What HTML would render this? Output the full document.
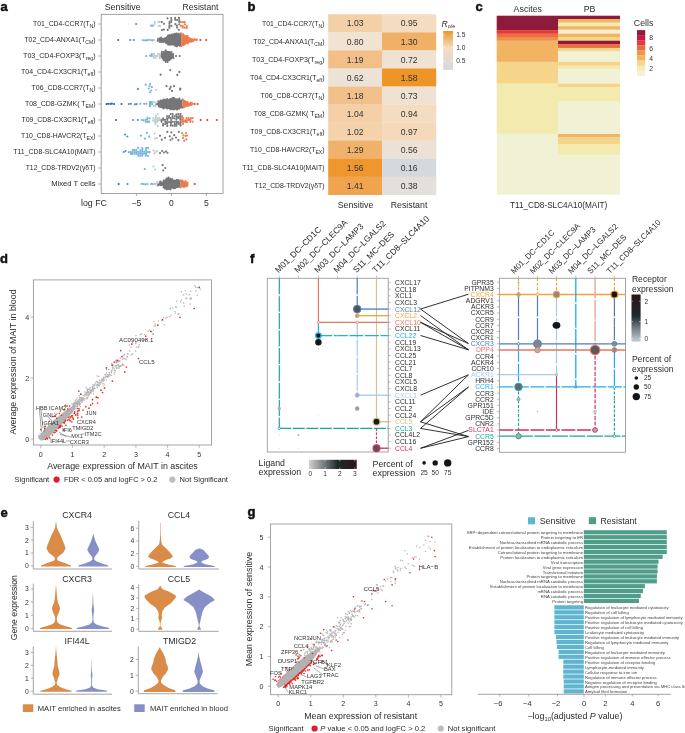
<!DOCTYPE html>
<html><head><meta charset="utf-8"><title>Figure</title>
<style>html,body{margin:0;padding:0;background:#fff;} body{width:685px;height:733px;overflow:hidden;font-family:"Liberation Sans",sans-serif;} svg{display:block;will-change:transform;}</style>
</head><body>
<svg width="685" height="733" viewBox="0 0 685 733" font-family='"Liberation Sans", sans-serif'><text x="0.5" y="10.6" font-size="13" text-anchor="start" fill="#111" font-weight="bold" stroke="#111" stroke-width="0.5">a</text>
<text x="104.7" y="10.1" font-size="8.9" text-anchor="start" fill="#2b2b2b" >Sensitive</text>
<text x="182.6" y="10.1" font-size="8.6" text-anchor="start" fill="#2b2b2b" >Resistant</text>
<rect x="101.2" y="14.3" width="121.8" height="179.1" fill="none" stroke="#8a8a8a" stroke-width="0.8"/>
<text x="95.6" y="26.4" font-size="6.95" text-anchor="end" fill="#2b2b2b" textLength="62.5" lengthAdjust="spacingAndGlyphs">T01_CD4-CCR7(T<tspan font-size="5.14" dy="1.9">N</tspan><tspan dy="-1.9">)</tspan></text>
<line x1="98.4" y1="24.0" x2="101.2" y2="24.0" stroke="#8a8a8a" stroke-width="0.7" />
<text x="95.6" y="42.4" font-size="6.95" text-anchor="end" fill="#2b2b2b" textLength="71.2" lengthAdjust="spacingAndGlyphs">T02_CD4-ANXA1(T<tspan font-size="5.14" dy="1.9">CM</tspan><tspan dy="-1.9">)</tspan></text>
<line x1="98.4" y1="40.0" x2="101.2" y2="40.0" stroke="#8a8a8a" stroke-width="0.7" />
<text x="95.6" y="58.4" font-size="6.95" text-anchor="end" fill="#2b2b2b" textLength="72.5" lengthAdjust="spacingAndGlyphs">T03_CD4-FOXP3(T<tspan font-size="5.14" dy="1.9">reg</tspan><tspan dy="-1.9">)</tspan></text>
<line x1="98.4" y1="56.0" x2="101.2" y2="56.0" stroke="#8a8a8a" stroke-width="0.7" />
<text x="95.6" y="74.4" font-size="6.95" text-anchor="end" fill="#2b2b2b" textLength="74.5" lengthAdjust="spacingAndGlyphs">T04_CD4-CX3CR1(T<tspan font-size="5.14" dy="1.9">eff</tspan><tspan dy="-1.9">)</tspan></text>
<line x1="98.4" y1="72.0" x2="101.2" y2="72.0" stroke="#8a8a8a" stroke-width="0.7" />
<text x="95.6" y="90.4" font-size="6.95" text-anchor="end" fill="#2b2b2b" textLength="64" lengthAdjust="spacingAndGlyphs">T06_CD8-CCR7(T<tspan font-size="5.14" dy="1.9">N</tspan><tspan dy="-1.9">)</tspan></text>
<line x1="98.4" y1="88.0" x2="101.2" y2="88.0" stroke="#8a8a8a" stroke-width="0.7" />
<text x="95.6" y="106.4" font-size="6.95" text-anchor="end" fill="#2b2b2b" textLength="70.7" lengthAdjust="spacingAndGlyphs">T08_CD8-GZMK( T<tspan font-size="5.14" dy="1.9">EM</tspan><tspan dy="-1.9">)</tspan></text>
<line x1="98.4" y1="104.0" x2="101.2" y2="104.0" stroke="#8a8a8a" stroke-width="0.7" />
<text x="95.6" y="122.4" font-size="6.95" text-anchor="end" fill="#2b2b2b" textLength="74.2" lengthAdjust="spacingAndGlyphs">T09_CD8-CX3CR1(T<tspan font-size="5.14" dy="1.9">eff</tspan><tspan dy="-1.9">)</tspan></text>
<line x1="98.4" y1="120.0" x2="101.2" y2="120.0" stroke="#8a8a8a" stroke-width="0.7" />
<text x="95.6" y="138.4" font-size="6.95" text-anchor="end" fill="#2b2b2b" textLength="74.6" lengthAdjust="spacingAndGlyphs">T10_CD8-HAVCR2(T<tspan font-size="5.14" dy="1.9">EX</tspan><tspan dy="-1.9">)</tspan></text>
<line x1="98.4" y1="136.0" x2="101.2" y2="136.0" stroke="#8a8a8a" stroke-width="0.7" />
<text x="95.6" y="154.4" font-size="6.95" text-anchor="end" fill="#2b2b2b" textLength="82.3" lengthAdjust="spacingAndGlyphs">T11_CD8-SLC4A10(MAIT)</text>
<line x1="98.4" y1="152.0" x2="101.2" y2="152.0" stroke="#8a8a8a" stroke-width="0.7" />
<text x="95.6" y="170.4" font-size="6.95" text-anchor="end" fill="#2b2b2b" textLength="69.9" lengthAdjust="spacingAndGlyphs">T12_CD8-TRDV2(γδT)</text>
<line x1="98.4" y1="168.0" x2="101.2" y2="168.0" stroke="#8a8a8a" stroke-width="0.7" />
<text x="95.6" y="186.4" font-size="6.95" text-anchor="end" fill="#2b2b2b" textLength="44.4" lengthAdjust="spacingAndGlyphs">Mixed T cells</text>
<line x1="98.4" y1="184.0" x2="101.2" y2="184.0" stroke="#8a8a8a" stroke-width="0.7" />
<line x1="136.4" y1="193.4" x2="136.4" y2="196.0" stroke="#8a8a8a" stroke-width="0.7" />
<text x="136.4" y="206.2" font-size="8.6" text-anchor="middle" fill="#2b2b2b" >−5</text>
<line x1="171.4" y1="193.4" x2="171.4" y2="196.0" stroke="#8a8a8a" stroke-width="0.7" />
<text x="171.4" y="206.2" font-size="8.6" text-anchor="middle" fill="#2b2b2b" >0</text>
<line x1="206.4" y1="193.4" x2="206.4" y2="196.0" stroke="#8a8a8a" stroke-width="0.7" />
<text x="206.4" y="206.2" font-size="8.6" text-anchor="middle" fill="#2b2b2b" >5</text>
<text x="81.0" y="206.2" font-size="8.8" text-anchor="start" fill="#2b2b2b" >log FC</text>
<circle cx="136.1" cy="24.0" r="1.08" fill="#4c8fcc"/>
<circle cx="151.1" cy="25.7" r="1.08" fill="#72b3da"/>
<circle cx="152.9" cy="25.7" r="1.08" fill="#72b3da"/>
<circle cx="154.6" cy="24.0" r="1.08" fill="#b9cdc9"/>
<circle cx="154.7" cy="22.1" r="1.08" fill="#b9cdc9"/>
<circle cx="158.8" cy="25.8" r="1.08" fill="#b9cdc9"/>
<circle cx="158.4" cy="21.9" r="1.08" fill="#b9cdc9"/>
<circle cx="160.0" cy="26.0" r="1.08" fill="#b9cdc9"/>
<circle cx="159.8" cy="21.9" r="1.08" fill="#b9cdc9"/>
<circle cx="162.0" cy="30.0" r="1.08" fill="#76767a"/>
<circle cx="161.9" cy="22.1" r="1.08" fill="#76767a"/>
<circle cx="164.0" cy="23.8" r="1.08" fill="#76767a"/>
<circle cx="163.8" cy="29.6" r="1.08" fill="#76767a"/>
<circle cx="167.7" cy="29.9" r="1.08" fill="#76767a"/>
<circle cx="167.5" cy="18.3" r="1.08" fill="#76767a"/>
<circle cx="169.5" cy="23.8" r="1.08" fill="#76767a"/>
<circle cx="169.3" cy="26.1" r="1.08" fill="#76767a"/>
<circle cx="169.4" cy="27.8" r="1.08" fill="#76767a"/>
<circle cx="169.5" cy="22.1" r="1.08" fill="#76767a"/>
<circle cx="171.4" cy="25.9" r="1.08" fill="#76767a"/>
<circle cx="171.2" cy="21.9" r="1.08" fill="#76767a"/>
<circle cx="171.4" cy="20.2" r="1.08" fill="#76767a"/>
<circle cx="171.2" cy="18.1" r="1.08" fill="#76767a"/>
<circle cx="175.4" cy="24.2" r="1.08" fill="#76767a"/>
<circle cx="175.3" cy="19.8" r="1.08" fill="#76767a"/>
<circle cx="175.1" cy="17.9" r="1.08" fill="#76767a"/>
<circle cx="176.9" cy="25.7" r="1.08" fill="#76767a"/>
<circle cx="177.0" cy="27.6" r="1.08" fill="#76767a"/>
<circle cx="177.0" cy="20.0" r="1.08" fill="#76767a"/>
<circle cx="179.2" cy="24.3" r="1.08" fill="#76767a"/>
<circle cx="178.8" cy="29.8" r="1.08" fill="#76767a"/>
<circle cx="179.2" cy="21.8" r="1.08" fill="#76767a"/>
<circle cx="179.2" cy="20.1" r="1.08" fill="#76767a"/>
<circle cx="179.0" cy="17.9" r="1.08" fill="#76767a"/>
<circle cx="180.8" cy="21.9" r="1.08" fill="#ec7c4b"/>
<circle cx="180.9" cy="26.1" r="1.08" fill="#ec7c4b"/>
<circle cx="182.8" cy="26.0" r="1.08" fill="#ec7c4b"/>
<circle cx="182.7" cy="27.6" r="1.08" fill="#ec7c4b"/>
<circle cx="182.8" cy="22.2" r="1.08" fill="#ec7c4b"/>
<circle cx="185.0" cy="24.3" r="1.08" fill="#ec7c4b"/>
<circle cx="184.7" cy="27.7" r="1.08" fill="#ec7c4b"/>
<circle cx="184.7" cy="22.1" r="1.08" fill="#ec7c4b"/>
<circle cx="186.8" cy="26.1" r="1.08" fill="#ec7c4b"/>
<circle cx="186.8" cy="28.1" r="1.08" fill="#ec7c4b"/>
<circle cx="118.2" cy="40.0" r="1.08" fill="#2f6db3"/>
<circle cx="130.1" cy="40.0" r="1.08" fill="#4c8fcc"/>
<circle cx="133.7" cy="40.0" r="1.08" fill="#4c8fcc"/>
<circle cx="200.4" cy="40.0" r="1.08" fill="#e0432c"/>
<circle cx="206.2" cy="40.0" r="1.08" fill="#e0432c"/>
<circle cx="142.8" cy="40.2" r="1.08" fill="#72b3da"/>
<circle cx="145.1" cy="40.3" r="1.08" fill="#72b3da"/>
<circle cx="146.8" cy="40.3" r="1.08" fill="#72b3da"/>
<circle cx="148.5" cy="39.8" r="1.08" fill="#72b3da"/>
<circle cx="150.8" cy="40.2" r="1.08" fill="#72b3da"/>
<circle cx="152.7" cy="40.3" r="1.08" fill="#72b3da"/>
<circle cx="154.3" cy="40.0" r="1.08" fill="#b9cdc9"/>
<polygon points="158.0,39.4 159.5,38.3 161.0,37.9 163.0,38.1 164.5,38.4 166.0,36.7 167.5,35.7 170.0,35.0 172.8,34.5 175.5,34.1 178.0,33.9 181.1,33.9 181.1,46.1 178.0,46.1 175.5,45.9 172.8,45.5 170.0,45.0 167.5,44.3 166.0,43.3 164.5,41.6 163.0,41.9 161.0,42.1 159.5,41.7 158.0,40.6" fill="#76767a"/>
<polygon points="181.1,33.9 183.3,34.9 186.8,36.2 191.2,37.9 194.7,39.3 197.7,39.5 197.7,40.5 194.7,40.7 191.2,42.1 186.8,43.8 183.3,45.1 181.1,46.1" fill="#ec7c4b"/>
<circle cx="157.7" cy="41.0" r="1.08" fill="#76767a"/>
<circle cx="158.0" cy="39.1" r="1.08" fill="#76767a"/>
<circle cx="159.9" cy="42.0" r="1.08" fill="#76767a"/>
<circle cx="159.6" cy="38.4" r="1.08" fill="#76767a"/>
<circle cx="161.5" cy="41.9" r="1.08" fill="#76767a"/>
<circle cx="161.2" cy="37.6" r="1.08" fill="#76767a"/>
<circle cx="163.1" cy="41.9" r="1.08" fill="#76767a"/>
<circle cx="165.1" cy="41.9" r="1.08" fill="#76767a"/>
<circle cx="164.8" cy="38.4" r="1.08" fill="#76767a"/>
<circle cx="166.3" cy="43.2" r="1.08" fill="#76767a"/>
<circle cx="168.2" cy="44.7" r="1.08" fill="#76767a"/>
<circle cx="168.1" cy="35.5" r="1.08" fill="#76767a"/>
<circle cx="170.1" cy="44.7" r="1.08" fill="#76767a"/>
<circle cx="169.7" cy="35.2" r="1.08" fill="#76767a"/>
<circle cx="171.6" cy="34.5" r="1.08" fill="#76767a"/>
<circle cx="173.4" cy="34.4" r="1.08" fill="#76767a"/>
<circle cx="175.1" cy="45.8" r="1.08" fill="#76767a"/>
<circle cx="175.0" cy="33.8" r="1.08" fill="#76767a"/>
<circle cx="176.9" cy="46.3" r="1.08" fill="#76767a"/>
<circle cx="176.7" cy="33.6" r="1.08" fill="#76767a"/>
<circle cx="178.2" cy="33.9" r="1.08" fill="#76767a"/>
<circle cx="179.9" cy="45.8" r="1.08" fill="#76767a"/>
<circle cx="180.3" cy="33.6" r="1.08" fill="#76767a"/>
<circle cx="181.2" cy="46.2" r="1.08" fill="#ec7c4b"/>
<circle cx="181.3" cy="33.5" r="1.08" fill="#ec7c4b"/>
<circle cx="183.1" cy="45.2" r="1.08" fill="#ec7c4b"/>
<circle cx="183.1" cy="34.4" r="1.08" fill="#ec7c4b"/>
<circle cx="184.5" cy="44.7" r="1.08" fill="#ec7c4b"/>
<circle cx="184.3" cy="35.5" r="1.08" fill="#ec7c4b"/>
<circle cx="186.2" cy="36.0" r="1.08" fill="#ec7c4b"/>
<circle cx="187.8" cy="43.5" r="1.08" fill="#ec7c4b"/>
<circle cx="187.6" cy="36.2" r="1.08" fill="#ec7c4b"/>
<circle cx="191.2" cy="41.7" r="1.08" fill="#ec7c4b"/>
<circle cx="192.8" cy="41.3" r="1.08" fill="#ec7c4b"/>
<circle cx="194.5" cy="39.0" r="1.08" fill="#ec7c4b"/>
<circle cx="196.5" cy="40.0" r="1.08" fill="#ec7c4b"/>
<circle cx="196.5" cy="39.7" r="1.08" fill="#ec7c4b"/>
<circle cx="146.2" cy="56.1" r="1.08" fill="#72b3da"/>
<circle cx="150.0" cy="55.7" r="1.08" fill="#72b3da"/>
<circle cx="151.9" cy="56.0" r="1.08" fill="#72b3da"/>
<circle cx="151.8" cy="54.1" r="1.08" fill="#72b3da"/>
<circle cx="153.7" cy="55.8" r="1.08" fill="#b9cdc9"/>
<circle cx="153.8" cy="57.8" r="1.08" fill="#b9cdc9"/>
<circle cx="154.0" cy="53.9" r="1.08" fill="#b9cdc9"/>
<circle cx="155.6" cy="55.9" r="1.08" fill="#b9cdc9"/>
<circle cx="155.7" cy="57.7" r="1.08" fill="#b9cdc9"/>
<circle cx="157.5" cy="56.0" r="1.08" fill="#b9cdc9"/>
<circle cx="157.9" cy="54.0" r="1.08" fill="#b9cdc9"/>
<circle cx="159.8" cy="55.9" r="1.08" fill="#b9cdc9"/>
<circle cx="159.7" cy="58.2" r="1.08" fill="#b9cdc9"/>
<circle cx="159.8" cy="54.2" r="1.08" fill="#b9cdc9"/>
<polygon points="161.0,54.5 163.0,52.0 166.0,50.8 169.0,51.0 171.5,52.5 173.0,54.5 173.0,57.5 171.5,59.5 169.0,61.0 166.0,61.2 163.0,60.0 161.0,57.5" fill="#76767a"/>
<circle cx="160.0" cy="55.9" r="1.08" fill="#b9cdc9"/>
<circle cx="159.8" cy="57.7" r="1.08" fill="#b9cdc9"/>
<circle cx="161.7" cy="55.8" r="1.08" fill="#76767a"/>
<circle cx="161.8" cy="53.9" r="1.08" fill="#76767a"/>
<circle cx="161.9" cy="51.9" r="1.08" fill="#76767a"/>
<circle cx="163.7" cy="56.3" r="1.08" fill="#76767a"/>
<circle cx="163.7" cy="60.2" r="1.08" fill="#76767a"/>
<circle cx="163.7" cy="53.8" r="1.08" fill="#76767a"/>
<circle cx="163.8" cy="52.1" r="1.08" fill="#76767a"/>
<circle cx="165.7" cy="55.7" r="1.08" fill="#76767a"/>
<circle cx="165.5" cy="57.9" r="1.08" fill="#76767a"/>
<circle cx="165.5" cy="59.8" r="1.08" fill="#76767a"/>
<circle cx="165.7" cy="61.9" r="1.08" fill="#76767a"/>
<circle cx="165.8" cy="52.3" r="1.08" fill="#76767a"/>
<circle cx="165.6" cy="50.4" r="1.08" fill="#76767a"/>
<circle cx="167.7" cy="56.1" r="1.08" fill="#76767a"/>
<circle cx="167.8" cy="58.2" r="1.08" fill="#76767a"/>
<circle cx="167.7" cy="60.1" r="1.08" fill="#76767a"/>
<circle cx="167.6" cy="61.9" r="1.08" fill="#76767a"/>
<circle cx="169.7" cy="56.1" r="1.08" fill="#76767a"/>
<circle cx="169.4" cy="57.7" r="1.08" fill="#76767a"/>
<circle cx="169.4" cy="59.7" r="1.08" fill="#76767a"/>
<circle cx="169.6" cy="52.2" r="1.08" fill="#76767a"/>
<circle cx="171.4" cy="55.7" r="1.08" fill="#76767a"/>
<circle cx="171.4" cy="54.1" r="1.08" fill="#76767a"/>
<circle cx="171.5" cy="52.0" r="1.08" fill="#76767a"/>
<circle cx="173.2" cy="56.1" r="1.08" fill="#76767a"/>
<circle cx="173.4" cy="58.2" r="1.08" fill="#76767a"/>
<circle cx="173.2" cy="54.0" r="1.08" fill="#76767a"/>
<circle cx="176.0" cy="56.0" r="1.08" fill="#76767a"/>
<circle cx="179.7" cy="56.0" r="1.08" fill="#76767a"/>
<circle cx="160.6" cy="74.7" r="1.08" fill="#76767a"/>
<circle cx="170.2" cy="70.1" r="1.08" fill="#76767a"/>
<circle cx="177.3" cy="74.9" r="1.08" fill="#76767a"/>
<circle cx="179.4" cy="71.9" r="1.08" fill="#76767a"/>
<circle cx="137.9" cy="88.9" r="1.08" fill="#4c8fcc"/>
<circle cx="145.7" cy="84.7" r="1.08" fill="#72b3da"/>
<circle cx="150.1" cy="84.0" r="1.08" fill="#72b3da"/>
<circle cx="151.8" cy="87.2" r="1.08" fill="#72b3da"/>
<circle cx="148.8" cy="88.6" r="1.08" fill="#72b3da"/>
<circle cx="151.0" cy="90.5" r="1.08" fill="#72b3da"/>
<circle cx="150.1" cy="92.3" r="1.08" fill="#72b3da"/>
<circle cx="149.5" cy="86.0" r="1.08" fill="#72b3da"/>
<circle cx="156.3" cy="90.0" r="1.08" fill="#b9cdc9"/>
<circle cx="166.5" cy="86.2" r="1.08" fill="#76767a"/>
<circle cx="170.7" cy="86.9" r="1.08" fill="#76767a"/>
<circle cx="174.1" cy="86.2" r="1.08" fill="#76767a"/>
<circle cx="169.8" cy="88.9" r="1.08" fill="#76767a"/>
<circle cx="172.0" cy="90.9" r="1.08" fill="#76767a"/>
<circle cx="180.3" cy="88.5" r="1.08" fill="#76767a"/>
<circle cx="180.1" cy="89.6" r="1.08" fill="#76767a"/>
<circle cx="106.5" cy="104.1" r="1.08" fill="#2f6db3"/>
<circle cx="108.1" cy="103.8" r="1.08" fill="#2f6db3"/>
<circle cx="110.3" cy="103.9" r="1.08" fill="#2f6db3"/>
<circle cx="111.9" cy="103.7" r="1.08" fill="#2f6db3"/>
<circle cx="114.1" cy="104.1" r="1.08" fill="#2f6db3"/>
<circle cx="121.5" cy="104.0" r="1.08" fill="#2f6db3"/>
<circle cx="197.6" cy="104.0" r="1.08" fill="#e0432c"/>
<circle cx="128.9" cy="104.0" r="1.08" fill="#4c8fcc"/>
<circle cx="130.9" cy="103.8" r="1.08" fill="#4c8fcc"/>
<circle cx="134.9" cy="104.3" r="1.08" fill="#4c8fcc"/>
<circle cx="136.6" cy="104.2" r="1.08" fill="#4c8fcc"/>
<circle cx="140.3" cy="103.8" r="1.08" fill="#72b3da"/>
<circle cx="144.2" cy="103.8" r="1.08" fill="#72b3da"/>
<circle cx="146.3" cy="103.8" r="1.08" fill="#72b3da"/>
<circle cx="150.1" cy="104.1" r="1.08" fill="#72b3da"/>
<circle cx="150.1" cy="105.9" r="1.08" fill="#72b3da"/>
<circle cx="149.7" cy="102.0" r="1.08" fill="#72b3da"/>
<circle cx="149.9" cy="103.8" r="1.08" fill="#72b3da"/>
<circle cx="149.9" cy="106.2" r="1.08" fill="#72b3da"/>
<circle cx="150.1" cy="102.3" r="1.08" fill="#72b3da"/>
<circle cx="152.1" cy="104.1" r="1.08" fill="#72b3da"/>
<circle cx="151.8" cy="102.0" r="1.08" fill="#72b3da"/>
<circle cx="153.7" cy="105.9" r="1.08" fill="#b9cdc9"/>
<circle cx="153.6" cy="101.8" r="1.08" fill="#b9cdc9"/>
<circle cx="155.6" cy="104.3" r="1.08" fill="#b9cdc9"/>
<circle cx="155.6" cy="106.0" r="1.08" fill="#b9cdc9"/>
<circle cx="155.6" cy="102.3" r="1.08" fill="#b9cdc9"/>
<circle cx="157.8" cy="104.1" r="1.08" fill="#b9cdc9"/>
<polygon points="157.0,103.4 158.0,102.1 160.0,101.1 163.0,100.1 167.0,99.3 171.0,98.6 175.0,98.2 178.0,98.6 181.0,99.7 182.5,100.1 182.5,107.9 181.0,108.3 178.0,109.4 175.0,109.8 171.0,109.4 167.0,108.7 163.0,107.9 160.0,106.9 158.0,105.9 157.0,104.6" fill="#76767a"/>
<polygon points="182.5,100.1 184.0,100.9 187.0,101.9 190.0,102.7 193.0,103.5 195.0,103.5 195.0,104.5 193.0,104.5 190.0,105.3 187.0,106.1 184.0,107.1 182.5,107.9" fill="#ec7c4b"/>
<circle cx="157.1" cy="104.2" r="1.08" fill="#76767a"/>
<circle cx="158.9" cy="106.4" r="1.08" fill="#76767a"/>
<circle cx="158.4" cy="101.4" r="1.08" fill="#76767a"/>
<circle cx="160.4" cy="106.9" r="1.08" fill="#76767a"/>
<circle cx="160.5" cy="100.6" r="1.08" fill="#76767a"/>
<circle cx="162.2" cy="107.4" r="1.08" fill="#76767a"/>
<circle cx="162.0" cy="100.7" r="1.08" fill="#76767a"/>
<circle cx="163.6" cy="108.4" r="1.08" fill="#76767a"/>
<circle cx="163.6" cy="99.6" r="1.08" fill="#76767a"/>
<circle cx="165.3" cy="99.8" r="1.08" fill="#76767a"/>
<circle cx="167.1" cy="108.4" r="1.08" fill="#76767a"/>
<circle cx="167.1" cy="99.2" r="1.08" fill="#76767a"/>
<circle cx="170.5" cy="109.3" r="1.08" fill="#76767a"/>
<circle cx="170.5" cy="99.0" r="1.08" fill="#76767a"/>
<circle cx="172.6" cy="109.2" r="1.08" fill="#76767a"/>
<circle cx="172.4" cy="98.2" r="1.08" fill="#76767a"/>
<circle cx="173.9" cy="109.5" r="1.08" fill="#76767a"/>
<circle cx="174.0" cy="97.9" r="1.08" fill="#76767a"/>
<circle cx="177.1" cy="109.6" r="1.08" fill="#76767a"/>
<circle cx="179.2" cy="108.6" r="1.08" fill="#76767a"/>
<circle cx="179.4" cy="98.7" r="1.08" fill="#76767a"/>
<circle cx="182.3" cy="107.6" r="1.08" fill="#76767a"/>
<circle cx="182.6" cy="99.7" r="1.08" fill="#76767a"/>
<circle cx="182.7" cy="100.1" r="1.08" fill="#ec7c4b"/>
<circle cx="183.9" cy="107.3" r="1.08" fill="#ec7c4b"/>
<circle cx="184.5" cy="100.9" r="1.08" fill="#ec7c4b"/>
<circle cx="185.7" cy="106.3" r="1.08" fill="#ec7c4b"/>
<circle cx="186.0" cy="101.8" r="1.08" fill="#ec7c4b"/>
<circle cx="187.6" cy="106.0" r="1.08" fill="#ec7c4b"/>
<circle cx="187.4" cy="102.0" r="1.08" fill="#ec7c4b"/>
<circle cx="189.2" cy="105.5" r="1.08" fill="#ec7c4b"/>
<circle cx="191.2" cy="104.9" r="1.08" fill="#ec7c4b"/>
<circle cx="190.8" cy="102.7" r="1.08" fill="#ec7c4b"/>
<circle cx="192.4" cy="103.6" r="1.08" fill="#ec7c4b"/>
<circle cx="194.4" cy="103.8" r="1.08" fill="#ec7c4b"/>
<circle cx="194.7" cy="104.2" r="1.08" fill="#ec7c4b"/>
<circle cx="116.0" cy="120.0" r="1.08" fill="#2f6db3"/>
<circle cx="133.2" cy="120.0" r="1.08" fill="#4c8fcc"/>
<circle cx="200.7" cy="120.0" r="1.08" fill="#e0432c"/>
<circle cx="207.3" cy="120.0" r="1.08" fill="#e0432c"/>
<circle cx="216.8" cy="120.0" r="1.08" fill="#e0432c"/>
<circle cx="137.9" cy="120.0" r="1.08" fill="#4c8fcc"/>
<circle cx="141.9" cy="120.1" r="1.08" fill="#72b3da"/>
<circle cx="143.6" cy="120.3" r="1.08" fill="#72b3da"/>
<circle cx="145.8" cy="119.8" r="1.08" fill="#72b3da"/>
<circle cx="145.7" cy="121.8" r="1.08" fill="#72b3da"/>
<circle cx="147.3" cy="119.8" r="1.08" fill="#72b3da"/>
<circle cx="147.6" cy="122.2" r="1.08" fill="#72b3da"/>
<circle cx="147.4" cy="117.9" r="1.08" fill="#72b3da"/>
<circle cx="149.2" cy="121.7" r="1.08" fill="#72b3da"/>
<circle cx="149.6" cy="118.3" r="1.08" fill="#72b3da"/>
<circle cx="153.0" cy="120.3" r="1.08" fill="#b9cdc9"/>
<circle cx="153.3" cy="118.0" r="1.08" fill="#b9cdc9"/>
<circle cx="155.0" cy="119.8" r="1.08" fill="#b9cdc9"/>
<circle cx="155.0" cy="121.9" r="1.08" fill="#b9cdc9"/>
<circle cx="155.9" cy="119.8" r="1.08" fill="#b9cdc9"/>
<circle cx="155.9" cy="122.1" r="1.08" fill="#b9cdc9"/>
<circle cx="155.5" cy="123.9" r="1.08" fill="#b9cdc9"/>
<circle cx="155.9" cy="117.9" r="1.08" fill="#b9cdc9"/>
<circle cx="155.9" cy="115.8" r="1.08" fill="#b9cdc9"/>
<circle cx="157.8" cy="120.2" r="1.08" fill="#b9cdc9"/>
<circle cx="157.4" cy="121.7" r="1.08" fill="#b9cdc9"/>
<circle cx="157.7" cy="126.1" r="1.08" fill="#b9cdc9"/>
<circle cx="157.5" cy="118.3" r="1.08" fill="#b9cdc9"/>
<circle cx="157.7" cy="114.0" r="1.08" fill="#b9cdc9"/>
<circle cx="159.3" cy="120.2" r="1.08" fill="#b9cdc9"/>
<circle cx="159.4" cy="118.0" r="1.08" fill="#b9cdc9"/>
<circle cx="161.3" cy="120.0" r="1.08" fill="#76767a"/>
<circle cx="161.6" cy="121.8" r="1.08" fill="#76767a"/>
<circle cx="163.2" cy="119.9" r="1.08" fill="#76767a"/>
<circle cx="163.1" cy="124.1" r="1.08" fill="#76767a"/>
<circle cx="163.1" cy="125.6" r="1.08" fill="#76767a"/>
<circle cx="163.2" cy="118.3" r="1.08" fill="#76767a"/>
<circle cx="165.0" cy="119.8" r="1.08" fill="#76767a"/>
<circle cx="165.3" cy="121.9" r="1.08" fill="#76767a"/>
<circle cx="165.2" cy="124.0" r="1.08" fill="#76767a"/>
<circle cx="167.3" cy="119.9" r="1.08" fill="#76767a"/>
<circle cx="167.0" cy="122.1" r="1.08" fill="#76767a"/>
<circle cx="167.0" cy="123.7" r="1.08" fill="#76767a"/>
<circle cx="167.3" cy="125.9" r="1.08" fill="#76767a"/>
<circle cx="167.0" cy="118.3" r="1.08" fill="#76767a"/>
<circle cx="167.0" cy="116.3" r="1.08" fill="#76767a"/>
<circle cx="169.0" cy="122.1" r="1.08" fill="#76767a"/>
<circle cx="168.9" cy="117.8" r="1.08" fill="#76767a"/>
<circle cx="169.2" cy="116.1" r="1.08" fill="#76767a"/>
<circle cx="171.1" cy="120.0" r="1.08" fill="#76767a"/>
<circle cx="171.0" cy="122.2" r="1.08" fill="#76767a"/>
<circle cx="170.9" cy="124.0" r="1.08" fill="#76767a"/>
<circle cx="170.8" cy="125.6" r="1.08" fill="#76767a"/>
<circle cx="170.8" cy="118.1" r="1.08" fill="#76767a"/>
<circle cx="170.7" cy="114.0" r="1.08" fill="#76767a"/>
<circle cx="172.7" cy="121.8" r="1.08" fill="#76767a"/>
<circle cx="172.6" cy="125.6" r="1.08" fill="#76767a"/>
<circle cx="172.8" cy="118.1" r="1.08" fill="#76767a"/>
<circle cx="172.6" cy="116.2" r="1.08" fill="#76767a"/>
<circle cx="172.7" cy="114.0" r="1.08" fill="#76767a"/>
<circle cx="174.7" cy="121.9" r="1.08" fill="#76767a"/>
<circle cx="174.9" cy="124.2" r="1.08" fill="#76767a"/>
<circle cx="174.5" cy="126.0" r="1.08" fill="#76767a"/>
<circle cx="174.5" cy="118.3" r="1.08" fill="#76767a"/>
<circle cx="174.9" cy="116.0" r="1.08" fill="#76767a"/>
<circle cx="176.4" cy="119.7" r="1.08" fill="#76767a"/>
<circle cx="176.7" cy="122.2" r="1.08" fill="#76767a"/>
<circle cx="176.7" cy="123.8" r="1.08" fill="#76767a"/>
<circle cx="176.4" cy="125.7" r="1.08" fill="#76767a"/>
<circle cx="176.8" cy="117.8" r="1.08" fill="#76767a"/>
<circle cx="176.8" cy="116.4" r="1.08" fill="#76767a"/>
<circle cx="176.4" cy="114.4" r="1.08" fill="#76767a"/>
<circle cx="178.3" cy="122.2" r="1.08" fill="#76767a"/>
<circle cx="178.7" cy="124.0" r="1.08" fill="#76767a"/>
<circle cx="178.6" cy="117.9" r="1.08" fill="#76767a"/>
<circle cx="178.7" cy="116.3" r="1.08" fill="#76767a"/>
<circle cx="178.4" cy="114.1" r="1.08" fill="#76767a"/>
<circle cx="180.3" cy="119.8" r="1.08" fill="#76767a"/>
<circle cx="180.5" cy="122.2" r="1.08" fill="#76767a"/>
<circle cx="180.4" cy="124.1" r="1.08" fill="#76767a"/>
<circle cx="180.6" cy="125.6" r="1.08" fill="#76767a"/>
<circle cx="180.4" cy="118.1" r="1.08" fill="#76767a"/>
<circle cx="180.4" cy="116.1" r="1.08" fill="#76767a"/>
<circle cx="180.5" cy="114.1" r="1.08" fill="#76767a"/>
<circle cx="182.1" cy="120.1" r="1.08" fill="#ec7c4b"/>
<circle cx="182.2" cy="122.1" r="1.08" fill="#ec7c4b"/>
<circle cx="182.1" cy="118.0" r="1.08" fill="#ec7c4b"/>
<circle cx="182.1" cy="116.1" r="1.08" fill="#ec7c4b"/>
<circle cx="183.0" cy="120.0" r="1.08" fill="#ec7c4b"/>
<circle cx="183.1" cy="121.7" r="1.08" fill="#ec7c4b"/>
<circle cx="183.1" cy="123.9" r="1.08" fill="#ec7c4b"/>
<circle cx="183.0" cy="118.0" r="1.08" fill="#ec7c4b"/>
<circle cx="185.1" cy="120.3" r="1.08" fill="#ec7c4b"/>
<circle cx="185.1" cy="121.8" r="1.08" fill="#ec7c4b"/>
<circle cx="187.0" cy="120.2" r="1.08" fill="#ec7c4b"/>
<circle cx="186.9" cy="122.2" r="1.08" fill="#ec7c4b"/>
<circle cx="186.7" cy="118.2" r="1.08" fill="#ec7c4b"/>
<circle cx="188.9" cy="119.9" r="1.08" fill="#ec7c4b"/>
<circle cx="188.7" cy="118.3" r="1.08" fill="#ec7c4b"/>
<circle cx="190.5" cy="120.0" r="1.08" fill="#ec7c4b"/>
<circle cx="190.4" cy="121.8" r="1.08" fill="#ec7c4b"/>
<circle cx="190.8" cy="118.2" r="1.08" fill="#ec7c4b"/>
<circle cx="192.6" cy="121.7" r="1.08" fill="#ec7c4b"/>
<circle cx="192.6" cy="118.0" r="1.08" fill="#ec7c4b"/>
<circle cx="125.1" cy="134.5" r="1.08" fill="#4c8fcc"/>
<circle cx="127.3" cy="136.5" r="1.08" fill="#4c8fcc"/>
<circle cx="140.9" cy="135.7" r="1.08" fill="#72b3da"/>
<circle cx="146.8" cy="132.8" r="1.08" fill="#72b3da"/>
<circle cx="144.9" cy="138.6" r="1.08" fill="#72b3da"/>
<circle cx="149.2" cy="136.7" r="1.08" fill="#72b3da"/>
<circle cx="154.6" cy="133.5" r="1.08" fill="#b9cdc9"/>
<circle cx="155.3" cy="138.6" r="1.08" fill="#b9cdc9"/>
<circle cx="156.8" cy="138.0" r="1.08" fill="#b9cdc9"/>
<circle cx="160.0" cy="135.8" r="1.08" fill="#76767a"/>
<circle cx="161.8" cy="139.7" r="1.08" fill="#76767a"/>
<circle cx="167.3" cy="131.9" r="1.08" fill="#76767a"/>
<circle cx="171.3" cy="132.3" r="1.08" fill="#76767a"/>
<circle cx="169.8" cy="136.3" r="1.08" fill="#76767a"/>
<circle cx="174.2" cy="135.2" r="1.08" fill="#76767a"/>
<circle cx="170.5" cy="140.0" r="1.08" fill="#76767a"/>
<circle cx="172.4" cy="138.6" r="1.08" fill="#76767a"/>
<circle cx="178.8" cy="131.8" r="1.08" fill="#76767a"/>
<circle cx="178.4" cy="140.2" r="1.08" fill="#76767a"/>
<circle cx="176.0" cy="137.5" r="1.08" fill="#76767a"/>
<circle cx="165.0" cy="137.8" r="1.08" fill="#76767a"/>
<circle cx="182.2" cy="133.2" r="1.08" fill="#ec7c4b"/>
<circle cx="186.0" cy="133.0" r="1.08" fill="#ec7c4b"/>
<circle cx="187.0" cy="135.5" r="1.08" fill="#ec7c4b"/>
<circle cx="183.0" cy="138.0" r="1.08" fill="#ec7c4b"/>
<circle cx="186.4" cy="139.4" r="1.08" fill="#ec7c4b"/>
<circle cx="184.2" cy="140.7" r="1.08" fill="#ec7c4b"/>
<circle cx="185.7" cy="135.9" r="1.08" fill="#ec7c4b"/>
<circle cx="183.5" cy="135.4" r="1.08" fill="#ec7c4b"/>
<circle cx="123.7" cy="152.0" r="1.08" fill="#4c8fcc"/>
<circle cx="125.5" cy="151.0" r="1.08" fill="#4c8fcc"/>
<circle cx="128.9" cy="152.2" r="1.08" fill="#72b3da"/>
<circle cx="131.0" cy="152.1" r="1.08" fill="#72b3da"/>
<circle cx="130.9" cy="153.8" r="1.08" fill="#72b3da"/>
<circle cx="132.6" cy="152.2" r="1.08" fill="#72b3da"/>
<circle cx="132.5" cy="154.1" r="1.08" fill="#72b3da"/>
<circle cx="132.9" cy="149.9" r="1.08" fill="#72b3da"/>
<circle cx="134.8" cy="152.1" r="1.08" fill="#72b3da"/>
<circle cx="134.5" cy="153.7" r="1.08" fill="#72b3da"/>
<circle cx="134.4" cy="150.1" r="1.08" fill="#72b3da"/>
<circle cx="136.5" cy="152.2" r="1.08" fill="#72b3da"/>
<circle cx="136.4" cy="154.0" r="1.08" fill="#72b3da"/>
<circle cx="136.3" cy="150.0" r="1.08" fill="#72b3da"/>
<circle cx="138.3" cy="151.8" r="1.08" fill="#72b3da"/>
<circle cx="138.4" cy="153.8" r="1.08" fill="#72b3da"/>
<circle cx="138.4" cy="155.7" r="1.08" fill="#72b3da"/>
<circle cx="138.2" cy="147.9" r="1.08" fill="#72b3da"/>
<circle cx="140.5" cy="152.2" r="1.08" fill="#72b3da"/>
<circle cx="140.2" cy="153.7" r="1.08" fill="#72b3da"/>
<circle cx="140.3" cy="155.8" r="1.08" fill="#72b3da"/>
<circle cx="140.3" cy="150.3" r="1.08" fill="#72b3da"/>
<circle cx="142.4" cy="151.7" r="1.08" fill="#72b3da"/>
<circle cx="142.2" cy="153.8" r="1.08" fill="#72b3da"/>
<circle cx="142.3" cy="155.6" r="1.08" fill="#72b3da"/>
<circle cx="142.4" cy="149.8" r="1.08" fill="#72b3da"/>
<circle cx="142.3" cy="148.1" r="1.08" fill="#72b3da"/>
<circle cx="144.3" cy="151.8" r="1.08" fill="#72b3da"/>
<circle cx="144.0" cy="153.7" r="1.08" fill="#72b3da"/>
<circle cx="146.2" cy="152.1" r="1.08" fill="#72b3da"/>
<circle cx="146.1" cy="153.9" r="1.08" fill="#72b3da"/>
<circle cx="145.8" cy="155.7" r="1.08" fill="#72b3da"/>
<circle cx="145.9" cy="150.2" r="1.08" fill="#72b3da"/>
<circle cx="146.2" cy="148.2" r="1.08" fill="#72b3da"/>
<circle cx="147.9" cy="152.0" r="1.08" fill="#72b3da"/>
<circle cx="147.8" cy="156.0" r="1.08" fill="#72b3da"/>
<circle cx="148.1" cy="147.8" r="1.08" fill="#72b3da"/>
<circle cx="149.7" cy="152.1" r="1.08" fill="#72b3da"/>
<circle cx="153.5" cy="150.5" r="1.08" fill="#b9cdc9"/>
<circle cx="154.5" cy="153.5" r="1.08" fill="#b9cdc9"/>
<circle cx="155.5" cy="152.0" r="1.08" fill="#b9cdc9"/>
<circle cx="157.0" cy="151.0" r="1.08" fill="#b9cdc9"/>
<circle cx="160.0" cy="153.0" r="1.08" fill="#76767a"/>
<circle cx="162.0" cy="151.0" r="1.08" fill="#76767a"/>
<circle cx="164.0" cy="152.5" r="1.08" fill="#76767a"/>
<circle cx="166.0" cy="151.5" r="1.08" fill="#76767a"/>
<circle cx="167.5" cy="152.8" r="1.08" fill="#76767a"/>
<circle cx="144.8" cy="169.0" r="1.08" fill="#72b3da"/>
<circle cx="153.4" cy="166.5" r="1.08" fill="#b9cdc9"/>
<circle cx="155.0" cy="169.5" r="1.08" fill="#b9cdc9"/>
<circle cx="162.6" cy="165.2" r="1.08" fill="#76767a"/>
<circle cx="165.3" cy="168.0" r="1.08" fill="#76767a"/>
<circle cx="163.2" cy="170.5" r="1.08" fill="#76767a"/>
<circle cx="118.6" cy="184.0" r="1.08" fill="#2f6db3"/>
<circle cx="127.4" cy="184.0" r="1.08" fill="#4c8fcc"/>
<circle cx="194.7" cy="184.0" r="1.08" fill="#e0432c"/>
<circle cx="141.7" cy="183.9" r="1.08" fill="#72b3da"/>
<circle cx="143.6" cy="184.1" r="1.08" fill="#72b3da"/>
<circle cx="145.4" cy="184.3" r="1.08" fill="#72b3da"/>
<circle cx="147.4" cy="184.1" r="1.08" fill="#72b3da"/>
<circle cx="151.1" cy="184.0" r="1.08" fill="#72b3da"/>
<circle cx="152.8" cy="184.1" r="1.08" fill="#72b3da"/>
<circle cx="155.0" cy="183.8" r="1.08" fill="#b9cdc9"/>
<circle cx="155.2" cy="184.3" r="1.08" fill="#b9cdc9"/>
<circle cx="157.1" cy="183.7" r="1.08" fill="#b9cdc9"/>
<circle cx="157.4" cy="186.0" r="1.08" fill="#b9cdc9"/>
<circle cx="157.4" cy="181.8" r="1.08" fill="#b9cdc9"/>
<polygon points="158.3,183.4 159.5,182.1 161.0,181.7 162.3,182.3 163.0,181.4 164.0,179.9 166.0,178.7 168.4,178.0 170.5,178.7 172.8,179.4 176.3,179.7 179.8,180.4 180.6,180.6 180.6,187.4 179.8,187.6 176.3,188.3 172.8,188.6 170.5,189.3 168.4,190.0 166.0,189.3 164.0,188.1 163.0,186.6 162.3,185.7 161.0,186.3 159.5,185.9 158.3,184.6" fill="#76767a"/>
<polygon points="180.6,180.6 183.3,180.9 185.9,181.4 187.7,182.9 188.5,183.5 188.5,184.5 187.7,185.1 185.9,186.6 183.3,187.1 180.6,187.4" fill="#ec7c4b"/>
<circle cx="158.2" cy="184.9" r="1.08" fill="#76767a"/>
<circle cx="160.2" cy="181.6" r="1.08" fill="#76767a"/>
<circle cx="161.5" cy="182.3" r="1.08" fill="#76767a"/>
<circle cx="163.6" cy="187.4" r="1.08" fill="#76767a"/>
<circle cx="163.6" cy="180.7" r="1.08" fill="#76767a"/>
<circle cx="164.9" cy="188.4" r="1.08" fill="#76767a"/>
<circle cx="166.7" cy="189.5" r="1.08" fill="#76767a"/>
<circle cx="166.7" cy="178.6" r="1.08" fill="#76767a"/>
<circle cx="168.4" cy="177.7" r="1.08" fill="#76767a"/>
<circle cx="170.4" cy="189.5" r="1.08" fill="#76767a"/>
<circle cx="170.1" cy="178.7" r="1.08" fill="#76767a"/>
<circle cx="172.0" cy="179.1" r="1.08" fill="#76767a"/>
<circle cx="173.8" cy="188.2" r="1.08" fill="#76767a"/>
<circle cx="175.0" cy="188.1" r="1.08" fill="#76767a"/>
<circle cx="177.0" cy="179.8" r="1.08" fill="#76767a"/>
<circle cx="178.7" cy="180.3" r="1.08" fill="#76767a"/>
<circle cx="180.7" cy="180.7" r="1.08" fill="#76767a"/>
<circle cx="180.7" cy="187.4" r="1.08" fill="#ec7c4b"/>
<circle cx="180.7" cy="180.9" r="1.08" fill="#ec7c4b"/>
<circle cx="182.5" cy="180.7" r="1.08" fill="#ec7c4b"/>
<circle cx="183.9" cy="186.9" r="1.08" fill="#ec7c4b"/>
<circle cx="185.9" cy="186.3" r="1.08" fill="#ec7c4b"/>
<circle cx="185.6" cy="181.0" r="1.08" fill="#ec7c4b"/>
<circle cx="187.3" cy="185.7" r="1.08" fill="#ec7c4b"/>
<circle cx="187.4" cy="182.6" r="1.08" fill="#ec7c4b"/>
<text x="247.5" y="10.6" font-size="13" text-anchor="start" fill="#111" font-weight="bold" stroke="#111" stroke-width="0.5">b</text>
<rect x="328.20" y="14.30" width="53.80" height="18.25" fill="#f4d0a9" />
<rect x="382.00" y="14.30" width="54.20" height="18.25" fill="#f4dcc0" />
<text x="355.1" y="26.4" font-size="8.6" text-anchor="middle" fill="#333" >1.03</text>
<text x="409.1" y="26.4" font-size="8.6" text-anchor="middle" fill="#333" >0.95</text>
<text x="324.5" y="25.7" font-size="7.0" text-anchor="end" fill="#2b2b2b" textLength="62.5" lengthAdjust="spacingAndGlyphs">T01_CD4-CCR7(T<tspan font-size="5.18" dy="1.9">N</tspan><tspan dy="-1.9">)</tspan></text>
<rect x="328.20" y="32.35" width="53.80" height="18.25" fill="#f1e3d2" />
<rect x="382.00" y="32.35" width="54.20" height="18.25" fill="#f0b068" />
<text x="355.1" y="44.5" font-size="8.6" text-anchor="middle" fill="#333" >0.80</text>
<text x="409.1" y="44.5" font-size="8.6" text-anchor="middle" fill="#333" >1.30</text>
<text x="324.5" y="43.8" font-size="7.0" text-anchor="end" fill="#2b2b2b" textLength="71.2" lengthAdjust="spacingAndGlyphs">T02_CD4-ANXA1(T<tspan font-size="5.18" dy="1.9">CM</tspan><tspan dy="-1.9">)</tspan></text>
<rect x="328.20" y="50.40" width="53.80" height="18.25" fill="#f2bf88" />
<rect x="382.00" y="50.40" width="54.20" height="18.25" fill="#efe2d3" />
<text x="355.1" y="62.5" font-size="8.6" text-anchor="middle" fill="#333" >1.19</text>
<text x="409.1" y="62.5" font-size="8.6" text-anchor="middle" fill="#333" >0.72</text>
<text x="324.5" y="61.8" font-size="7.0" text-anchor="end" fill="#2b2b2b" textLength="72.5" lengthAdjust="spacingAndGlyphs">T03_CD4-FOXP3(T<tspan font-size="5.18" dy="1.9">reg</tspan><tspan dy="-1.9">)</tspan></text>
<rect x="328.20" y="68.45" width="53.80" height="18.25" fill="#ece2d5" />
<rect x="382.00" y="68.45" width="54.20" height="18.25" fill="#ef9527" />
<text x="355.1" y="80.6" font-size="8.6" text-anchor="middle" fill="#333" >0.62</text>
<text x="409.1" y="80.6" font-size="8.6" text-anchor="middle" fill="#333" >1.58</text>
<text x="324.5" y="79.9" font-size="7.0" text-anchor="end" fill="#2b2b2b" textLength="74.5" lengthAdjust="spacingAndGlyphs">T04_CD4-CX3CR1(T<tspan font-size="5.18" dy="1.9">eff</tspan><tspan dy="-1.9">)</tspan></text>
<rect x="328.20" y="86.50" width="53.80" height="18.25" fill="#f2c08a" />
<rect x="382.00" y="86.50" width="54.20" height="18.25" fill="#efe2d3" />
<text x="355.1" y="98.6" font-size="8.6" text-anchor="middle" fill="#333" >1.18</text>
<text x="409.1" y="98.6" font-size="8.6" text-anchor="middle" fill="#333" >0.73</text>
<text x="324.5" y="97.9" font-size="7.0" text-anchor="end" fill="#2b2b2b" textLength="64" lengthAdjust="spacingAndGlyphs">T06_CD8-CCR7(T<tspan font-size="5.18" dy="1.9">N</tspan><tspan dy="-1.9">)</tspan></text>
<rect x="328.20" y="104.55" width="53.80" height="18.25" fill="#f4cfa7" />
<rect x="382.00" y="104.55" width="54.20" height="18.25" fill="#f4dcc1" />
<text x="355.1" y="116.7" font-size="8.6" text-anchor="middle" fill="#333" >1.04</text>
<text x="409.1" y="116.7" font-size="8.6" text-anchor="middle" fill="#333" >0.94</text>
<text x="324.5" y="116.0" font-size="7.0" text-anchor="end" fill="#2b2b2b" textLength="70.7" lengthAdjust="spacingAndGlyphs">T08_CD8-GZMK( T<tspan font-size="5.18" dy="1.9">EM</tspan><tspan dy="-1.9">)</tspan></text>
<rect x="328.20" y="122.60" width="53.80" height="18.25" fill="#f4d2ac" />
<rect x="382.00" y="122.60" width="54.20" height="18.25" fill="#f4d9ba" />
<text x="355.1" y="134.7" font-size="8.6" text-anchor="middle" fill="#333" >1.02</text>
<text x="409.1" y="134.7" font-size="8.6" text-anchor="middle" fill="#333" >0.97</text>
<text x="324.5" y="134.0" font-size="7.0" text-anchor="end" fill="#2b2b2b" textLength="74.2" lengthAdjust="spacingAndGlyphs">T09_CD8-CX3CR1(T<tspan font-size="5.18" dy="1.9">eff</tspan><tspan dy="-1.9">)</tspan></text>
<rect x="328.20" y="140.65" width="53.80" height="18.25" fill="#f0b16b" />
<rect x="382.00" y="140.65" width="54.20" height="18.25" fill="#ebe1d6" />
<text x="355.1" y="152.8" font-size="8.6" text-anchor="middle" fill="#333" >1.29</text>
<text x="409.1" y="152.8" font-size="8.6" text-anchor="middle" fill="#333" >0.56</text>
<text x="324.5" y="152.1" font-size="7.0" text-anchor="end" fill="#2b2b2b" textLength="74.6" lengthAdjust="spacingAndGlyphs">T10_CD8-HAVCR2(T<tspan font-size="5.18" dy="1.9">EX</tspan><tspan dy="-1.9">)</tspan></text>
<rect x="328.20" y="158.70" width="53.80" height="18.25" fill="#ef972c" />
<rect x="382.00" y="158.70" width="54.20" height="18.25" fill="#d5d9de" />
<text x="355.1" y="170.8" font-size="8.6" text-anchor="middle" fill="#333" >1.56</text>
<text x="409.1" y="170.8" font-size="8.6" text-anchor="middle" fill="#333" >0.16</text>
<text x="324.5" y="170.1" font-size="7.0" text-anchor="end" fill="#2b2b2b" textLength="82.3" lengthAdjust="spacingAndGlyphs">T11_CD8-SLC4A10(MAIT)</text>
<rect x="328.20" y="176.75" width="53.80" height="18.25" fill="#f0a450" />
<rect x="382.00" y="176.75" width="54.20" height="18.25" fill="#e3dfdb" />
<text x="355.1" y="188.9" font-size="8.6" text-anchor="middle" fill="#333" >1.41</text>
<text x="409.1" y="188.9" font-size="8.6" text-anchor="middle" fill="#333" >0.38</text>
<text x="324.5" y="188.2" font-size="7.0" text-anchor="end" fill="#2b2b2b" textLength="69.9" lengthAdjust="spacingAndGlyphs">T12_CD8-TRDV2(γδT)</text>
<text x="355.5" y="207.5" font-size="8.8" text-anchor="middle" fill="#2b2b2b" >Sensitive</text>
<text x="409.0" y="207.5" font-size="8.8" text-anchor="middle" fill="#2b2b2b" >Resistant</text>
<defs><linearGradient id="roe" x1="0" y1="0" x2="0" y2="1"><stop offset="0" stop-color="#ef9527"/><stop offset="0.43" stop-color="#f4dcc0"/><stop offset="1" stop-color="#d5d9de"/></linearGradient></defs>
<text x="441.5" y="26.5" font-size="8.6" font-style="italic" fill="#2b2b2b">R<tspan font-size="5.4" font-style="normal" dy="1.8">o/e</tspan></text>
<rect x="443.20" y="31.00" width="9.80" height="38.90" fill="url(#roe)" />
<line x1="443.2" y1="35.0" x2="445.2" y2="35.0" stroke="#fff" stroke-width="0.5" />
<line x1="451.0" y1="35.0" x2="453.0" y2="35.0" stroke="#fff" stroke-width="0.5" />
<text x="456.2" y="37.4" font-size="6.6" text-anchor="start" fill="#333" >1.5</text>
<line x1="443.2" y1="47.7" x2="445.2" y2="47.7" stroke="#fff" stroke-width="0.5" />
<line x1="451.0" y1="47.7" x2="453.0" y2="47.7" stroke="#fff" stroke-width="0.5" />
<text x="456.2" y="50.1" font-size="6.6" text-anchor="start" fill="#333" >1.0</text>
<line x1="443.2" y1="61.0" x2="445.2" y2="61.0" stroke="#fff" stroke-width="0.5" />
<line x1="451.0" y1="61.0" x2="453.0" y2="61.0" stroke="#fff" stroke-width="0.5" />
<text x="456.2" y="63.4" font-size="6.6" text-anchor="start" fill="#333" >0.5</text>
<text x="475.5" y="10.6" font-size="13" text-anchor="start" fill="#111" font-weight="bold" stroke="#111" stroke-width="0.5">c</text>
<text x="527.8" y="12.3" font-size="8.8" text-anchor="middle" fill="#2b2b2b" >Ascites</text>
<text x="589.5" y="12.3" font-size="8.8" text-anchor="middle" fill="#2b2b2b" >PB</text>
<rect x="496.70" y="15.70" width="61.30" height="14.55" fill="#8e1b3b" />
<rect x="496.70" y="30.10" width="61.30" height="3.75" fill="#e23b38" />
<rect x="496.70" y="33.70" width="61.30" height="3.45" fill="#ec6c43" />
<rect x="496.70" y="37.00" width="61.30" height="3.85" fill="#ee8f4e" />
<rect x="496.70" y="40.70" width="61.30" height="21.25" fill="#f1b462" />
<rect x="496.70" y="61.80" width="61.30" height="21.95" fill="#f5d58a" />
<rect x="496.70" y="83.60" width="61.30" height="50.35" fill="#f3eab0" />
<rect x="496.70" y="133.80" width="61.30" height="60.85" fill="#f1f2d5" />
<rect x="558.00" y="15.70" width="62.00" height="3.55" fill="#8e1b3b" />
<rect x="558.00" y="19.10" width="62.00" height="3.65" fill="#f1b462" />
<rect x="558.00" y="22.60" width="62.00" height="3.75" fill="#f3eab0" />
<rect x="558.00" y="26.20" width="62.00" height="3.65" fill="#f1b462" />
<rect x="558.00" y="29.70" width="62.00" height="4.05" fill="#f1f2d5" />
<rect x="558.00" y="33.60" width="62.00" height="3.55" fill="#f1b462" />
<rect x="558.00" y="37.00" width="62.00" height="3.85" fill="#f5d58a" />
<rect x="558.00" y="40.70" width="62.00" height="3.55" fill="#8e1b3b" />
<rect x="558.00" y="44.10" width="62.00" height="3.95" fill="#ec6c43" />
<rect x="558.00" y="47.90" width="62.00" height="3.65" fill="#f5d58a" />
<rect x="558.00" y="51.40" width="62.00" height="10.55" fill="#f1f2d5" />
<rect x="558.00" y="61.80" width="62.00" height="4.05" fill="#f5d58a" />
<rect x="558.00" y="65.70" width="62.00" height="3.65" fill="#f3eab0" />
<rect x="558.00" y="69.20" width="62.00" height="14.55" fill="#f1f2d5" />
<rect x="558.00" y="83.60" width="62.00" height="3.75" fill="#f5d58a" />
<rect x="558.00" y="87.20" width="62.00" height="14.45" fill="#f3eab0" />
<rect x="558.00" y="101.50" width="62.00" height="32.65" fill="#f1f2d5" />
<rect x="558.00" y="134.00" width="62.00" height="3.55" fill="#f1b462" />
<rect x="558.00" y="137.40" width="62.00" height="7.25" fill="#f5d58a" />
<rect x="558.00" y="144.50" width="62.00" height="10.85" fill="#f3eab0" />
<rect x="558.00" y="155.20" width="62.00" height="39.45" fill="#f1f2d5" />
<text x="558.6" y="208.3" font-size="8.2" text-anchor="middle" fill="#2b2b2b" >T11_CD8-SLC4A10(MAIT)</text>
<text x="633.8" y="25.8" font-size="8.8" text-anchor="start" fill="#2b2b2b" >Cells</text>
<rect x="637.00" y="30.10" width="8.20" height="5.20" fill="#8e1b3b" />
<rect x="637.00" y="35.18" width="8.20" height="5.20" fill="#c8174a" />
<rect x="637.00" y="40.26" width="8.20" height="5.20" fill="#e63a38" />
<rect x="637.00" y="45.34" width="8.20" height="5.20" fill="#ec6a42" />
<rect x="637.00" y="50.42" width="8.20" height="5.20" fill="#f0954c" />
<rect x="637.00" y="55.50" width="8.20" height="5.20" fill="#f2b55c" />
<rect x="637.00" y="60.58" width="8.20" height="5.20" fill="#f5d78a" />
<rect x="637.00" y="65.66" width="8.20" height="5.20" fill="#f4eab4" />
<rect x="637.00" y="70.74" width="8.20" height="5.20" fill="#f2f3d8" />
<text x="649.2" y="40.2" font-size="6.8" text-anchor="start" fill="#333" >8</text>
<text x="649.2" y="50.6" font-size="6.8" text-anchor="start" fill="#333" >6</text>
<text x="649.2" y="60.8" font-size="6.8" text-anchor="start" fill="#333" >4</text>
<text x="649.2" y="70.8" font-size="6.8" text-anchor="start" fill="#333" >2</text>
<text x="0.0" y="263.0" font-size="13" text-anchor="start" fill="#111" font-weight="bold" stroke="#111" stroke-width="0.5">d</text>
<rect x="33.4" y="279.9" width="178.1" height="165.10000000000002" fill="none" stroke="#9a9a9a" stroke-width="0.9"/>
<line x1="40.8" y1="445.0" x2="40.8" y2="447.8" stroke="#9a9a9a" stroke-width="0.7" />
<text x="40.8" y="456.8" font-size="7.1" text-anchor="middle" fill="#333" >0</text>
<line x1="72.5" y1="445.0" x2="72.5" y2="447.8" stroke="#9a9a9a" stroke-width="0.7" />
<text x="72.5" y="456.8" font-size="7.1" text-anchor="middle" fill="#333" >1</text>
<line x1="104.2" y1="445.0" x2="104.2" y2="447.8" stroke="#9a9a9a" stroke-width="0.7" />
<text x="104.2" y="456.8" font-size="7.1" text-anchor="middle" fill="#333" >2</text>
<line x1="135.9" y1="445.0" x2="135.9" y2="447.8" stroke="#9a9a9a" stroke-width="0.7" />
<text x="135.9" y="456.8" font-size="7.1" text-anchor="middle" fill="#333" >3</text>
<line x1="167.6" y1="445.0" x2="167.6" y2="447.8" stroke="#9a9a9a" stroke-width="0.7" />
<text x="167.6" y="456.8" font-size="7.1" text-anchor="middle" fill="#333" >4</text>
<line x1="199.3" y1="445.0" x2="199.3" y2="447.8" stroke="#9a9a9a" stroke-width="0.7" />
<text x="199.3" y="456.8" font-size="7.1" text-anchor="middle" fill="#333" >5</text>
<line x1="30.6" y1="439.0" x2="33.4" y2="439.0" stroke="#9a9a9a" stroke-width="0.7" />
<text x="27.2" y="441.5" font-size="7.1" text-anchor="middle" fill="#333" >0</text>
<line x1="30.6" y1="378.0" x2="33.4" y2="378.0" stroke="#9a9a9a" stroke-width="0.7" />
<text x="27.2" y="380.5" font-size="7.1" text-anchor="middle" fill="#333" >2</text>
<line x1="30.6" y1="317.0" x2="33.4" y2="317.0" stroke="#9a9a9a" stroke-width="0.7" />
<text x="27.2" y="319.5" font-size="7.1" text-anchor="middle" fill="#333" >4</text>
<text x="122.5" y="469.2" font-size="8.85" text-anchor="middle" fill="#2b2b2b" >Average expression of MAIT in ascites</text>
<text x="0" y="0" font-size="8.9" text-anchor="middle" fill="#2b2b2b" transform="translate(16,362) rotate(-90)">Average expression of MAIT in blood</text>
<text x="14.6" y="482.0" font-size="7.5" text-anchor="start" fill="#2b2b2b" >Significant</text>
<circle cx="56.6" cy="479.6" r="3.10" fill="#e31a2b"/>
<text x="63.9" y="482.0" font-size="7.45" text-anchor="start" fill="#2b2b2b" >FDR &lt; 0.05 and logFC &gt; 0.2</text>
<circle cx="172.3" cy="479.6" r="3.10" fill="#bdbdbd"/>
<text x="179.6" y="482.0" font-size="7.5" text-anchor="start" fill="#2b2b2b" >Not Significant</text>
<polygon points="39.1,438.6 40.1,435.2 44.2,430.0 51.8,422.1 58.5,416.2 65.5,410.8 71.1,407.1 75.1,404.9 76.2,406.0 73.9,409.9 70.0,415.3 64.3,422.1 58.3,428.5 50.1,435.8 44.6,439.7 41.2,440.7" fill="#b2b2b2"/>
<circle cx="51.4" cy="431.4" r="0.75" fill="#b3b3b3"/>
<circle cx="51.6" cy="430.3" r="0.75" fill="#b3b3b3"/>
<circle cx="44.8" cy="436.7" r="0.75" fill="#b3b3b3"/>
<circle cx="65.0" cy="413.9" r="0.75" fill="#b3b3b3"/>
<circle cx="40.6" cy="436.8" r="0.75" fill="#b3b3b3"/>
<circle cx="38.9" cy="436.1" r="0.75" fill="#b3b3b3"/>
<circle cx="57.5" cy="422.9" r="0.75" fill="#b3b3b3"/>
<circle cx="41.0" cy="438.7" r="0.75" fill="#b3b3b3"/>
<circle cx="44.0" cy="435.5" r="0.75" fill="#b3b3b3"/>
<circle cx="52.4" cy="430.8" r="0.75" fill="#b3b3b3"/>
<circle cx="52.2" cy="428.2" r="0.75" fill="#b3b3b3"/>
<circle cx="58.6" cy="422.9" r="0.75" fill="#b3b3b3"/>
<circle cx="132.6" cy="342.7" r="0.75" fill="#b3b3b3"/>
<circle cx="60.7" cy="420.2" r="0.75" fill="#b3b3b3"/>
<circle cx="45.0" cy="432.2" r="0.75" fill="#b3b3b3"/>
<circle cx="47.6" cy="430.4" r="0.75" fill="#b3b3b3"/>
<circle cx="90.7" cy="390.3" r="0.75" fill="#b3b3b3"/>
<circle cx="43.0" cy="434.3" r="0.75" fill="#b3b3b3"/>
<circle cx="103.4" cy="379.2" r="0.75" fill="#b3b3b3"/>
<circle cx="55.6" cy="423.4" r="0.75" fill="#b3b3b3"/>
<circle cx="44.4" cy="438.3" r="0.75" fill="#b3b3b3"/>
<circle cx="62.7" cy="416.5" r="0.75" fill="#b3b3b3"/>
<circle cx="41.2" cy="435.8" r="0.75" fill="#b3b3b3"/>
<circle cx="44.2" cy="436.5" r="0.75" fill="#b3b3b3"/>
<circle cx="43.6" cy="435.5" r="0.75" fill="#b3b3b3"/>
<circle cx="56.5" cy="422.2" r="0.75" fill="#b3b3b3"/>
<circle cx="46.2" cy="435.3" r="0.75" fill="#b3b3b3"/>
<circle cx="68.3" cy="414.6" r="0.75" fill="#b3b3b3"/>
<circle cx="46.3" cy="436.3" r="0.75" fill="#b3b3b3"/>
<circle cx="55.5" cy="420.7" r="0.75" fill="#b3b3b3"/>
<circle cx="45.4" cy="435.1" r="0.75" fill="#b3b3b3"/>
<circle cx="47.1" cy="432.7" r="0.75" fill="#b3b3b3"/>
<circle cx="42.3" cy="437.8" r="0.75" fill="#b3b3b3"/>
<circle cx="56.3" cy="425.4" r="0.75" fill="#b3b3b3"/>
<circle cx="93.1" cy="391.7" r="0.75" fill="#b3b3b3"/>
<circle cx="72.5" cy="407.7" r="0.75" fill="#b3b3b3"/>
<circle cx="77.5" cy="401.9" r="0.75" fill="#b3b3b3"/>
<circle cx="42.4" cy="435.6" r="0.75" fill="#b3b3b3"/>
<circle cx="41.9" cy="433.8" r="0.75" fill="#b3b3b3"/>
<circle cx="55.7" cy="425.0" r="0.75" fill="#b3b3b3"/>
<circle cx="40.4" cy="437.5" r="0.75" fill="#b3b3b3"/>
<circle cx="61.1" cy="420.2" r="0.75" fill="#b3b3b3"/>
<circle cx="55.4" cy="425.0" r="0.75" fill="#b3b3b3"/>
<circle cx="60.2" cy="418.6" r="0.75" fill="#b3b3b3"/>
<circle cx="52.0" cy="425.4" r="0.75" fill="#b3b3b3"/>
<circle cx="45.0" cy="433.2" r="0.75" fill="#b3b3b3"/>
<circle cx="41.5" cy="438.5" r="0.75" fill="#b3b3b3"/>
<circle cx="41.7" cy="437.4" r="0.75" fill="#b3b3b3"/>
<circle cx="53.8" cy="425.2" r="0.75" fill="#b3b3b3"/>
<circle cx="73.7" cy="403.2" r="0.75" fill="#b3b3b3"/>
<circle cx="59.4" cy="421.2" r="0.75" fill="#b3b3b3"/>
<circle cx="39.5" cy="436.5" r="0.75" fill="#b3b3b3"/>
<circle cx="59.4" cy="420.1" r="0.75" fill="#b3b3b3"/>
<circle cx="58.2" cy="424.8" r="0.75" fill="#b3b3b3"/>
<circle cx="46.2" cy="432.5" r="0.75" fill="#b3b3b3"/>
<circle cx="51.8" cy="426.8" r="0.75" fill="#b3b3b3"/>
<circle cx="61.1" cy="418.8" r="0.75" fill="#b3b3b3"/>
<circle cx="81.5" cy="402.2" r="0.75" fill="#b3b3b3"/>
<circle cx="75.7" cy="402.6" r="0.75" fill="#b3b3b3"/>
<circle cx="63.7" cy="414.0" r="0.75" fill="#b3b3b3"/>
<circle cx="57.6" cy="424.7" r="0.75" fill="#b3b3b3"/>
<circle cx="54.6" cy="423.2" r="0.75" fill="#b3b3b3"/>
<circle cx="117.1" cy="360.3" r="0.75" fill="#b3b3b3"/>
<circle cx="47.6" cy="431.3" r="0.75" fill="#b3b3b3"/>
<circle cx="49.3" cy="429.6" r="0.75" fill="#b3b3b3"/>
<circle cx="61.2" cy="416.2" r="0.75" fill="#b3b3b3"/>
<circle cx="51.7" cy="428.5" r="0.75" fill="#b3b3b3"/>
<circle cx="52.0" cy="429.7" r="0.75" fill="#b3b3b3"/>
<circle cx="44.5" cy="433.5" r="0.75" fill="#b3b3b3"/>
<circle cx="58.6" cy="421.2" r="0.75" fill="#b3b3b3"/>
<circle cx="78.1" cy="403.4" r="0.75" fill="#b3b3b3"/>
<circle cx="77.4" cy="405.6" r="0.75" fill="#b3b3b3"/>
<circle cx="45.8" cy="436.6" r="0.75" fill="#b3b3b3"/>
<circle cx="78.1" cy="400.4" r="0.75" fill="#b3b3b3"/>
<circle cx="54.9" cy="425.6" r="0.75" fill="#b3b3b3"/>
<circle cx="49.4" cy="427.3" r="0.75" fill="#b3b3b3"/>
<circle cx="59.2" cy="419.0" r="0.75" fill="#b3b3b3"/>
<circle cx="44.2" cy="436.5" r="0.75" fill="#b3b3b3"/>
<circle cx="45.8" cy="436.0" r="0.75" fill="#b3b3b3"/>
<circle cx="53.1" cy="429.0" r="0.75" fill="#b3b3b3"/>
<circle cx="104.9" cy="378.0" r="0.75" fill="#b3b3b3"/>
<circle cx="40.7" cy="438.1" r="0.75" fill="#b3b3b3"/>
<circle cx="60.6" cy="420.7" r="0.75" fill="#b3b3b3"/>
<circle cx="64.8" cy="414.2" r="0.75" fill="#b3b3b3"/>
<circle cx="48.6" cy="427.8" r="0.75" fill="#b3b3b3"/>
<circle cx="44.8" cy="434.4" r="0.75" fill="#b3b3b3"/>
<circle cx="57.8" cy="424.8" r="0.75" fill="#b3b3b3"/>
<circle cx="55.0" cy="421.6" r="0.75" fill="#b3b3b3"/>
<circle cx="59.1" cy="420.8" r="0.75" fill="#b3b3b3"/>
<circle cx="42.7" cy="434.8" r="0.75" fill="#b3b3b3"/>
<circle cx="60.4" cy="419.3" r="0.75" fill="#b3b3b3"/>
<circle cx="46.8" cy="432.6" r="0.75" fill="#b3b3b3"/>
<circle cx="54.9" cy="424.1" r="0.75" fill="#b3b3b3"/>
<circle cx="64.8" cy="414.4" r="0.75" fill="#b3b3b3"/>
<circle cx="83.0" cy="397.7" r="0.75" fill="#b3b3b3"/>
<circle cx="50.5" cy="430.8" r="0.75" fill="#b3b3b3"/>
<circle cx="49.1" cy="433.1" r="0.75" fill="#b3b3b3"/>
<circle cx="64.3" cy="413.3" r="0.75" fill="#b3b3b3"/>
<circle cx="57.7" cy="422.2" r="0.75" fill="#b3b3b3"/>
<circle cx="67.9" cy="413.8" r="0.75" fill="#b3b3b3"/>
<circle cx="41.3" cy="433.2" r="0.75" fill="#b3b3b3"/>
<circle cx="102.9" cy="383.5" r="0.75" fill="#b3b3b3"/>
<circle cx="44.5" cy="431.4" r="0.75" fill="#b3b3b3"/>
<circle cx="46.8" cy="431.4" r="0.75" fill="#b3b3b3"/>
<circle cx="52.3" cy="426.4" r="0.75" fill="#b3b3b3"/>
<circle cx="40.6" cy="438.2" r="0.75" fill="#b3b3b3"/>
<circle cx="66.0" cy="413.7" r="0.75" fill="#b3b3b3"/>
<circle cx="64.9" cy="414.7" r="0.75" fill="#b3b3b3"/>
<circle cx="51.1" cy="427.9" r="0.75" fill="#b3b3b3"/>
<circle cx="57.6" cy="419.8" r="0.75" fill="#b3b3b3"/>
<circle cx="87.1" cy="392.5" r="0.75" fill="#b3b3b3"/>
<circle cx="53.7" cy="427.7" r="0.75" fill="#b3b3b3"/>
<circle cx="58.3" cy="425.0" r="0.75" fill="#b3b3b3"/>
<circle cx="54.4" cy="426.5" r="0.75" fill="#b3b3b3"/>
<circle cx="69.2" cy="409.6" r="0.75" fill="#b3b3b3"/>
<circle cx="69.1" cy="408.3" r="0.75" fill="#b3b3b3"/>
<circle cx="54.4" cy="425.4" r="0.75" fill="#b3b3b3"/>
<circle cx="51.7" cy="428.2" r="0.75" fill="#b3b3b3"/>
<circle cx="97.2" cy="387.0" r="0.75" fill="#b3b3b3"/>
<circle cx="67.0" cy="415.2" r="0.75" fill="#b3b3b3"/>
<circle cx="58.2" cy="419.7" r="0.75" fill="#b3b3b3"/>
<circle cx="46.6" cy="428.7" r="0.75" fill="#b3b3b3"/>
<circle cx="45.9" cy="434.3" r="0.75" fill="#b3b3b3"/>
<circle cx="47.5" cy="429.3" r="0.75" fill="#b3b3b3"/>
<circle cx="51.4" cy="429.1" r="0.75" fill="#b3b3b3"/>
<circle cx="55.1" cy="423.6" r="0.75" fill="#b3b3b3"/>
<circle cx="63.8" cy="415.0" r="0.75" fill="#b3b3b3"/>
<circle cx="44.3" cy="435.0" r="0.75" fill="#b3b3b3"/>
<circle cx="47.5" cy="432.3" r="0.75" fill="#b3b3b3"/>
<circle cx="60.9" cy="417.8" r="0.75" fill="#b3b3b3"/>
<circle cx="45.5" cy="434.0" r="0.75" fill="#b3b3b3"/>
<circle cx="50.7" cy="430.6" r="0.75" fill="#b3b3b3"/>
<circle cx="52.4" cy="426.9" r="0.75" fill="#b3b3b3"/>
<circle cx="56.5" cy="424.2" r="0.75" fill="#b3b3b3"/>
<circle cx="71.6" cy="411.3" r="0.75" fill="#b3b3b3"/>
<circle cx="43.6" cy="434.7" r="0.75" fill="#b3b3b3"/>
<circle cx="78.4" cy="403.6" r="0.75" fill="#b3b3b3"/>
<circle cx="82.4" cy="398.8" r="0.75" fill="#b3b3b3"/>
<circle cx="74.9" cy="404.8" r="0.75" fill="#b3b3b3"/>
<circle cx="61.4" cy="418.9" r="0.75" fill="#b3b3b3"/>
<circle cx="71.1" cy="413.2" r="0.75" fill="#b3b3b3"/>
<circle cx="44.2" cy="437.6" r="0.75" fill="#b3b3b3"/>
<circle cx="41.3" cy="438.1" r="0.75" fill="#b3b3b3"/>
<circle cx="78.2" cy="401.1" r="0.75" fill="#b3b3b3"/>
<circle cx="50.8" cy="427.9" r="0.75" fill="#b3b3b3"/>
<circle cx="58.9" cy="420.9" r="0.75" fill="#b3b3b3"/>
<circle cx="41.4" cy="436.0" r="0.75" fill="#b3b3b3"/>
<circle cx="52.3" cy="428.1" r="0.75" fill="#b3b3b3"/>
<circle cx="44.4" cy="435.1" r="0.75" fill="#b3b3b3"/>
<circle cx="113.1" cy="367.3" r="0.75" fill="#b3b3b3"/>
<circle cx="40.4" cy="436.9" r="0.75" fill="#b3b3b3"/>
<circle cx="64.6" cy="417.2" r="0.75" fill="#b3b3b3"/>
<circle cx="53.5" cy="428.8" r="0.75" fill="#b3b3b3"/>
<circle cx="40.0" cy="438.9" r="0.75" fill="#b3b3b3"/>
<circle cx="45.3" cy="436.9" r="0.75" fill="#b3b3b3"/>
<circle cx="48.9" cy="430.6" r="0.75" fill="#b3b3b3"/>
<circle cx="50.0" cy="425.8" r="0.75" fill="#b3b3b3"/>
<circle cx="65.5" cy="414.6" r="0.75" fill="#b3b3b3"/>
<circle cx="57.8" cy="424.6" r="0.75" fill="#b3b3b3"/>
<circle cx="49.8" cy="426.4" r="0.75" fill="#b3b3b3"/>
<circle cx="43.5" cy="433.0" r="0.75" fill="#b3b3b3"/>
<circle cx="63.3" cy="415.3" r="0.75" fill="#b3b3b3"/>
<circle cx="74.4" cy="402.8" r="0.75" fill="#b3b3b3"/>
<circle cx="62.8" cy="416.4" r="0.75" fill="#b3b3b3"/>
<circle cx="60.2" cy="418.3" r="0.75" fill="#b3b3b3"/>
<circle cx="49.7" cy="428.2" r="0.75" fill="#b3b3b3"/>
<circle cx="56.8" cy="423.7" r="0.75" fill="#b3b3b3"/>
<circle cx="86.5" cy="395.2" r="0.75" fill="#b3b3b3"/>
<circle cx="58.4" cy="423.3" r="0.75" fill="#b3b3b3"/>
<circle cx="47.0" cy="429.9" r="0.75" fill="#b3b3b3"/>
<circle cx="57.6" cy="420.1" r="0.75" fill="#b3b3b3"/>
<circle cx="41.1" cy="439.3" r="0.75" fill="#b3b3b3"/>
<circle cx="45.5" cy="434.4" r="0.75" fill="#b3b3b3"/>
<circle cx="44.4" cy="435.6" r="0.75" fill="#b3b3b3"/>
<circle cx="43.7" cy="433.4" r="0.75" fill="#b3b3b3"/>
<circle cx="50.4" cy="426.7" r="0.75" fill="#b3b3b3"/>
<circle cx="126.1" cy="359.7" r="0.75" fill="#b3b3b3"/>
<circle cx="42.2" cy="438.6" r="0.75" fill="#b3b3b3"/>
<circle cx="40.6" cy="437.6" r="0.75" fill="#b3b3b3"/>
<circle cx="50.7" cy="428.5" r="0.75" fill="#b3b3b3"/>
<circle cx="53.8" cy="422.2" r="0.75" fill="#b3b3b3"/>
<circle cx="50.2" cy="431.5" r="0.75" fill="#b3b3b3"/>
<circle cx="48.9" cy="432.0" r="0.75" fill="#b3b3b3"/>
<circle cx="54.8" cy="426.5" r="0.75" fill="#b3b3b3"/>
<circle cx="45.4" cy="432.7" r="0.75" fill="#b3b3b3"/>
<circle cx="41.3" cy="437.3" r="0.75" fill="#b3b3b3"/>
<circle cx="46.5" cy="430.0" r="0.75" fill="#b3b3b3"/>
<circle cx="39.3" cy="436.1" r="0.75" fill="#b3b3b3"/>
<circle cx="40.6" cy="436.8" r="0.75" fill="#b3b3b3"/>
<circle cx="50.0" cy="428.1" r="0.75" fill="#b3b3b3"/>
<circle cx="50.4" cy="426.1" r="0.75" fill="#b3b3b3"/>
<circle cx="48.7" cy="427.4" r="0.75" fill="#b3b3b3"/>
<circle cx="54.7" cy="423.6" r="0.75" fill="#b3b3b3"/>
<circle cx="50.2" cy="429.3" r="0.75" fill="#b3b3b3"/>
<circle cx="52.1" cy="426.5" r="0.75" fill="#b3b3b3"/>
<circle cx="58.8" cy="422.6" r="0.75" fill="#b3b3b3"/>
<circle cx="56.3" cy="426.8" r="0.75" fill="#b3b3b3"/>
<circle cx="50.1" cy="424.9" r="0.75" fill="#b3b3b3"/>
<circle cx="61.8" cy="418.4" r="0.75" fill="#b3b3b3"/>
<circle cx="74.6" cy="404.3" r="0.75" fill="#b3b3b3"/>
<circle cx="48.7" cy="432.1" r="0.75" fill="#b3b3b3"/>
<circle cx="54.3" cy="427.1" r="0.75" fill="#b3b3b3"/>
<circle cx="62.8" cy="417.1" r="0.75" fill="#b3b3b3"/>
<circle cx="98.8" cy="376.6" r="0.75" fill="#b3b3b3"/>
<circle cx="40.7" cy="437.5" r="0.75" fill="#b3b3b3"/>
<circle cx="49.4" cy="430.5" r="0.75" fill="#b3b3b3"/>
<circle cx="52.6" cy="426.5" r="0.75" fill="#b3b3b3"/>
<circle cx="59.4" cy="422.8" r="0.75" fill="#b3b3b3"/>
<circle cx="48.5" cy="432.2" r="0.75" fill="#b3b3b3"/>
<circle cx="46.0" cy="432.3" r="0.75" fill="#b3b3b3"/>
<circle cx="41.4" cy="436.5" r="0.75" fill="#b3b3b3"/>
<circle cx="55.5" cy="423.7" r="0.75" fill="#b3b3b3"/>
<circle cx="50.5" cy="430.4" r="0.75" fill="#b3b3b3"/>
<circle cx="47.7" cy="433.1" r="0.75" fill="#b3b3b3"/>
<circle cx="47.8" cy="434.0" r="0.75" fill="#b3b3b3"/>
<circle cx="82.1" cy="401.1" r="0.75" fill="#b3b3b3"/>
<circle cx="41.7" cy="436.9" r="0.75" fill="#b3b3b3"/>
<circle cx="42.4" cy="438.2" r="0.75" fill="#b3b3b3"/>
<circle cx="60.4" cy="421.6" r="0.75" fill="#b3b3b3"/>
<circle cx="42.4" cy="437.2" r="0.75" fill="#b3b3b3"/>
<circle cx="43.2" cy="437.8" r="0.75" fill="#b3b3b3"/>
<circle cx="59.7" cy="420.8" r="0.75" fill="#b3b3b3"/>
<circle cx="47.0" cy="432.1" r="0.75" fill="#b3b3b3"/>
<circle cx="41.9" cy="437.0" r="0.75" fill="#b3b3b3"/>
<circle cx="77.1" cy="397.9" r="0.75" fill="#b3b3b3"/>
<circle cx="48.9" cy="429.7" r="0.75" fill="#b3b3b3"/>
<circle cx="49.1" cy="434.4" r="0.75" fill="#b3b3b3"/>
<circle cx="76.8" cy="404.4" r="0.75" fill="#b3b3b3"/>
<circle cx="48.8" cy="432.3" r="0.75" fill="#b3b3b3"/>
<circle cx="48.6" cy="430.8" r="0.75" fill="#b3b3b3"/>
<circle cx="67.5" cy="416.3" r="0.75" fill="#b3b3b3"/>
<circle cx="53.8" cy="425.4" r="0.75" fill="#b3b3b3"/>
<circle cx="74.4" cy="406.3" r="0.75" fill="#b3b3b3"/>
<circle cx="52.9" cy="428.8" r="0.75" fill="#b3b3b3"/>
<circle cx="94.9" cy="388.4" r="0.75" fill="#b3b3b3"/>
<circle cx="42.6" cy="439.0" r="0.75" fill="#b3b3b3"/>
<circle cx="41.2" cy="436.2" r="0.75" fill="#b3b3b3"/>
<circle cx="75.8" cy="402.3" r="0.75" fill="#b3b3b3"/>
<circle cx="42.1" cy="436.4" r="0.75" fill="#b3b3b3"/>
<circle cx="45.7" cy="434.1" r="0.75" fill="#b3b3b3"/>
<circle cx="51.4" cy="427.4" r="0.75" fill="#b3b3b3"/>
<circle cx="45.5" cy="431.2" r="0.75" fill="#b3b3b3"/>
<circle cx="52.5" cy="429.7" r="0.75" fill="#b3b3b3"/>
<circle cx="58.8" cy="419.0" r="0.75" fill="#b3b3b3"/>
<circle cx="68.3" cy="413.1" r="0.75" fill="#b3b3b3"/>
<circle cx="64.1" cy="412.6" r="0.75" fill="#b3b3b3"/>
<circle cx="91.2" cy="391.5" r="0.75" fill="#b3b3b3"/>
<circle cx="59.1" cy="419.5" r="0.75" fill="#b3b3b3"/>
<circle cx="49.1" cy="429.5" r="0.75" fill="#b3b3b3"/>
<circle cx="116.2" cy="367.6" r="0.75" fill="#b3b3b3"/>
<circle cx="45.0" cy="435.8" r="0.75" fill="#b3b3b3"/>
<circle cx="94.9" cy="384.2" r="0.75" fill="#b3b3b3"/>
<circle cx="42.4" cy="437.6" r="0.75" fill="#b3b3b3"/>
<circle cx="43.0" cy="434.9" r="0.75" fill="#b3b3b3"/>
<circle cx="54.1" cy="425.1" r="0.75" fill="#b3b3b3"/>
<circle cx="42.5" cy="436.7" r="0.75" fill="#b3b3b3"/>
<circle cx="44.1" cy="434.8" r="0.75" fill="#b3b3b3"/>
<circle cx="44.7" cy="434.6" r="0.75" fill="#b3b3b3"/>
<circle cx="42.9" cy="435.8" r="0.75" fill="#b3b3b3"/>
<circle cx="52.0" cy="426.1" r="0.75" fill="#b3b3b3"/>
<circle cx="42.9" cy="432.7" r="0.75" fill="#b3b3b3"/>
<circle cx="48.8" cy="434.3" r="0.75" fill="#b3b3b3"/>
<circle cx="51.1" cy="428.6" r="0.75" fill="#b3b3b3"/>
<circle cx="86.2" cy="393.3" r="0.75" fill="#b3b3b3"/>
<circle cx="53.1" cy="428.0" r="0.75" fill="#b3b3b3"/>
<circle cx="114.2" cy="368.8" r="0.75" fill="#b3b3b3"/>
<circle cx="41.5" cy="439.3" r="0.75" fill="#b3b3b3"/>
<circle cx="65.2" cy="414.7" r="0.75" fill="#b3b3b3"/>
<circle cx="43.3" cy="435.7" r="0.75" fill="#b3b3b3"/>
<circle cx="44.0" cy="433.4" r="0.75" fill="#b3b3b3"/>
<circle cx="55.7" cy="422.5" r="0.75" fill="#b3b3b3"/>
<circle cx="52.5" cy="426.1" r="0.75" fill="#b3b3b3"/>
<circle cx="38.7" cy="438.0" r="0.75" fill="#b3b3b3"/>
<circle cx="67.3" cy="411.6" r="0.75" fill="#b3b3b3"/>
<circle cx="59.9" cy="418.5" r="0.75" fill="#b3b3b3"/>
<circle cx="49.1" cy="427.9" r="0.75" fill="#b3b3b3"/>
<circle cx="73.1" cy="409.7" r="0.75" fill="#b3b3b3"/>
<circle cx="48.6" cy="430.1" r="0.75" fill="#b3b3b3"/>
<circle cx="68.6" cy="411.6" r="0.75" fill="#b3b3b3"/>
<circle cx="52.3" cy="426.4" r="0.75" fill="#b3b3b3"/>
<circle cx="46.8" cy="433.1" r="0.75" fill="#b3b3b3"/>
<circle cx="47.8" cy="434.4" r="0.75" fill="#b3b3b3"/>
<circle cx="47.4" cy="432.1" r="0.75" fill="#b3b3b3"/>
<circle cx="51.1" cy="433.2" r="0.75" fill="#b3b3b3"/>
<circle cx="68.6" cy="411.8" r="0.75" fill="#b3b3b3"/>
<circle cx="47.7" cy="431.6" r="0.75" fill="#b3b3b3"/>
<circle cx="53.8" cy="426.2" r="0.75" fill="#b3b3b3"/>
<circle cx="115.5" cy="365.4" r="0.75" fill="#b3b3b3"/>
<circle cx="56.5" cy="424.3" r="0.75" fill="#b3b3b3"/>
<circle cx="53.6" cy="427.1" r="0.75" fill="#b3b3b3"/>
<circle cx="48.3" cy="431.4" r="0.75" fill="#b3b3b3"/>
<circle cx="43.5" cy="435.4" r="0.75" fill="#b3b3b3"/>
<circle cx="88.1" cy="396.4" r="0.75" fill="#b3b3b3"/>
<circle cx="46.4" cy="432.4" r="0.75" fill="#b3b3b3"/>
<circle cx="42.4" cy="435.4" r="0.75" fill="#b3b3b3"/>
<circle cx="60.1" cy="419.5" r="0.75" fill="#b3b3b3"/>
<circle cx="69.5" cy="411.4" r="0.75" fill="#b3b3b3"/>
<circle cx="44.6" cy="434.5" r="0.75" fill="#b3b3b3"/>
<circle cx="47.6" cy="429.0" r="0.75" fill="#b3b3b3"/>
<circle cx="50.5" cy="431.5" r="0.75" fill="#b3b3b3"/>
<circle cx="62.5" cy="416.0" r="0.75" fill="#b3b3b3"/>
<circle cx="47.1" cy="432.7" r="0.75" fill="#b3b3b3"/>
<circle cx="47.7" cy="431.6" r="0.75" fill="#b3b3b3"/>
<circle cx="65.3" cy="415.7" r="0.75" fill="#b3b3b3"/>
<circle cx="41.6" cy="438.8" r="0.75" fill="#b3b3b3"/>
<circle cx="56.8" cy="421.9" r="0.75" fill="#b3b3b3"/>
<circle cx="50.2" cy="427.4" r="0.75" fill="#b3b3b3"/>
<circle cx="55.5" cy="423.4" r="0.75" fill="#b3b3b3"/>
<circle cx="78.4" cy="404.2" r="0.75" fill="#b3b3b3"/>
<circle cx="51.3" cy="427.2" r="0.75" fill="#b3b3b3"/>
<circle cx="111.5" cy="375.2" r="0.75" fill="#b3b3b3"/>
<circle cx="69.6" cy="410.3" r="0.75" fill="#b3b3b3"/>
<circle cx="56.2" cy="423.5" r="0.75" fill="#b3b3b3"/>
<circle cx="45.6" cy="435.5" r="0.75" fill="#b3b3b3"/>
<circle cx="45.8" cy="431.9" r="0.75" fill="#b3b3b3"/>
<circle cx="49.8" cy="427.5" r="0.75" fill="#b3b3b3"/>
<circle cx="41.5" cy="435.7" r="0.75" fill="#b3b3b3"/>
<circle cx="54.0" cy="426.8" r="0.75" fill="#b3b3b3"/>
<circle cx="76.1" cy="399.8" r="0.75" fill="#b3b3b3"/>
<circle cx="54.6" cy="423.4" r="0.75" fill="#b3b3b3"/>
<circle cx="45.1" cy="433.0" r="0.75" fill="#b3b3b3"/>
<circle cx="53.3" cy="425.4" r="0.75" fill="#b3b3b3"/>
<circle cx="52.9" cy="426.4" r="0.75" fill="#b3b3b3"/>
<circle cx="41.5" cy="433.8" r="0.75" fill="#b3b3b3"/>
<circle cx="58.9" cy="422.8" r="0.75" fill="#b3b3b3"/>
<circle cx="63.3" cy="419.3" r="0.75" fill="#b3b3b3"/>
<circle cx="65.6" cy="413.1" r="0.75" fill="#b3b3b3"/>
<circle cx="50.4" cy="428.5" r="0.75" fill="#b3b3b3"/>
<circle cx="54.0" cy="425.3" r="0.75" fill="#b3b3b3"/>
<circle cx="45.8" cy="434.7" r="0.75" fill="#b3b3b3"/>
<circle cx="55.5" cy="421.7" r="0.75" fill="#b3b3b3"/>
<circle cx="41.7" cy="435.3" r="0.75" fill="#b3b3b3"/>
<circle cx="52.1" cy="430.1" r="0.75" fill="#b3b3b3"/>
<circle cx="57.9" cy="420.8" r="0.75" fill="#b3b3b3"/>
<circle cx="49.2" cy="426.9" r="0.75" fill="#b3b3b3"/>
<circle cx="72.5" cy="410.3" r="0.75" fill="#b3b3b3"/>
<circle cx="52.3" cy="425.0" r="0.75" fill="#b3b3b3"/>
<circle cx="54.7" cy="429.1" r="0.75" fill="#b3b3b3"/>
<circle cx="45.6" cy="431.5" r="0.75" fill="#b3b3b3"/>
<circle cx="76.3" cy="403.7" r="0.75" fill="#b3b3b3"/>
<circle cx="63.9" cy="417.9" r="0.75" fill="#b3b3b3"/>
<circle cx="41.5" cy="437.0" r="0.75" fill="#b3b3b3"/>
<circle cx="51.9" cy="428.3" r="0.75" fill="#b3b3b3"/>
<circle cx="60.0" cy="421.3" r="0.75" fill="#b3b3b3"/>
<circle cx="47.1" cy="433.6" r="0.75" fill="#b3b3b3"/>
<circle cx="38.9" cy="435.9" r="0.75" fill="#b3b3b3"/>
<circle cx="56.7" cy="421.3" r="0.75" fill="#b3b3b3"/>
<circle cx="67.1" cy="413.4" r="0.75" fill="#b3b3b3"/>
<circle cx="53.2" cy="425.6" r="0.75" fill="#b3b3b3"/>
<circle cx="65.0" cy="413.8" r="0.75" fill="#b3b3b3"/>
<circle cx="87.2" cy="391.7" r="0.75" fill="#b3b3b3"/>
<circle cx="46.5" cy="433.4" r="0.75" fill="#b3b3b3"/>
<circle cx="75.1" cy="403.8" r="0.75" fill="#b3b3b3"/>
<circle cx="47.6" cy="432.2" r="0.75" fill="#b3b3b3"/>
<circle cx="40.1" cy="437.7" r="0.75" fill="#b3b3b3"/>
<circle cx="48.4" cy="425.9" r="0.75" fill="#b3b3b3"/>
<circle cx="50.9" cy="428.7" r="0.75" fill="#b3b3b3"/>
<circle cx="80.1" cy="399.0" r="0.75" fill="#b3b3b3"/>
<circle cx="70.7" cy="411.7" r="0.75" fill="#b3b3b3"/>
<circle cx="40.1" cy="433.9" r="0.75" fill="#b3b3b3"/>
<circle cx="44.1" cy="435.6" r="0.75" fill="#b3b3b3"/>
<circle cx="73.7" cy="405.8" r="0.75" fill="#b3b3b3"/>
<circle cx="63.1" cy="419.8" r="0.75" fill="#b3b3b3"/>
<circle cx="72.6" cy="407.8" r="0.75" fill="#b3b3b3"/>
<circle cx="58.1" cy="419.5" r="0.75" fill="#b3b3b3"/>
<circle cx="42.2" cy="437.3" r="0.75" fill="#b3b3b3"/>
<circle cx="60.3" cy="419.6" r="0.75" fill="#b3b3b3"/>
<circle cx="44.5" cy="435.3" r="0.75" fill="#b3b3b3"/>
<circle cx="47.7" cy="432.5" r="0.75" fill="#b3b3b3"/>
<circle cx="55.0" cy="425.0" r="0.75" fill="#b3b3b3"/>
<circle cx="82.0" cy="399.3" r="0.75" fill="#b3b3b3"/>
<circle cx="55.2" cy="420.8" r="0.75" fill="#b3b3b3"/>
<circle cx="50.6" cy="430.9" r="0.75" fill="#b3b3b3"/>
<circle cx="41.4" cy="438.5" r="0.75" fill="#b3b3b3"/>
<circle cx="44.7" cy="434.2" r="0.75" fill="#b3b3b3"/>
<circle cx="45.3" cy="433.6" r="0.75" fill="#b3b3b3"/>
<circle cx="46.1" cy="434.2" r="0.75" fill="#b3b3b3"/>
<circle cx="76.2" cy="403.7" r="0.75" fill="#b3b3b3"/>
<circle cx="49.7" cy="429.2" r="0.75" fill="#b3b3b3"/>
<circle cx="83.3" cy="399.1" r="0.75" fill="#b3b3b3"/>
<circle cx="53.4" cy="426.8" r="0.75" fill="#b3b3b3"/>
<circle cx="56.5" cy="422.1" r="0.75" fill="#b3b3b3"/>
<circle cx="50.1" cy="427.2" r="0.75" fill="#b3b3b3"/>
<circle cx="51.5" cy="427.0" r="0.75" fill="#b3b3b3"/>
<circle cx="64.4" cy="414.9" r="0.75" fill="#b3b3b3"/>
<circle cx="46.5" cy="435.9" r="0.75" fill="#b3b3b3"/>
<circle cx="64.3" cy="414.9" r="0.75" fill="#b3b3b3"/>
<circle cx="51.7" cy="428.2" r="0.75" fill="#b3b3b3"/>
<circle cx="50.4" cy="427.0" r="0.75" fill="#b3b3b3"/>
<circle cx="61.7" cy="421.4" r="0.75" fill="#b3b3b3"/>
<circle cx="43.6" cy="435.6" r="0.75" fill="#b3b3b3"/>
<circle cx="52.5" cy="429.1" r="0.75" fill="#b3b3b3"/>
<circle cx="45.0" cy="433.9" r="0.75" fill="#b3b3b3"/>
<circle cx="79.3" cy="403.8" r="0.75" fill="#b3b3b3"/>
<circle cx="65.6" cy="414.7" r="0.75" fill="#b3b3b3"/>
<circle cx="45.8" cy="432.3" r="0.75" fill="#b3b3b3"/>
<circle cx="56.6" cy="424.6" r="0.75" fill="#b3b3b3"/>
<circle cx="53.7" cy="423.7" r="0.75" fill="#b3b3b3"/>
<circle cx="43.9" cy="435.8" r="0.75" fill="#b3b3b3"/>
<circle cx="57.2" cy="420.0" r="0.75" fill="#b3b3b3"/>
<circle cx="42.5" cy="438.4" r="0.75" fill="#b3b3b3"/>
<circle cx="44.1" cy="434.7" r="0.75" fill="#b3b3b3"/>
<circle cx="49.1" cy="428.3" r="0.75" fill="#b3b3b3"/>
<circle cx="44.6" cy="437.6" r="0.75" fill="#b3b3b3"/>
<circle cx="42.3" cy="438.0" r="0.75" fill="#b3b3b3"/>
<circle cx="43.8" cy="436.9" r="0.75" fill="#b3b3b3"/>
<circle cx="49.1" cy="430.1" r="0.75" fill="#b3b3b3"/>
<circle cx="127.2" cy="353.8" r="0.75" fill="#b3b3b3"/>
<circle cx="45.4" cy="434.7" r="0.75" fill="#b3b3b3"/>
<circle cx="47.1" cy="436.3" r="0.75" fill="#b3b3b3"/>
<circle cx="50.5" cy="433.0" r="0.75" fill="#b3b3b3"/>
<circle cx="54.6" cy="423.4" r="0.75" fill="#b3b3b3"/>
<circle cx="56.5" cy="421.9" r="0.75" fill="#b3b3b3"/>
<circle cx="57.7" cy="419.7" r="0.75" fill="#b3b3b3"/>
<circle cx="76.3" cy="406.7" r="0.75" fill="#b3b3b3"/>
<circle cx="72.1" cy="411.9" r="0.75" fill="#b3b3b3"/>
<circle cx="45.0" cy="435.3" r="0.75" fill="#b3b3b3"/>
<circle cx="53.2" cy="426.2" r="0.75" fill="#b3b3b3"/>
<circle cx="45.1" cy="435.7" r="0.75" fill="#b3b3b3"/>
<circle cx="48.5" cy="428.3" r="0.75" fill="#b3b3b3"/>
<circle cx="90.1" cy="387.6" r="0.75" fill="#b3b3b3"/>
<circle cx="73.2" cy="406.9" r="0.75" fill="#b3b3b3"/>
<circle cx="103.2" cy="378.4" r="0.75" fill="#b3b3b3"/>
<circle cx="122.5" cy="364.3" r="0.75" fill="#b3b3b3"/>
<circle cx="148.4" cy="331.3" r="0.75" fill="#b3b3b3"/>
<circle cx="119.3" cy="366.4" r="0.75" fill="#b3b3b3"/>
<circle cx="92.3" cy="388.9" r="0.75" fill="#b3b3b3"/>
<circle cx="78.6" cy="400.0" r="0.75" fill="#b3b3b3"/>
<circle cx="106.3" cy="372.9" r="0.75" fill="#b3b3b3"/>
<circle cx="89.1" cy="392.4" r="0.75" fill="#b3b3b3"/>
<circle cx="110.0" cy="374.7" r="0.75" fill="#b3b3b3"/>
<circle cx="87.9" cy="394.5" r="0.75" fill="#b3b3b3"/>
<circle cx="106.3" cy="380.0" r="0.75" fill="#b3b3b3"/>
<circle cx="105.0" cy="374.5" r="0.75" fill="#b3b3b3"/>
<circle cx="140.3" cy="334.5" r="0.75" fill="#b3b3b3"/>
<circle cx="85.7" cy="393.2" r="0.75" fill="#b3b3b3"/>
<circle cx="93.1" cy="390.2" r="0.75" fill="#b3b3b3"/>
<circle cx="93.5" cy="389.4" r="0.75" fill="#b3b3b3"/>
<circle cx="78.2" cy="404.3" r="0.75" fill="#b3b3b3"/>
<circle cx="79.3" cy="401.5" r="0.75" fill="#b3b3b3"/>
<circle cx="92.5" cy="389.4" r="0.75" fill="#b3b3b3"/>
<circle cx="98.4" cy="385.4" r="0.75" fill="#b3b3b3"/>
<circle cx="75.9" cy="408.4" r="0.75" fill="#b3b3b3"/>
<circle cx="106.0" cy="374.9" r="0.75" fill="#b3b3b3"/>
<circle cx="135.7" cy="350.9" r="0.75" fill="#b3b3b3"/>
<circle cx="190.1" cy="299.0" r="0.75" fill="#b3b3b3"/>
<circle cx="107.3" cy="376.5" r="0.75" fill="#b3b3b3"/>
<circle cx="176.1" cy="307.0" r="0.75" fill="#b3b3b3"/>
<circle cx="79.5" cy="402.5" r="0.75" fill="#b3b3b3"/>
<circle cx="82.6" cy="398.5" r="0.75" fill="#b3b3b3"/>
<circle cx="100.9" cy="382.5" r="0.75" fill="#b3b3b3"/>
<circle cx="118.2" cy="368.1" r="0.75" fill="#b3b3b3"/>
<circle cx="123.7" cy="355.4" r="0.75" fill="#b3b3b3"/>
<circle cx="99.9" cy="384.2" r="0.75" fill="#b3b3b3"/>
<circle cx="141.6" cy="333.8" r="0.75" fill="#b3b3b3"/>
<circle cx="82.0" cy="402.0" r="0.75" fill="#b3b3b3"/>
<circle cx="111.3" cy="372.8" r="0.75" fill="#b3b3b3"/>
<circle cx="81.8" cy="400.2" r="0.75" fill="#b3b3b3"/>
<circle cx="77.2" cy="403.4" r="0.75" fill="#b3b3b3"/>
<circle cx="111.7" cy="372.1" r="0.75" fill="#b3b3b3"/>
<circle cx="172.8" cy="308.1" r="0.75" fill="#b3b3b3"/>
<circle cx="120.8" cy="366.2" r="0.75" fill="#b3b3b3"/>
<circle cx="89.3" cy="393.3" r="0.75" fill="#b3b3b3"/>
<circle cx="154.0" cy="326.2" r="0.75" fill="#b3b3b3"/>
<circle cx="108.1" cy="377.0" r="0.75" fill="#b3b3b3"/>
<circle cx="91.4" cy="390.3" r="0.75" fill="#b3b3b3"/>
<circle cx="97.4" cy="375.9" r="0.75" fill="#b3b3b3"/>
<circle cx="80.4" cy="403.7" r="0.75" fill="#b3b3b3"/>
<circle cx="103.4" cy="377.2" r="0.75" fill="#b3b3b3"/>
<circle cx="75.8" cy="406.6" r="0.75" fill="#b3b3b3"/>
<circle cx="87.3" cy="390.4" r="0.75" fill="#b3b3b3"/>
<circle cx="116.9" cy="368.3" r="0.75" fill="#b3b3b3"/>
<circle cx="93.1" cy="390.8" r="0.75" fill="#b3b3b3"/>
<circle cx="195.8" cy="290.8" r="0.75" fill="#b3b3b3"/>
<circle cx="79.6" cy="397.4" r="0.75" fill="#b3b3b3"/>
<circle cx="87.7" cy="392.0" r="0.75" fill="#b3b3b3"/>
<circle cx="72.2" cy="406.9" r="0.75" fill="#b3b3b3"/>
<circle cx="97.8" cy="385.4" r="0.75" fill="#b3b3b3"/>
<circle cx="118.0" cy="364.9" r="0.75" fill="#b3b3b3"/>
<circle cx="81.2" cy="397.8" r="0.75" fill="#b3b3b3"/>
<circle cx="179.0" cy="313.4" r="0.75" fill="#b3b3b3"/>
<circle cx="100.6" cy="382.5" r="0.75" fill="#b3b3b3"/>
<circle cx="86.1" cy="387.5" r="0.75" fill="#b3b3b3"/>
<circle cx="109.4" cy="372.4" r="0.75" fill="#b3b3b3"/>
<circle cx="77.4" cy="401.4" r="0.75" fill="#b3b3b3"/>
<circle cx="97.3" cy="382.1" r="0.75" fill="#b3b3b3"/>
<circle cx="96.9" cy="381.5" r="0.75" fill="#b3b3b3"/>
<circle cx="149.7" cy="330.0" r="0.75" fill="#b3b3b3"/>
<circle cx="153.9" cy="321.8" r="0.75" fill="#b3b3b3"/>
<circle cx="105.9" cy="377.1" r="0.75" fill="#b3b3b3"/>
<circle cx="73.1" cy="407.6" r="0.75" fill="#b3b3b3"/>
<circle cx="99.5" cy="380.3" r="0.75" fill="#b3b3b3"/>
<circle cx="138.9" cy="346.8" r="0.75" fill="#b3b3b3"/>
<circle cx="88.8" cy="391.9" r="0.75" fill="#b3b3b3"/>
<circle cx="153.6" cy="330.6" r="0.75" fill="#b3b3b3"/>
<circle cx="90.2" cy="391.3" r="0.75" fill="#b3b3b3"/>
<circle cx="119.0" cy="365.6" r="0.75" fill="#b3b3b3"/>
<circle cx="119.1" cy="366.4" r="0.75" fill="#b3b3b3"/>
<circle cx="80.3" cy="406.6" r="0.75" fill="#b3b3b3"/>
<circle cx="85.1" cy="395.9" r="0.75" fill="#b3b3b3"/>
<circle cx="88.9" cy="389.6" r="0.75" fill="#b3b3b3"/>
<circle cx="81.4" cy="397.9" r="0.75" fill="#b3b3b3"/>
<circle cx="136.8" cy="347.3" r="0.75" fill="#b3b3b3"/>
<circle cx="131.1" cy="347.5" r="0.75" fill="#b3b3b3"/>
<circle cx="115.9" cy="362.0" r="0.75" fill="#b3b3b3"/>
<circle cx="145.4" cy="339.4" r="0.75" fill="#b3b3b3"/>
<circle cx="104.0" cy="380.5" r="0.75" fill="#b3b3b3"/>
<circle cx="74.7" cy="409.0" r="0.75" fill="#b3b3b3"/>
<circle cx="129.7" cy="351.1" r="0.75" fill="#b3b3b3"/>
<circle cx="200.3" cy="289.2" r="0.75" fill="#b3b3b3"/>
<circle cx="195.8" cy="287.2" r="0.75" fill="#b3b3b3"/>
<circle cx="197.8" cy="287.5" r="0.75" fill="#b3b3b3"/>
<circle cx="135.8" cy="342.7" r="0.75" fill="#b3b3b3"/>
<circle cx="115.8" cy="360.4" r="0.75" fill="#b3b3b3"/>
<circle cx="115.4" cy="370.7" r="0.75" fill="#b3b3b3"/>
<circle cx="86.5" cy="394.9" r="0.75" fill="#b3b3b3"/>
<circle cx="126.0" cy="359.1" r="0.75" fill="#b3b3b3"/>
<circle cx="161.7" cy="320.5" r="0.75" fill="#b3b3b3"/>
<circle cx="180.6" cy="301.7" r="0.75" fill="#b3b3b3"/>
<circle cx="87.1" cy="389.6" r="0.75" fill="#b3b3b3"/>
<circle cx="90.0" cy="388.1" r="0.75" fill="#b3b3b3"/>
<circle cx="122.5" cy="359.3" r="0.75" fill="#b3b3b3"/>
<circle cx="175.9" cy="306.9" r="0.75" fill="#b3b3b3"/>
<circle cx="91.0" cy="392.4" r="0.75" fill="#b3b3b3"/>
<circle cx="90.8" cy="390.6" r="0.75" fill="#b3b3b3"/>
<circle cx="78.7" cy="403.2" r="0.75" fill="#b3b3b3"/>
<circle cx="77.7" cy="404.2" r="0.75" fill="#b3b3b3"/>
<circle cx="83.0" cy="398.3" r="0.75" fill="#b3b3b3"/>
<circle cx="92.4" cy="387.1" r="0.75" fill="#b3b3b3"/>
<circle cx="109.2" cy="375.9" r="0.75" fill="#b3b3b3"/>
<circle cx="120.3" cy="365.7" r="0.75" fill="#b3b3b3"/>
<circle cx="88.5" cy="394.9" r="0.75" fill="#b3b3b3"/>
<circle cx="91.7" cy="390.2" r="0.75" fill="#b3b3b3"/>
<circle cx="185.9" cy="298.3" r="0.75" fill="#b3b3b3"/>
<circle cx="94.4" cy="388.0" r="0.75" fill="#b3b3b3"/>
<circle cx="107.6" cy="374.8" r="0.75" fill="#b3b3b3"/>
<circle cx="118.3" cy="364.5" r="0.75" fill="#b3b3b3"/>
<circle cx="95.6" cy="382.7" r="0.75" fill="#b3b3b3"/>
<circle cx="116.6" cy="363.1" r="0.75" fill="#b3b3b3"/>
<circle cx="101.4" cy="380.9" r="0.75" fill="#b3b3b3"/>
<circle cx="176.6" cy="301.0" r="0.75" fill="#b3b3b3"/>
<circle cx="114.5" cy="370.4" r="0.75" fill="#b3b3b3"/>
<circle cx="136.0" cy="335.8" r="0.75" fill="#b3b3b3"/>
<circle cx="194.9" cy="285.7" r="0.75" fill="#b3b3b3"/>
<circle cx="144.7" cy="334.5" r="0.75" fill="#b3b3b3"/>
<circle cx="105.3" cy="376.3" r="0.75" fill="#b3b3b3"/>
<circle cx="84.0" cy="395.7" r="0.75" fill="#b3b3b3"/>
<circle cx="81.0" cy="401.1" r="0.75" fill="#b3b3b3"/>
<circle cx="112.6" cy="368.9" r="0.75" fill="#b3b3b3"/>
<circle cx="75.1" cy="400.8" r="0.75" fill="#b3b3b3"/>
<circle cx="186.2" cy="293.9" r="0.75" fill="#b3b3b3"/>
<circle cx="120.2" cy="358.0" r="0.75" fill="#b3b3b3"/>
<circle cx="92.4" cy="386.7" r="0.75" fill="#b3b3b3"/>
<circle cx="99.9" cy="383.9" r="0.75" fill="#b3b3b3"/>
<circle cx="87.0" cy="392.4" r="0.75" fill="#b3b3b3"/>
<circle cx="114.1" cy="374.2" r="0.75" fill="#b3b3b3"/>
<circle cx="76.0" cy="402.3" r="0.75" fill="#b3b3b3"/>
<circle cx="122.3" cy="364.4" r="0.75" fill="#b3b3b3"/>
<circle cx="190.6" cy="291.3" r="0.75" fill="#b3b3b3"/>
<circle cx="166.0" cy="318.2" r="0.75" fill="#b3b3b3"/>
<circle cx="80.4" cy="403.8" r="0.75" fill="#b3b3b3"/>
<circle cx="135.8" cy="343.4" r="0.75" fill="#b3b3b3"/>
<circle cx="76.6" cy="401.8" r="0.75" fill="#b3b3b3"/>
<circle cx="111.4" cy="363.4" r="0.75" fill="#b3b3b3"/>
<circle cx="124.6" cy="354.5" r="0.75" fill="#b3b3b3"/>
<circle cx="93.6" cy="388.3" r="0.75" fill="#b3b3b3"/>
<circle cx="109.5" cy="374.9" r="0.75" fill="#b3b3b3"/>
<circle cx="112.9" cy="365.5" r="0.75" fill="#b3b3b3"/>
<circle cx="123.7" cy="358.6" r="0.75" fill="#b3b3b3"/>
<circle cx="97.5" cy="384.3" r="0.75" fill="#b3b3b3"/>
<circle cx="92.6" cy="388.2" r="0.75" fill="#b3b3b3"/>
<circle cx="132.5" cy="354.1" r="0.75" fill="#b3b3b3"/>
<circle cx="103.9" cy="379.6" r="0.75" fill="#b3b3b3"/>
<circle cx="116.5" cy="365.4" r="0.75" fill="#b3b3b3"/>
<circle cx="84.8" cy="394.6" r="0.75" fill="#b3b3b3"/>
<circle cx="175.1" cy="311.7" r="0.75" fill="#b3b3b3"/>
<circle cx="74.3" cy="404.6" r="0.75" fill="#b3b3b3"/>
<circle cx="93.5" cy="385.9" r="0.75" fill="#b3b3b3"/>
<circle cx="72.5" cy="405.0" r="0.75" fill="#b3b3b3"/>
<circle cx="124.3" cy="358.4" r="0.75" fill="#b3b3b3"/>
<circle cx="186.9" cy="298.2" r="0.75" fill="#b3b3b3"/>
<circle cx="153.4" cy="333.6" r="0.75" fill="#b3b3b3"/>
<circle cx="114.8" cy="372.6" r="0.75" fill="#b3b3b3"/>
<circle cx="102.5" cy="380.6" r="0.75" fill="#b3b3b3"/>
<circle cx="94.6" cy="385.5" r="0.75" fill="#b3b3b3"/>
<circle cx="169.8" cy="316.4" r="0.75" fill="#b3b3b3"/>
<circle cx="123.8" cy="365.3" r="0.75" fill="#b3b3b3"/>
<circle cx="86.7" cy="398.8" r="0.75" fill="#b3b3b3"/>
<circle cx="78.0" cy="403.2" r="0.75" fill="#b3b3b3"/>
<circle cx="108.6" cy="375.2" r="0.75" fill="#b3b3b3"/>
<circle cx="119.2" cy="368.1" r="0.75" fill="#b3b3b3"/>
<circle cx="76.4" cy="403.2" r="0.75" fill="#b3b3b3"/>
<circle cx="82.2" cy="401.2" r="0.75" fill="#b3b3b3"/>
<circle cx="122.2" cy="365.4" r="0.75" fill="#b3b3b3"/>
<circle cx="103.9" cy="386.1" r="0.75" fill="#b3b3b3"/>
<circle cx="96.4" cy="385.2" r="0.75" fill="#b3b3b3"/>
<circle cx="151.6" cy="332.1" r="0.75" fill="#b3b3b3"/>
<circle cx="167.0" cy="317.3" r="0.75" fill="#b3b3b3"/>
<circle cx="129.3" cy="344.9" r="0.75" fill="#b3b3b3"/>
<circle cx="111.9" cy="370.3" r="0.75" fill="#b3b3b3"/>
<circle cx="112.8" cy="364.3" r="0.75" fill="#b3b3b3"/>
<circle cx="127.3" cy="356.5" r="0.75" fill="#b3b3b3"/>
<circle cx="189.1" cy="294.7" r="0.75" fill="#b3b3b3"/>
<circle cx="83.9" cy="400.2" r="0.75" fill="#b3b3b3"/>
<circle cx="79.2" cy="405.3" r="0.75" fill="#b3b3b3"/>
<circle cx="190.2" cy="303.9" r="0.75" fill="#b3b3b3"/>
<circle cx="115.4" cy="366.5" r="0.75" fill="#b3b3b3"/>
<circle cx="100.0" cy="382.0" r="0.75" fill="#b3b3b3"/>
<circle cx="97.5" cy="384.7" r="0.75" fill="#b3b3b3"/>
<circle cx="89.9" cy="389.8" r="0.75" fill="#b3b3b3"/>
<circle cx="175.1" cy="313.2" r="0.75" fill="#b3b3b3"/>
<circle cx="153.3" cy="334.0" r="0.75" fill="#b3b3b3"/>
<circle cx="73.6" cy="404.5" r="0.75" fill="#b3b3b3"/>
<circle cx="97.5" cy="387.7" r="0.75" fill="#b3b3b3"/>
<circle cx="190.4" cy="298.5" r="0.75" fill="#b3b3b3"/>
<circle cx="84.8" cy="392.1" r="0.75" fill="#b3b3b3"/>
<circle cx="116.6" cy="362.4" r="0.75" fill="#b3b3b3"/>
<circle cx="79.6" cy="404.0" r="0.75" fill="#b3b3b3"/>
<circle cx="73.9" cy="406.1" r="0.75" fill="#b3b3b3"/>
<circle cx="127.2" cy="357.0" r="0.75" fill="#b3b3b3"/>
<circle cx="158.2" cy="321.0" r="0.75" fill="#b3b3b3"/>
<circle cx="83.8" cy="399.4" r="0.75" fill="#b3b3b3"/>
<circle cx="85.0" cy="398.8" r="0.75" fill="#b3b3b3"/>
<circle cx="77.4" cy="408.5" r="0.75" fill="#b3b3b3"/>
<circle cx="89.4" cy="394.6" r="0.75" fill="#b3b3b3"/>
<circle cx="181.4" cy="291.7" r="0.75" fill="#b3b3b3"/>
<circle cx="170.3" cy="308.4" r="0.75" fill="#b3b3b3"/>
<circle cx="131.2" cy="354.7" r="0.75" fill="#b3b3b3"/>
<circle cx="98.1" cy="382.5" r="0.75" fill="#b3b3b3"/>
<circle cx="76.6" cy="403.4" r="0.75" fill="#b3b3b3"/>
<circle cx="72.7" cy="408.0" r="0.75" fill="#b3b3b3"/>
<circle cx="128.2" cy="354.3" r="0.75" fill="#b3b3b3"/>
<circle cx="72.0" cy="403.8" r="0.75" fill="#b3b3b3"/>
<circle cx="87.5" cy="389.0" r="0.75" fill="#b3b3b3"/>
<circle cx="90.4" cy="393.0" r="0.75" fill="#b3b3b3"/>
<circle cx="143.4" cy="340.1" r="0.75" fill="#b3b3b3"/>
<circle cx="87.5" cy="398.1" r="0.75" fill="#b3b3b3"/>
<circle cx="106.3" cy="376.4" r="0.75" fill="#b3b3b3"/>
<circle cx="88.5" cy="392.1" r="0.75" fill="#b3b3b3"/>
<circle cx="109.4" cy="374.0" r="0.75" fill="#b3b3b3"/>
<circle cx="111.3" cy="370.9" r="0.75" fill="#b3b3b3"/>
<circle cx="107.5" cy="376.7" r="0.75" fill="#b3b3b3"/>
<circle cx="183.7" cy="303.1" r="0.75" fill="#b3b3b3"/>
<circle cx="164.2" cy="324.7" r="0.75" fill="#b3b3b3"/>
<circle cx="101.7" cy="379.3" r="0.75" fill="#b3b3b3"/>
<circle cx="98.1" cy="384.2" r="0.75" fill="#b3b3b3"/>
<circle cx="79.1" cy="395.8" r="0.75" fill="#b3b3b3"/>
<circle cx="118.4" cy="361.1" r="0.75" fill="#b3b3b3"/>
<circle cx="79.0" cy="402.7" r="0.75" fill="#b3b3b3"/>
<circle cx="152.9" cy="334.6" r="0.75" fill="#b3b3b3"/>
<circle cx="119.0" cy="361.4" r="0.75" fill="#b3b3b3"/>
<circle cx="87.8" cy="392.9" r="0.75" fill="#b3b3b3"/>
<circle cx="123.0" cy="364.2" r="0.75" fill="#b3b3b3"/>
<circle cx="119.8" cy="360.5" r="0.75" fill="#b3b3b3"/>
<circle cx="108.7" cy="369.4" r="0.75" fill="#b3b3b3"/>
<circle cx="102.9" cy="381.2" r="0.75" fill="#b3b3b3"/>
<circle cx="197.2" cy="295.2" r="0.75" fill="#b3b3b3"/>
<circle cx="119.7" cy="361.7" r="0.75" fill="#b3b3b3"/>
<circle cx="155.5" cy="325.7" r="0.75" fill="#b3b3b3"/>
<circle cx="81.4" cy="399.4" r="0.75" fill="#b3b3b3"/>
<circle cx="87.2" cy="397.5" r="0.75" fill="#b3b3b3"/>
<circle cx="73.2" cy="407.6" r="0.75" fill="#b3b3b3"/>
<circle cx="90.7" cy="393.0" r="0.75" fill="#b3b3b3"/>
<circle cx="88.3" cy="389.5" r="0.75" fill="#b3b3b3"/>
<circle cx="107.9" cy="376.7" r="0.75" fill="#b3b3b3"/>
<circle cx="116.4" cy="360.4" r="0.75" fill="#b3b3b3"/>
<circle cx="79.4" cy="399.2" r="0.75" fill="#b3b3b3"/>
<circle cx="81.8" cy="399.4" r="0.75" fill="#b3b3b3"/>
<circle cx="80.5" cy="400.7" r="0.75" fill="#b3b3b3"/>
<circle cx="104.1" cy="384.3" r="0.75" fill="#b3b3b3"/>
<circle cx="116.9" cy="361.2" r="0.75" fill="#b3b3b3"/>
<circle cx="90.4" cy="392.2" r="0.75" fill="#b3b3b3"/>
<circle cx="77.5" cy="406.6" r="0.75" fill="#b3b3b3"/>
<circle cx="92.9" cy="384.4" r="0.75" fill="#b3b3b3"/>
<circle cx="85.8" cy="394.0" r="0.75" fill="#b3b3b3"/>
<circle cx="184.2" cy="306.3" r="0.75" fill="#b3b3b3"/>
<circle cx="191.1" cy="298.1" r="0.75" fill="#b3b3b3"/>
<circle cx="171.2" cy="314.9" r="0.75" fill="#b3b3b3"/>
<circle cx="81.9" cy="394.8" r="0.75" fill="#b3b3b3"/>
<circle cx="181.4" cy="299.9" r="0.75" fill="#b3b3b3"/>
<circle cx="163.7" cy="317.5" r="0.75" fill="#b3b3b3"/>
<circle cx="116.8" cy="361.3" r="0.75" fill="#b3b3b3"/>
<circle cx="99.3" cy="386.1" r="0.75" fill="#b3b3b3"/>
<circle cx="183.2" cy="294.9" r="0.75" fill="#b3b3b3"/>
<circle cx="75.6" cy="403.1" r="0.75" fill="#b3b3b3"/>
<circle cx="80.3" cy="398.2" r="0.75" fill="#b3b3b3"/>
<circle cx="106.4" cy="369.8" r="0.75" fill="#b3b3b3"/>
<circle cx="155.0" cy="324.0" r="0.75" fill="#b3b3b3"/>
<circle cx="191.0" cy="298.9" r="0.75" fill="#b3b3b3"/>
<circle cx="79.6" cy="400.1" r="0.75" fill="#b3b3b3"/>
<circle cx="139.3" cy="344.5" r="0.75" fill="#b3b3b3"/>
<circle cx="82.1" cy="400.2" r="0.75" fill="#b3b3b3"/>
<circle cx="117.7" cy="361.7" r="0.75" fill="#b3b3b3"/>
<circle cx="185.3" cy="290.6" r="0.75" fill="#b3b3b3"/>
<circle cx="99.1" cy="383.1" r="0.75" fill="#b3b3b3"/>
<circle cx="177.9" cy="314.3" r="0.75" fill="#b3b3b3"/>
<circle cx="102.1" cy="379.8" r="0.75" fill="#b3b3b3"/>
<circle cx="93.3" cy="394.1" r="0.75" fill="#b3b3b3"/>
<circle cx="138.5" cy="347.0" r="0.75" fill="#b3b3b3"/>
<circle cx="112.7" cy="367.1" r="0.75" fill="#b3b3b3"/>
<circle cx="199.3" cy="287.4" r="0.85" fill="#e8281f"/>
<circle cx="194.2" cy="308.5" r="0.85" fill="#e8281f"/>
<circle cx="180.0" cy="317.3" r="0.85" fill="#e8281f"/>
<circle cx="162.5" cy="319.7" r="0.85" fill="#e8281f"/>
<circle cx="157.8" cy="325.2" r="0.85" fill="#e8281f"/>
<circle cx="150.8" cy="331.3" r="0.85" fill="#e8281f"/>
<circle cx="145.7" cy="336.2" r="0.85" fill="#e8281f"/>
<circle cx="131.8" cy="344.1" r="0.85" fill="#e8281f"/>
<circle cx="120.7" cy="350.6" r="0.85" fill="#e8281f"/>
<circle cx="122.0" cy="356.6" r="0.85" fill="#e8281f"/>
<circle cx="117.5" cy="360.3" r="0.85" fill="#e8281f"/>
<circle cx="114.3" cy="362.1" r="0.85" fill="#e8281f"/>
<circle cx="112.1" cy="365.2" r="0.85" fill="#e8281f"/>
<circle cx="106.4" cy="367.9" r="0.85" fill="#e8281f"/>
<circle cx="126.4" cy="367.0" r="0.85" fill="#e8281f"/>
<circle cx="124.8" cy="371.9" r="0.85" fill="#e8281f"/>
<circle cx="112.4" cy="381.1" r="0.85" fill="#e8281f"/>
<circle cx="138.4" cy="358.5" r="0.85" fill="#e8281f"/>
<circle cx="104.5" cy="388.1" r="0.85" fill="#e8281f"/>
<circle cx="102.6" cy="392.6" r="0.85" fill="#e8281f"/>
<circle cx="101.0" cy="390.2" r="0.85" fill="#e8281f"/>
<circle cx="78.8" cy="391.1" r="0.85" fill="#e8281f"/>
<circle cx="80.7" cy="394.2" r="0.85" fill="#e8281f"/>
<circle cx="96.3" cy="397.2" r="0.85" fill="#e8281f"/>
<circle cx="97.9" cy="397.5" r="0.85" fill="#e8281f"/>
<circle cx="92.5" cy="399.7" r="0.85" fill="#e8281f"/>
<circle cx="97.5" cy="403.0" r="0.85" fill="#e8281f"/>
<circle cx="92.5" cy="403.6" r="0.85" fill="#e8281f"/>
<circle cx="90.6" cy="405.1" r="0.85" fill="#e8281f"/>
<circle cx="89.0" cy="408.2" r="0.85" fill="#e8281f"/>
<circle cx="85.8" cy="406.7" r="0.85" fill="#e8281f"/>
<circle cx="83.0" cy="410.0" r="0.85" fill="#e8281f"/>
<circle cx="79.2" cy="410.3" r="0.85" fill="#e8281f"/>
<circle cx="77.6" cy="413.4" r="0.85" fill="#e8281f"/>
<circle cx="75.7" cy="414.9" r="0.85" fill="#e8281f"/>
<circle cx="72.2" cy="417.3" r="0.85" fill="#e8281f"/>
<circle cx="81.7" cy="417.0" r="0.85" fill="#e8281f"/>
<circle cx="65.2" cy="405.4" r="0.85" fill="#e8281f"/>
<circle cx="67.1" cy="406.1" r="0.85" fill="#e8281f"/>
<circle cx="69.0" cy="419.2" r="0.80" fill="#e8281f"/>
<circle cx="64.4" cy="423.1" r="0.80" fill="#e8281f"/>
<circle cx="77.6" cy="411.3" r="0.80" fill="#e8281f"/>
<circle cx="54.1" cy="432.7" r="0.80" fill="#e8281f"/>
<circle cx="79.0" cy="408.8" r="0.80" fill="#e8281f"/>
<circle cx="52.5" cy="435.1" r="0.80" fill="#e8281f"/>
<circle cx="47.0" cy="438.3" r="0.80" fill="#e8281f"/>
<circle cx="63.7" cy="422.6" r="0.80" fill="#e8281f"/>
<circle cx="70.1" cy="418.0" r="0.80" fill="#e8281f"/>
<circle cx="56.8" cy="430.9" r="0.80" fill="#e8281f"/>
<circle cx="67.6" cy="420.3" r="0.80" fill="#e8281f"/>
<circle cx="60.8" cy="425.9" r="0.80" fill="#e8281f"/>
<circle cx="49.2" cy="437.2" r="0.80" fill="#e8281f"/>
<circle cx="78.2" cy="410.7" r="0.80" fill="#e8281f"/>
<circle cx="46.8" cy="438.2" r="0.80" fill="#e8281f"/>
<circle cx="55.0" cy="432.4" r="0.80" fill="#e8281f"/>
<circle cx="59.6" cy="426.1" r="0.80" fill="#e8281f"/>
<circle cx="60.0" cy="427.2" r="0.80" fill="#e8281f"/>
<circle cx="70.3" cy="416.7" r="0.80" fill="#e8281f"/>
<circle cx="67.6" cy="420.2" r="0.80" fill="#e8281f"/>
<circle cx="65.4" cy="420.2" r="0.80" fill="#e8281f"/>
<circle cx="68.7" cy="417.3" r="0.80" fill="#e8281f"/>
<circle cx="47.5" cy="438.9" r="0.80" fill="#e8281f"/>
<circle cx="45.5" cy="439.4" r="0.80" fill="#e8281f"/>
<circle cx="58.7" cy="428.1" r="0.80" fill="#e8281f"/>
<circle cx="50.0" cy="438.0" r="0.80" fill="#e8281f"/>
<circle cx="74.1" cy="413.4" r="0.80" fill="#e8281f"/>
<circle cx="65.0" cy="421.6" r="0.80" fill="#e8281f"/>
<circle cx="77.8" cy="408.5" r="0.80" fill="#e8281f"/>
<circle cx="55.4" cy="430.5" r="0.80" fill="#e8281f"/>
<circle cx="74.5" cy="413.0" r="0.80" fill="#e8281f"/>
<circle cx="59.2" cy="427.4" r="0.80" fill="#e8281f"/>
<circle cx="74.8" cy="411.9" r="0.80" fill="#e8281f"/>
<circle cx="72.4" cy="415.7" r="0.80" fill="#e8281f"/>
<circle cx="60.4" cy="426.1" r="0.80" fill="#e8281f"/>
<circle cx="60.2" cy="426.6" r="0.80" fill="#e8281f"/>
<circle cx="56.4" cy="430.8" r="0.80" fill="#e8281f"/>
<circle cx="59.1" cy="427.2" r="0.80" fill="#e8281f"/>
<circle cx="71.4" cy="415.9" r="0.80" fill="#e8281f"/>
<circle cx="62.1" cy="426.1" r="0.80" fill="#e8281f"/>
<circle cx="65.9" cy="425.4" r="0.80" fill="#e8281f"/>
<circle cx="77.8" cy="417.9" r="0.80" fill="#e8281f"/>
<circle cx="73.3" cy="418.4" r="0.80" fill="#e8281f"/>
<circle cx="71.9" cy="422.0" r="0.80" fill="#e8281f"/>
<circle cx="63.5" cy="429.9" r="0.80" fill="#e8281f"/>
<circle cx="77.8" cy="415.8" r="0.80" fill="#e8281f"/>
<circle cx="70.8" cy="421.0" r="0.80" fill="#e8281f"/>
<circle cx="69.8" cy="420.7" r="0.80" fill="#e8281f"/>
<circle cx="73.4" cy="419.2" r="0.80" fill="#e8281f"/>
<circle cx="77.4" cy="414.1" r="0.80" fill="#e8281f"/>
<circle cx="61.6" cy="415.2" r="0.80" fill="#e8281f"/>
<circle cx="49.5" cy="421.3" r="0.80" fill="#e8281f"/>
<circle cx="45.3" cy="426.6" r="0.80" fill="#e8281f"/>
<circle cx="44.9" cy="428.5" r="0.80" fill="#e8281f"/>
<circle cx="69.7" cy="406.1" r="0.80" fill="#e8281f"/>
<circle cx="67.7" cy="409.1" r="0.80" fill="#e8281f"/>
<circle cx="54.5" cy="416.1" r="0.80" fill="#e8281f"/>
<circle cx="64.1" cy="410.1" r="0.80" fill="#e8281f"/>
<circle cx="55.2" cy="416.3" r="0.80" fill="#e8281f"/>
<circle cx="60.4" cy="411.1" r="0.80" fill="#e8281f"/>
<circle cx="56.6" cy="418.3" r="0.80" fill="#e8281f"/>
<circle cx="59.3" cy="413.4" r="0.80" fill="#e8281f"/>
<circle cx="52.7" cy="416.7" r="0.80" fill="#e8281f"/>
<circle cx="40.8" cy="429.6" r="0.80" fill="#e8281f"/>
<text x="119.0" y="341.7" font-size="6.2" text-anchor="start" fill="#333" >AC090498.1</text>
<text x="138.9" y="364.2" font-size="6.2" text-anchor="start" fill="#333" >CCL5</text>
<text x="36.0" y="410.3" font-size="5.6" text-anchor="start" fill="#333" >HBB ICAM2</text>
<text x="42.8" y="416.6" font-size="5.6" text-anchor="start" fill="#333" >GNLY</text>
<text x="42.0" y="425.3" font-size="5.6" text-anchor="start" fill="#333" >IGHA1</text>
<text x="85.6" y="415.3" font-size="5.6" text-anchor="start" fill="#333" >JUN</text>
<text x="77.0" y="423.5" font-size="5.6" text-anchor="start" fill="#333" >CXCR4</text>
<text x="72.3" y="429.8" font-size="5.6" text-anchor="start" fill="#333" >TMIGD2</text>
<text x="62.3" y="432.2" font-size="5.6" text-anchor="start" fill="#333" >IFI6</text>
<text x="84.8" y="435.8" font-size="5.6" text-anchor="start" fill="#333" >ITM2C</text>
<text x="71.3" y="437.6" font-size="5.6" text-anchor="start" fill="#333" >MX1</text>
<text x="50.3" y="442.8" font-size="5.6" text-anchor="start" fill="#333" >IFI44L</text>
<text x="69.8" y="443.5" font-size="5.6" text-anchor="start" fill="#333" >CXCR3</text>
<line x1="39.5" y1="410.0" x2="41.5" y2="432.0" stroke="#333" stroke-width="0.45" />
<line x1="41.0" y1="410.0" x2="43.0" y2="428.0" stroke="#333" stroke-width="0.45" />
<line x1="48.0" y1="416.5" x2="52.0" y2="421.0" stroke="#333" stroke-width="0.45" />
<line x1="45.0" y1="425.0" x2="44.0" y2="432.0" stroke="#333" stroke-width="0.45" />
<line x1="59.0" y1="432.0" x2="66.0" y2="436.5" stroke="#333" stroke-width="0.45" />
<line x1="60.0" y1="434.5" x2="71.0" y2="437.0" stroke="#333" stroke-width="0.45" />
<line x1="66.0" y1="441.0" x2="70.0" y2="441.0" stroke="#333" stroke-width="0.45" />
<line x1="82.0" y1="434.0" x2="84.5" y2="434.0" stroke="#333" stroke-width="0.45" />
<text x="0.6" y="517.2" font-size="13" text-anchor="start" fill="#111" font-weight="bold" stroke="#111" stroke-width="0.5">e</text>
<line x1="33.3" y1="521.0" x2="33.3" y2="569.0" stroke="#9a9a9a" stroke-width="0.9" />
<line x1="33.3" y1="569.0" x2="112.1" y2="569.0" stroke="#9a9a9a" stroke-width="0.9" />
<line x1="30.7" y1="565.8" x2="33.3" y2="565.8" stroke="#9a9a9a" stroke-width="0.7" />
<text x="28.9" y="568.2" font-size="6.8" text-anchor="end" fill="#333" >0</text>
<line x1="30.7" y1="553.0" x2="33.3" y2="553.0" stroke="#9a9a9a" stroke-width="0.7" />
<text x="28.9" y="555.4" font-size="6.8" text-anchor="end" fill="#333" >1</text>
<line x1="30.7" y1="540.2" x2="33.3" y2="540.2" stroke="#9a9a9a" stroke-width="0.7" />
<text x="28.9" y="542.6" font-size="6.8" text-anchor="end" fill="#333" >2</text>
<line x1="30.7" y1="527.4" x2="33.3" y2="527.4" stroke="#9a9a9a" stroke-width="0.7" />
<text x="28.9" y="529.8" font-size="6.8" text-anchor="end" fill="#333" >3</text>
<text x="77.1" y="518.3" font-size="8.8" text-anchor="middle" fill="#2b2b2b" >CXCR4</text>
<polygon points="71.1,566.4 71.1,565.8 70.5,565.3 66.0,563.6 61.0,561.8 57.8,560.4 57.1,559.4 57.2,558.1 58.6,556.2 63.0,553.0 65.6,548.6 64.6,545.3 63.1,541.4 60.7,535.5 58.8,531.9 57.8,529.7 56.9,527.4 56.2,522.2 56.0,521.6 56.0,521.6 55.8,522.2 55.1,527.4 54.2,529.7 53.2,531.9 51.3,535.5 48.9,541.4 47.4,545.3 46.4,548.6 49.0,553.0 53.4,556.2 54.8,558.1 54.9,559.4 54.2,560.4 51.0,561.8 46.0,563.6 41.5,565.3 40.9,565.8 40.9,566.4" fill="#d98b47" fill-opacity="1.0"/>
<polygon points="108.2,566.4 108.2,565.8 107.8,565.3 101.8,563.6 96.3,561.2 94.3,559.7 94.2,558.8 94.8,556.5 97.7,553.0 99.4,549.5 97.7,546.0 95.6,541.4 94.3,537.6 93.4,533.8 93.3,533.5 93.3,533.5 93.2,533.8 92.3,537.6 91.0,541.4 88.9,546.0 87.2,549.5 88.9,553.0 91.8,556.5 92.4,558.8 92.3,559.7 90.3,561.2 84.8,563.6 78.8,565.3 78.4,565.8 78.4,566.4" fill="#8790c6" fill-opacity="1.0"/>
<line x1="138.7" y1="521.0" x2="138.7" y2="569.0" stroke="#9a9a9a" stroke-width="0.9" />
<line x1="138.7" y1="569.0" x2="218.7" y2="569.0" stroke="#9a9a9a" stroke-width="0.9" />
<line x1="136.1" y1="566.3" x2="138.7" y2="566.3" stroke="#9a9a9a" stroke-width="0.7" />
<text x="134.3" y="568.7" font-size="6.8" text-anchor="end" fill="#333" >0</text>
<line x1="136.1" y1="553.6" x2="138.7" y2="553.6" stroke="#9a9a9a" stroke-width="0.7" />
<text x="134.3" y="556.0" font-size="6.8" text-anchor="end" fill="#333" >2</text>
<line x1="136.1" y1="540.9" x2="138.7" y2="540.9" stroke="#9a9a9a" stroke-width="0.7" />
<text x="134.3" y="543.3" font-size="6.8" text-anchor="end" fill="#333" >4</text>
<line x1="136.1" y1="528.2" x2="138.7" y2="528.2" stroke="#9a9a9a" stroke-width="0.7" />
<text x="134.3" y="530.6" font-size="6.8" text-anchor="end" fill="#333" >6</text>
<text x="179.0" y="518.3" font-size="8.8" text-anchor="middle" fill="#2b2b2b" >CCL4</text>
<polygon points="175.9,566.9 175.9,566.3 175.5,566.0 168.5,564.6 163.5,563.1 162.3,562.4 163.5,561.2 166.0,560.0 170.5,558.4 173.0,556.5 171.5,554.2 169.6,551.9 167.5,549.8 164.9,547.2 162.7,545.3 161.7,543.4 161.1,539.6 160.8,534.5 160.7,523.1 160.5,522.5 160.5,522.5 160.3,523.1 160.2,534.5 159.9,539.6 159.3,543.4 158.3,545.3 156.1,547.2 153.5,549.8 151.4,551.9 149.5,554.2 148.0,556.5 150.5,558.4 155.0,560.0 157.5,561.2 158.7,562.4 157.5,563.1 152.5,564.6 145.5,566.0 145.1,566.3 145.1,566.9" fill="#d98b47" fill-opacity="1.0"/>
<polygon points="214.9,566.9 214.9,566.3 214.5,566.0 205.3,564.2 202.3,563.1 201.3,562.4 201.9,561.0 204.8,559.9 208.1,558.7 209.2,556.5 207.3,554.2 205.1,551.9 203.5,550.1 201.8,549.2 199.8,548.6 199.3,548.5 199.3,548.5 198.8,548.6 196.8,549.2 195.1,550.1 193.5,551.9 191.3,554.2 189.4,556.5 190.5,558.7 193.8,559.9 196.7,561.0 197.3,562.4 196.3,563.1 193.3,564.2 184.1,566.0 183.7,566.3 183.7,566.9" fill="#8790c6" fill-opacity="1.0"/>
<line x1="33.3" y1="583.7" x2="33.3" y2="631.3" stroke="#9a9a9a" stroke-width="0.9" />
<line x1="33.3" y1="631.3" x2="112.1" y2="631.3" stroke="#9a9a9a" stroke-width="0.9" />
<line x1="30.7" y1="628.3" x2="33.3" y2="628.3" stroke="#9a9a9a" stroke-width="0.7" />
<text x="28.9" y="630.7" font-size="6.8" text-anchor="end" fill="#333" >0</text>
<line x1="30.7" y1="615.2" x2="33.3" y2="615.2" stroke="#9a9a9a" stroke-width="0.7" />
<text x="28.9" y="617.6" font-size="6.8" text-anchor="end" fill="#333" >1</text>
<line x1="30.7" y1="602.1" x2="33.3" y2="602.1" stroke="#9a9a9a" stroke-width="0.7" />
<text x="28.9" y="604.5" font-size="6.8" text-anchor="end" fill="#333" >2</text>
<line x1="30.7" y1="589.0" x2="33.3" y2="589.0" stroke="#9a9a9a" stroke-width="0.7" />
<text x="28.9" y="591.4" font-size="6.8" text-anchor="end" fill="#333" >3</text>
<text x="77.1" y="581.9" font-size="8.8" text-anchor="middle" fill="#2b2b2b" >CXCR3</text>
<polygon points="72.1,629.0 72.1,628.3 71.5,627.8 66.0,626.3 60.5,624.4 57.6,622.4 56.9,620.4 56.8,617.8 57.6,615.2 59.0,612.6 60.1,608.6 59.2,605.4 58.0,602.8 57.3,599.5 56.8,594.2 56.4,589.0 56.1,585.1 56.0,584.4 56.0,584.4 55.9,585.1 55.6,589.0 55.2,594.2 54.7,599.5 54.0,602.8 52.8,605.4 51.9,608.6 53.0,612.6 54.4,615.2 55.2,617.8 55.1,620.4 54.4,622.4 51.5,624.4 46.0,626.3 40.5,627.8 39.9,628.3 39.9,629.0" fill="#d98b47" fill-opacity="1.0"/>
<polygon points="109.1,629.0 109.1,628.3 108.5,627.8 101.9,626.3 96.4,624.4 93.8,622.4 93.3,619.1 93.5,615.2 93.9,612.6 94.2,610.4 93.8,607.3 93.4,603.4 93.2,598.2 93.0,593.6 92.9,592.9 92.9,592.9 92.8,593.6 92.6,598.2 92.5,603.4 92.0,607.3 91.7,610.4 91.9,612.6 92.3,615.2 92.5,619.1 92.0,622.4 89.4,624.4 83.9,626.3 77.3,627.8 76.7,628.3 76.7,629.0" fill="#8790c6" fill-opacity="1.0"/>
<line x1="138.7" y1="584.4" x2="138.7" y2="631.3" stroke="#9a9a9a" stroke-width="0.9" />
<line x1="138.7" y1="631.3" x2="218.7" y2="631.3" stroke="#9a9a9a" stroke-width="0.9" />
<line x1="136.1" y1="629.2" x2="138.7" y2="629.2" stroke="#9a9a9a" stroke-width="0.7" />
<text x="134.3" y="631.6" font-size="6.8" text-anchor="end" fill="#333" >0</text>
<line x1="136.1" y1="618.8" x2="138.7" y2="618.8" stroke="#9a9a9a" stroke-width="0.7" />
<text x="134.3" y="621.2" font-size="6.8" text-anchor="end" fill="#333" >1</text>
<line x1="136.1" y1="608.4" x2="138.7" y2="608.4" stroke="#9a9a9a" stroke-width="0.7" />
<text x="134.3" y="610.8" font-size="6.8" text-anchor="end" fill="#333" >2</text>
<line x1="136.1" y1="598.0" x2="138.7" y2="598.0" stroke="#9a9a9a" stroke-width="0.7" />
<text x="134.3" y="600.4" font-size="6.8" text-anchor="end" fill="#333" >3</text>
<line x1="136.1" y1="587.6" x2="138.7" y2="587.6" stroke="#9a9a9a" stroke-width="0.7" />
<text x="134.3" y="590.0" font-size="6.8" text-anchor="end" fill="#333" >4</text>
<text x="179.0" y="581.9" font-size="8.8" text-anchor="middle" fill="#2b2b2b" >CCL5</text>
<polygon points="162.4,629.7 162.4,629.2 161.4,627.3 160.4,626.1 160.5,623.2 161.2,620.4 162.1,618.0 161.7,615.0 162.2,611.5 164.9,607.5 170.5,603.4 173.9,599.9 176.1,597.0 175.4,595.2 169.2,591.8 162.8,589.3 161.4,587.6 160.2,585.6 160.2,585.6 159.0,587.6 157.6,589.3 151.2,591.8 145.0,595.2 144.3,597.0 146.5,599.9 149.9,603.4 155.5,607.5 158.2,611.5 158.7,615.0 158.3,618.0 159.2,620.4 159.9,623.2 160.0,626.1 159.0,627.3 158.0,629.2 158.0,629.7" fill="#d98b47" fill-opacity="1.0"/>
<polygon points="200.9,629.7 200.9,629.2 200.1,627.3 199.5,626.3 199.6,624.0 200.4,620.9 201.4,616.2 202.6,611.5 204.9,606.9 210.2,602.8 215.0,599.9 211.4,596.4 204.9,592.9 201.1,590.7 199.1,589.6 199.1,589.6 197.1,590.7 193.3,592.9 186.8,596.4 183.2,599.9 188.0,602.8 193.3,606.9 195.6,611.5 196.8,616.2 197.8,620.9 198.6,624.0 198.7,626.3 198.1,627.3 197.3,629.2 197.3,629.7" fill="#8790c6" fill-opacity="1.0"/>
<line x1="33.3" y1="646.4" x2="33.3" y2="694.2" stroke="#9a9a9a" stroke-width="0.9" />
<line x1="33.3" y1="694.2" x2="112.1" y2="694.2" stroke="#9a9a9a" stroke-width="0.9" />
<line x1="30.7" y1="691.1" x2="33.3" y2="691.1" stroke="#9a9a9a" stroke-width="0.7" />
<text x="28.9" y="693.5" font-size="6.8" text-anchor="end" fill="#333" >0</text>
<line x1="30.7" y1="678.2" x2="33.3" y2="678.2" stroke="#9a9a9a" stroke-width="0.7" />
<text x="28.9" y="680.6" font-size="6.8" text-anchor="end" fill="#333" >1</text>
<line x1="30.7" y1="665.3" x2="33.3" y2="665.3" stroke="#9a9a9a" stroke-width="0.7" />
<text x="28.9" y="667.7" font-size="6.8" text-anchor="end" fill="#333" >2</text>
<line x1="30.7" y1="652.4" x2="33.3" y2="652.4" stroke="#9a9a9a" stroke-width="0.7" />
<text x="28.9" y="654.8" font-size="6.8" text-anchor="end" fill="#333" >3</text>
<text x="77.1" y="644.2" font-size="8.8" text-anchor="middle" fill="#2b2b2b" >IFI44L</text>
<polygon points="71.6,691.7 71.6,691.1 71.5,690.7 66.0,689.2 61.0,687.4 57.2,685.0 56.7,682.7 58.0,677.9 59.6,674.3 59.2,671.0 57.8,666.5 57.0,657.0 56.5,652.4 56.1,646.5 56.0,646.0 56.0,646.0 55.9,646.5 55.5,652.4 55.0,657.0 54.2,666.5 52.8,671.0 52.4,674.3 54.0,677.9 55.3,682.7 54.8,685.0 51.0,687.4 46.0,689.2 40.5,690.7 40.4,691.1 40.4,691.7" fill="#d98b47" fill-opacity="1.0"/>
<polygon points="107.1,691.7 107.1,691.1 106.1,690.6 97.6,689.2 93.1,687.4 92.0,685.3 92.0,679.5 92.5,675.1 92.0,671.1 91.8,665.3 91.6,658.9 91.6,658.2 91.6,658.2 91.5,658.9 91.4,665.3 91.2,671.1 90.7,675.1 91.2,679.5 91.2,685.3 90.1,687.4 85.6,689.2 77.1,690.6 76.1,691.1 76.1,691.7" fill="#8790c6" fill-opacity="1.0"/>
<line x1="138.3" y1="646.4" x2="138.3" y2="693.7" stroke="#9a9a9a" stroke-width="0.9" />
<line x1="138.3" y1="693.7" x2="217.5" y2="693.7" stroke="#9a9a9a" stroke-width="0.9" />
<line x1="135.7" y1="691.1" x2="138.3" y2="691.1" stroke="#9a9a9a" stroke-width="0.7" />
<text x="133.9" y="693.5" font-size="6.8" text-anchor="end" fill="#333" >0</text>
<line x1="135.7" y1="675.3" x2="138.3" y2="675.3" stroke="#9a9a9a" stroke-width="0.7" />
<text x="133.9" y="677.7" font-size="6.8" text-anchor="end" fill="#333" >1</text>
<line x1="135.7" y1="659.5" x2="138.3" y2="659.5" stroke="#9a9a9a" stroke-width="0.7" />
<text x="133.9" y="661.9" font-size="6.8" text-anchor="end" fill="#333" >2</text>
<text x="179.5" y="644.2" font-size="8.8" text-anchor="middle" fill="#2b2b2b" >TMIGD2</text>
<polygon points="175.4,691.9 175.4,691.1 175.2,690.3 168.7,687.9 163.7,685.1 161.2,682.7 160.9,680.4 162.7,676.9 165.8,673.4 168.2,669.3 167.8,666.5 166.2,663.0 165.4,658.2 162.9,652.4 160.7,649.2 159.8,647.2 159.7,646.9 159.7,646.9 159.6,647.2 158.7,649.2 156.5,652.4 154.0,658.2 153.2,663.0 151.6,666.5 151.2,669.3 153.6,673.4 156.7,676.9 158.5,680.4 158.2,682.7 155.7,685.1 150.7,687.9 144.2,690.3 143.9,691.1 143.9,691.9" fill="#d98b47" fill-opacity="1.0"/>
<polygon points="214.4,691.9 214.4,691.1 214.1,690.3 207.6,688.6 202.6,686.2 199.8,683.4 199.6,680.4 201.4,675.8 203.0,671.7 201.8,666.5 200.4,661.7 199.2,656.3 198.7,652.4 198.6,652.1 198.6,652.1 198.5,652.4 198.0,656.3 196.8,661.7 195.4,666.5 194.2,671.7 195.8,675.8 197.6,680.4 197.4,683.4 194.6,686.2 189.6,688.6 183.1,690.3 182.8,691.1 182.8,691.9" fill="#8790c6" fill-opacity="1.0"/>
<text x="0" y="0" font-size="8.6" text-anchor="middle" fill="#2b2b2b" transform="translate(17,607.7) rotate(-90)">Gene expression</text>
<rect x="22.80" y="704.30" width="10.50" height="7.70" fill="#d98b47" />
<text x="37.8" y="710.8" font-size="7.6" text-anchor="start" fill="#2b2b2b" >MAIT enriched in ascites</text>
<rect x="134.20" y="704.30" width="10.50" height="7.70" fill="#8790c6" />
<text x="150.0" y="710.8" font-size="7.6" text-anchor="start" fill="#2b2b2b" >MAIT enriched in blood</text>
<text x="250.0" y="262.6" font-size="13" text-anchor="start" fill="#111" font-weight="bold" stroke="#111" stroke-width="0.5">f</text>
<rect x="267.3" y="278.3" width="120.89999999999998" height="173.7" fill="none" stroke="#9a9a9a" stroke-width="0.9"/>
<line x1="388.2" y1="282.6" x2="390.8" y2="282.6" stroke="#9a9a9a" stroke-width="0.6" />
<text x="395.0" y="285.0" font-size="6.8" text-anchor="start" fill="#2b2b2b" >CXCL17</text>
<line x1="388.2" y1="289.2" x2="390.8" y2="289.2" stroke="#9a9a9a" stroke-width="0.6" />
<text x="395.0" y="291.6" font-size="6.8" text-anchor="start" fill="#2b2b2b" >CCL18</text>
<line x1="388.2" y1="295.9" x2="390.8" y2="295.9" stroke="#9a9a9a" stroke-width="0.6" />
<text x="395.0" y="298.2" font-size="6.8" text-anchor="start" fill="#2b2b2b" >XCL1</text>
<line x1="388.2" y1="302.5" x2="390.8" y2="302.5" stroke="#9a9a9a" stroke-width="0.6" />
<text x="395.0" y="304.9" font-size="6.8" text-anchor="start" fill="#2b2b2b" >CXCL3</text>
<line x1="388.2" y1="309.1" x2="390.8" y2="309.1" stroke="#9a9a9a" stroke-width="0.6" />
<text x="395.0" y="311.5" font-size="6.8" text-anchor="start" fill="#4e7fba" >CXCL12</text>
<line x1="388.2" y1="315.7" x2="390.8" y2="315.7" stroke="#9a9a9a" stroke-width="0.6" />
<text x="395.0" y="318.1" font-size="6.8" text-anchor="start" fill="#f2a33a" >CXCL2</text>
<line x1="388.2" y1="322.4" x2="390.8" y2="322.4" stroke="#9a9a9a" stroke-width="0.6" />
<text x="395.0" y="324.8" font-size="6.8" text-anchor="start" fill="#e8765e" >CXCL10</text>
<line x1="388.2" y1="329.0" x2="390.8" y2="329.0" stroke="#9a9a9a" stroke-width="0.6" />
<text x="395.0" y="331.4" font-size="6.8" text-anchor="start" fill="#2b2b2b" >CXCL11</text>
<line x1="388.2" y1="335.6" x2="390.8" y2="335.6" stroke="#9a9a9a" stroke-width="0.6" />
<text x="395.0" y="338.0" font-size="6.8" text-anchor="start" fill="#1eb0e8" >CCL22</text>
<line x1="388.2" y1="342.2" x2="390.8" y2="342.2" stroke="#9a9a9a" stroke-width="0.6" />
<text x="395.0" y="344.6" font-size="6.8" text-anchor="start" fill="#2b2b2b" >CCL19</text>
<line x1="388.2" y1="348.9" x2="390.8" y2="348.9" stroke="#9a9a9a" stroke-width="0.6" />
<text x="395.0" y="351.2" font-size="6.8" text-anchor="start" fill="#2b2b2b" >CXCL13</text>
<line x1="388.2" y1="355.5" x2="390.8" y2="355.5" stroke="#9a9a9a" stroke-width="0.6" />
<text x="395.0" y="357.9" font-size="6.8" text-anchor="start" fill="#2b2b2b" >CCL25</text>
<line x1="388.2" y1="362.1" x2="390.8" y2="362.1" stroke="#9a9a9a" stroke-width="0.6" />
<text x="395.0" y="364.5" font-size="6.8" text-anchor="start" fill="#2b2b2b" >CCL21</text>
<line x1="388.2" y1="368.7" x2="390.8" y2="368.7" stroke="#9a9a9a" stroke-width="0.6" />
<text x="395.0" y="371.1" font-size="6.8" text-anchor="start" fill="#2b2b2b" >CCL7</text>
<line x1="388.2" y1="375.4" x2="390.8" y2="375.4" stroke="#9a9a9a" stroke-width="0.6" />
<text x="395.0" y="377.8" font-size="6.8" text-anchor="start" fill="#2b2b2b" >CCL8</text>
<line x1="388.2" y1="382.0" x2="390.8" y2="382.0" stroke="#9a9a9a" stroke-width="0.6" />
<text x="395.0" y="384.4" font-size="6.8" text-anchor="start" fill="#2b2b2b" >CXCL5</text>
<line x1="388.2" y1="388.6" x2="390.8" y2="388.6" stroke="#9a9a9a" stroke-width="0.6" />
<text x="395.0" y="391.0" font-size="6.8" text-anchor="start" fill="#2b2b2b" >CXCL8</text>
<line x1="388.2" y1="395.2" x2="390.8" y2="395.2" stroke="#9a9a9a" stroke-width="0.6" />
<text x="395.0" y="397.6" font-size="6.8" text-anchor="start" fill="#a7c9ea" >CXCL1</text>
<line x1="388.2" y1="401.9" x2="390.8" y2="401.9" stroke="#9a9a9a" stroke-width="0.6" />
<text x="395.0" y="404.2" font-size="6.8" text-anchor="start" fill="#2b2b2b" >CCL11</text>
<line x1="388.2" y1="408.5" x2="390.8" y2="408.5" stroke="#9a9a9a" stroke-width="0.6" />
<text x="395.0" y="410.9" font-size="6.8" text-anchor="start" fill="#2b2b2b" >CCL2</text>
<line x1="388.2" y1="415.1" x2="390.8" y2="415.1" stroke="#9a9a9a" stroke-width="0.6" />
<text x="395.0" y="417.5" font-size="6.8" text-anchor="start" fill="#2b2b2b" >CCL24</text>
<line x1="388.2" y1="421.7" x2="390.8" y2="421.7" stroke="#9a9a9a" stroke-width="0.6" />
<text x="395.0" y="424.1" font-size="6.8" text-anchor="start" fill="#d7c091" >CCL5</text>
<line x1="388.2" y1="428.4" x2="390.8" y2="428.4" stroke="#9a9a9a" stroke-width="0.6" />
<text x="395.0" y="430.8" font-size="6.8" text-anchor="start" fill="#1ea5a1" >CCL3</text>
<line x1="388.2" y1="435.0" x2="390.8" y2="435.0" stroke="#9a9a9a" stroke-width="0.6" />
<text x="395.0" y="437.4" font-size="6.8" text-anchor="start" fill="#2b2b2b" >CCL4L2</text>
<line x1="388.2" y1="441.6" x2="390.8" y2="441.6" stroke="#9a9a9a" stroke-width="0.6" />
<text x="395.0" y="444.0" font-size="6.8" text-anchor="start" fill="#2b2b2b" >CCL16</text>
<line x1="388.2" y1="448.2" x2="390.8" y2="448.2" stroke="#9a9a9a" stroke-width="0.6" />
<text x="395.0" y="450.6" font-size="6.8" text-anchor="start" fill="#d0325f" >CCL4</text>
<line x1="279.3" y1="275.7" x2="279.3" y2="278.3" stroke="#9a9a9a" stroke-width="0.6" />
<line x1="298.5" y1="275.7" x2="298.5" y2="278.3" stroke="#9a9a9a" stroke-width="0.6" />
<line x1="318.4" y1="275.7" x2="318.4" y2="278.3" stroke="#9a9a9a" stroke-width="0.6" />
<line x1="337.6" y1="275.7" x2="337.6" y2="278.3" stroke="#9a9a9a" stroke-width="0.6" />
<line x1="357.2" y1="275.7" x2="357.2" y2="278.3" stroke="#9a9a9a" stroke-width="0.6" />
<line x1="376.5" y1="275.7" x2="376.5" y2="278.3" stroke="#9a9a9a" stroke-width="0.6" />
<text x="0" y="0" font-size="8.45" fill="#2b2b2b" transform="translate(278.6,273.3) rotate(-45)">M01_DC–CD1C</text>
<text x="0" y="0" font-size="8.45" fill="#2b2b2b" transform="translate(297.8,273.3) rotate(-45)">M02_DC–CLEC9A</text>
<text x="0" y="0" font-size="8.45" fill="#2b2b2b" transform="translate(317.7,273.3) rotate(-45)">M03_DC–LAMP3</text>
<text x="0" y="0" font-size="8.45" fill="#2b2b2b" transform="translate(336.9,273.3) rotate(-45)">M04_DC–LGALS2</text>
<text x="0" y="0" font-size="8.45" fill="#2b2b2b" transform="translate(356.5,273.3) rotate(-45)">S11_MC–DES</text>
<text x="0" y="0" font-size="8.45" fill="#2b2b2b" transform="translate(375.8,273.3) rotate(-45)">T11_CD8–SLC4A10</text>
<line x1="279.3" y1="278.3" x2="279.3" y2="428.4" stroke="#1ea5a1" stroke-width="1.2" stroke-dasharray="16 1.4"/>
<line x1="318.4" y1="278.3" x2="318.4" y2="322.4" stroke="#e8765e" stroke-width="1.2"/>
<line x1="318.4" y1="322.4" x2="318.4" y2="335.6" stroke="#1eb0e8" stroke-width="1.2"/>
<line x1="357.2" y1="278.3" x2="357.2" y2="309.1" stroke="#4e7fba" stroke-width="1.2" stroke-dasharray="16 1.4"/>
<line x1="357.2" y1="309.1" x2="357.2" y2="315.7" stroke="#f2a33a" stroke-width="1.2"/>
<line x1="357.2" y1="322.4" x2="357.2" y2="395.2" stroke="#a7c9ea" stroke-width="1.2" stroke-dasharray="16 1.4"/>
<line x1="376.5" y1="278.3" x2="376.5" y2="421.7" stroke="#d7c091" stroke-width="1.2"/>
<line x1="376.5" y1="428.4" x2="376.5" y2="448.2" stroke="#d0325f" stroke-width="1.2" stroke-dasharray="2.5 1.5"/>
<line x1="357.2" y1="309.1" x2="388.2" y2="309.1" stroke="#4e7fba" stroke-width="1.32"/>
<line x1="357.2" y1="315.7" x2="388.2" y2="315.7" stroke="#f2a33a" stroke-width="1.32"/>
<line x1="318.4" y1="322.4" x2="388.2" y2="322.4" stroke="#e8765e" stroke-width="1.32"/>
<line x1="318.4" y1="335.6" x2="388.2" y2="335.6" stroke="#1eb0e8" stroke-width="1.32" stroke-dasharray="14 1.5"/>
<line x1="357.2" y1="395.2" x2="388.2" y2="395.2" stroke="#a7c9ea" stroke-width="1.32"/>
<line x1="376.5" y1="421.7" x2="388.2" y2="421.7" stroke="#d7c091" stroke-width="1.32"/>
<line x1="279.3" y1="428.4" x2="388.2" y2="428.4" stroke="#1ea5a1" stroke-width="1.32" stroke-dasharray="12 1.5"/>
<line x1="376.5" y1="448.2" x2="388.2" y2="448.2" stroke="#d0325f" stroke-width="1.32"/>
<circle cx="357.2" cy="309.1" r="3.80" fill="#4f555c" stroke="#4e7fba" stroke-width="1.0"/>
<circle cx="357.2" cy="315.7" r="1.90" fill="#a8a8a8" stroke="#f2a33a" stroke-width="0.9"/>
<circle cx="318.4" cy="322.4" r="1.20" fill="#ffffff" stroke="#e8765e" stroke-width="0.8"/>
<circle cx="357.2" cy="322.4" r="1.20" fill="#ffffff" stroke="#e8765e" stroke-width="0.8"/>
<circle cx="318.4" cy="335.6" r="2.70" fill="#111111" stroke="#1eb0e8" stroke-width="1.3"/>
<circle cx="318.4" cy="342.2" r="3.20" fill="#151515"/>
<circle cx="318.4" cy="348.9" r="0.60" fill="#bbbbbb"/>
<circle cx="357.2" cy="395.2" r="2.10" fill="#a8a8a8" stroke="#a7c9ea" stroke-width="0.9"/>
<circle cx="279.3" cy="408.5" r="1.70" fill="#b0b0b0"/>
<circle cx="357.2" cy="408.5" r="2.20" fill="#a0a0a0"/>
<circle cx="376.5" cy="421.7" r="3.50" fill="#1a1a1a" stroke="#d7c091" stroke-width="1.2"/>
<circle cx="279.3" cy="428.4" r="1.20" fill="#ffffff" stroke="#1ea5a1" stroke-width="0.8"/>
<circle cx="298.5" cy="435.0" r="0.90" fill="#b0b0b0"/>
<circle cx="279.3" cy="435.0" r="0.50" fill="#cccccc"/>
<circle cx="376.5" cy="435.0" r="0.60" fill="#cccccc"/>
<circle cx="376.5" cy="448.2" r="3.40" fill="#555555" stroke="#d0325f" stroke-width="1.2"/>
<circle cx="279.3" cy="295.9" r="0.50" fill="#d0d0d0"/>
<circle cx="318.4" cy="415.1" r="0.50" fill="#d0d0d0"/>
<circle cx="357.2" cy="415.1" r="0.50" fill="#d0d0d0"/>
<circle cx="298.5" cy="448.2" r="0.50" fill="#d0d0d0"/>
<circle cx="279.3" cy="448.2" r="0.50" fill="#d0d0d0"/>
<circle cx="337.6" cy="335.6" r="0.50" fill="#d0d0d0"/>
<circle cx="376.5" cy="295.9" r="0.50" fill="#d0d0d0"/>
<rect x="499.4" y="278.3" width="126.10000000000002" height="174.0" fill="none" stroke="#9a9a9a" stroke-width="0.9"/>
<line x1="496.8" y1="282.2" x2="499.4" y2="282.2" stroke="#9a9a9a" stroke-width="0.6" />
<text x="493.7" y="284.6" font-size="6.8" text-anchor="end" fill="#2b2b2b" >GPR35</text>
<line x1="496.8" y1="288.4" x2="499.4" y2="288.4" stroke="#9a9a9a" stroke-width="0.6" />
<text x="493.7" y="290.8" font-size="6.8" text-anchor="end" fill="#2b2b2b" >PITPNM3</text>
<line x1="496.8" y1="294.5" x2="499.4" y2="294.5" stroke="#9a9a9a" stroke-width="0.6" />
<text x="493.7" y="296.9" font-size="6.8" text-anchor="end" fill="#f2a33a" >CXCR4</text>
<line x1="496.8" y1="300.7" x2="499.4" y2="300.7" stroke="#9a9a9a" stroke-width="0.6" />
<text x="493.7" y="303.1" font-size="6.8" text-anchor="end" fill="#2b2b2b" >ADGRV1</text>
<line x1="496.8" y1="306.8" x2="499.4" y2="306.8" stroke="#9a9a9a" stroke-width="0.6" />
<text x="493.7" y="309.2" font-size="6.8" text-anchor="end" fill="#2b2b2b" >ACKR3</text>
<line x1="496.8" y1="313.0" x2="499.4" y2="313.0" stroke="#9a9a9a" stroke-width="0.6" />
<text x="493.7" y="315.4" font-size="6.8" text-anchor="end" fill="#2b2b2b" >CXCR5</text>
<line x1="496.8" y1="319.2" x2="499.4" y2="319.2" stroke="#9a9a9a" stroke-width="0.6" />
<text x="493.7" y="321.6" font-size="6.8" text-anchor="end" fill="#2b2b2b" >CCR9</text>
<line x1="496.8" y1="325.3" x2="499.4" y2="325.3" stroke="#9a9a9a" stroke-width="0.6" />
<text x="493.7" y="327.7" font-size="6.8" text-anchor="end" fill="#2b2b2b" >CCR7</text>
<line x1="496.8" y1="331.5" x2="499.4" y2="331.5" stroke="#9a9a9a" stroke-width="0.6" />
<text x="493.7" y="333.9" font-size="6.8" text-anchor="end" fill="#2b2b2b" >CXCR2</text>
<line x1="496.8" y1="337.6" x2="499.4" y2="337.6" stroke="#9a9a9a" stroke-width="0.6" />
<text x="493.7" y="340.0" font-size="6.8" text-anchor="end" fill="#2b2b2b" >CXCR1</text>
<line x1="496.8" y1="343.8" x2="499.4" y2="343.8" stroke="#9a9a9a" stroke-width="0.6" />
<text x="493.7" y="346.2" font-size="6.8" text-anchor="end" fill="#4e7fba" >CXCR3</text>
<line x1="496.8" y1="350.0" x2="499.4" y2="350.0" stroke="#9a9a9a" stroke-width="0.6" />
<text x="493.7" y="352.4" font-size="6.8" text-anchor="end" fill="#e8765e" >DPP4</text>
<line x1="496.8" y1="356.1" x2="499.4" y2="356.1" stroke="#9a9a9a" stroke-width="0.6" />
<text x="493.7" y="358.5" font-size="6.8" text-anchor="end" fill="#2b2b2b" >CCR4</text>
<line x1="496.8" y1="362.3" x2="499.4" y2="362.3" stroke="#9a9a9a" stroke-width="0.6" />
<text x="493.7" y="364.7" font-size="6.8" text-anchor="end" fill="#2b2b2b" >ACKR4</text>
<line x1="496.8" y1="368.4" x2="499.4" y2="368.4" stroke="#9a9a9a" stroke-width="0.6" />
<text x="493.7" y="370.8" font-size="6.8" text-anchor="end" fill="#2b2b2b" >CCR10</text>
<line x1="496.8" y1="374.6" x2="499.4" y2="374.6" stroke="#9a9a9a" stroke-width="0.6" />
<text x="493.7" y="377.0" font-size="6.8" text-anchor="end" fill="#a7c9ea" >ACKR1</text>
<line x1="496.8" y1="380.8" x2="499.4" y2="380.8" stroke="#9a9a9a" stroke-width="0.6" />
<text x="493.7" y="383.2" font-size="6.8" text-anchor="end" fill="#2b2b2b" >HRH4</text>
<line x1="496.8" y1="386.9" x2="499.4" y2="386.9" stroke="#9a9a9a" stroke-width="0.6" />
<text x="493.7" y="389.3" font-size="6.8" text-anchor="end" fill="#1eb0e8" >CCR1</text>
<line x1="496.8" y1="393.1" x2="499.4" y2="393.1" stroke="#9a9a9a" stroke-width="0.6" />
<text x="493.7" y="395.5" font-size="6.8" text-anchor="end" fill="#2b2b2b" >CCR3</text>
<line x1="496.8" y1="399.2" x2="499.4" y2="399.2" stroke="#9a9a9a" stroke-width="0.6" />
<text x="493.7" y="401.6" font-size="6.8" text-anchor="end" fill="#2b2b2b" >CCR2</text>
<line x1="496.8" y1="405.4" x2="499.4" y2="405.4" stroke="#9a9a9a" stroke-width="0.6" />
<text x="493.7" y="407.8" font-size="6.8" text-anchor="end" fill="#2b2b2b" >GPR151</text>
<line x1="496.8" y1="411.6" x2="499.4" y2="411.6" stroke="#9a9a9a" stroke-width="0.6" />
<text x="493.7" y="414.0" font-size="6.8" text-anchor="end" fill="#2b2b2b" >IDE</text>
<line x1="496.8" y1="417.7" x2="499.4" y2="417.7" stroke="#9a9a9a" stroke-width="0.6" />
<text x="493.7" y="420.1" font-size="6.8" text-anchor="end" fill="#2b2b2b" >GPRC5D</text>
<line x1="496.8" y1="423.9" x2="499.4" y2="423.9" stroke="#9a9a9a" stroke-width="0.6" />
<text x="493.7" y="426.3" font-size="6.8" text-anchor="end" fill="#2b2b2b" >CNR2</text>
<line x1="496.8" y1="430.0" x2="499.4" y2="430.0" stroke="#9a9a9a" stroke-width="0.6" />
<text x="493.7" y="432.4" font-size="6.8" text-anchor="end" fill="#d0325f" >SLC7A1</text>
<line x1="496.8" y1="436.2" x2="499.4" y2="436.2" stroke="#9a9a9a" stroke-width="0.6" />
<text x="493.7" y="438.6" font-size="6.8" text-anchor="end" fill="#1ea5a1" >CCR5</text>
<line x1="496.8" y1="442.4" x2="499.4" y2="442.4" stroke="#9a9a9a" stroke-width="0.6" />
<text x="493.7" y="444.8" font-size="6.8" text-anchor="end" fill="#2b2b2b" >GPR152</text>
<line x1="496.8" y1="448.5" x2="499.4" y2="448.5" stroke="#9a9a9a" stroke-width="0.6" />
<text x="493.7" y="450.9" font-size="6.8" text-anchor="end" fill="#2b2b2b" >CCR8</text>
<line x1="518.5" y1="275.7" x2="518.5" y2="278.3" stroke="#9a9a9a" stroke-width="0.6" />
<line x1="537.5" y1="275.7" x2="537.5" y2="278.3" stroke="#9a9a9a" stroke-width="0.6" />
<line x1="556.5" y1="275.7" x2="556.5" y2="278.3" stroke="#9a9a9a" stroke-width="0.6" />
<line x1="575.8" y1="275.7" x2="575.8" y2="278.3" stroke="#9a9a9a" stroke-width="0.6" />
<line x1="595.1" y1="275.7" x2="595.1" y2="278.3" stroke="#9a9a9a" stroke-width="0.6" />
<line x1="614.4" y1="275.7" x2="614.4" y2="278.3" stroke="#9a9a9a" stroke-width="0.6" />
<text x="0" y="0" font-size="8.05" fill="#2b2b2b" transform="translate(513.9,274.3) rotate(-45)">M01_DC–CD1C</text>
<text x="0" y="0" font-size="8.05" fill="#2b2b2b" transform="translate(532.9,274.3) rotate(-45)">M02_DC–CLEC9A</text>
<text x="0" y="0" font-size="8.05" fill="#2b2b2b" transform="translate(551.9,274.3) rotate(-45)">M03_DC–LAMP3</text>
<text x="0" y="0" font-size="8.05" fill="#2b2b2b" transform="translate(571.2,274.3) rotate(-45)">M04_DC–LGALS2</text>
<text x="0" y="0" font-size="8.05" fill="#2b2b2b" transform="translate(590.5,274.3) rotate(-45)">S11_MC–DES</text>
<text x="0" y="0" font-size="8.05" fill="#2b2b2b" transform="translate(609.8,274.3) rotate(-45)">T11_CD8–SLC4A10</text>
<line x1="518.5" y1="278.3" x2="518.5" y2="294.5" stroke="#f2a33a" stroke-width="1.2" stroke-dasharray="3 1.5"/>
<line x1="537.5" y1="278.3" x2="537.5" y2="294.5" stroke="#f2a33a" stroke-width="1.2" stroke-dasharray="3 1.5"/>
<line x1="556.5" y1="278.3" x2="556.5" y2="294.5" stroke="#f2a33a" stroke-width="1.2" stroke-dasharray="3 1.5"/>
<line x1="614.4" y1="278.3" x2="614.4" y2="294.5" stroke="#f2a33a" stroke-width="1.2" stroke-dasharray="3 1.5"/>
<line x1="499.4" y1="294.5" x2="625.5" y2="294.5" stroke="#f2a33a" stroke-width="1.32"/>
<line x1="518.5" y1="294.5" x2="518.5" y2="343.8" stroke="#4e7fba" stroke-width="1.2" stroke-dasharray="22 1.6"/>
<line x1="537.5" y1="294.5" x2="537.5" y2="343.8" stroke="#4e7fba" stroke-width="1.2" stroke-dasharray="22 1.6"/>
<line x1="614.4" y1="294.5" x2="614.4" y2="343.8" stroke="#4e7fba" stroke-width="1.2" stroke-dasharray="22 1.6"/>
<line x1="556.5" y1="294.5" x2="556.5" y2="374.6" stroke="#a7c9ea" stroke-width="1.2" stroke-dasharray="22 1.6"/>
<line x1="575.8" y1="278.3" x2="575.8" y2="386.9" stroke="#1eb0e8" stroke-width="1.32" stroke-dasharray="24 1.4"/>
<line x1="595.1" y1="278.3" x2="595.1" y2="350.0" stroke="#eba08f" stroke-width="1.32" stroke-dasharray="20 1.4"/>
<line x1="595.1" y1="350.0" x2="595.1" y2="430.0" stroke="#d0325f" stroke-width="1.2" stroke-dasharray="4 1.5"/>
<line x1="518.5" y1="343.8" x2="518.5" y2="386.9" stroke="#1eb0e8" stroke-width="1.2" stroke-dasharray="18 1.6"/>
<line x1="614.4" y1="350.0" x2="614.4" y2="386.9" stroke="#1eb0e8" stroke-width="1.2" stroke-dasharray="18 1.6"/>
<line x1="556.5" y1="374.6" x2="556.5" y2="430.0" stroke="#d0325f" stroke-width="1.2"/>
<line x1="518.5" y1="386.9" x2="518.5" y2="436.2" stroke="#1ea5a1" stroke-width="1.2" stroke-dasharray="3 1.5"/>
<line x1="614.4" y1="386.9" x2="614.4" y2="436.2" stroke="#1ea5a1" stroke-width="1.2" stroke-dasharray="3 1.5"/>
<line x1="499.4" y1="343.8" x2="625.5" y2="343.8" stroke="#4e7fba" stroke-width="1.32"/>
<line x1="499.4" y1="350.0" x2="625.5" y2="350.0" stroke="#e8765e" stroke-width="1.32"/>
<line x1="499.4" y1="374.6" x2="556.5" y2="374.6" stroke="#a7c9ea" stroke-width="1.32"/>
<line x1="499.4" y1="386.9" x2="625.5" y2="386.9" stroke="#1eb0e8" stroke-width="1.32" stroke-dasharray="14 1.5"/>
<line x1="499.4" y1="430.0" x2="595.1" y2="430.0" stroke="#d0325f" stroke-width="1.32" stroke-dasharray="14 1.5"/>
<line x1="499.4" y1="436.2" x2="625.5" y2="436.2" stroke="#1ea5a1" stroke-width="1.32" stroke-dasharray="16 1.5"/>
<circle cx="518.5" cy="282.2" r="0.90" fill="#b8b8b8"/>
<circle cx="518.5" cy="294.5" r="1.90" fill="#a8a8a8" stroke="#f2a33a" stroke-width="0.9"/>
<circle cx="537.5" cy="294.5" r="1.20" fill="#ffffff" stroke="#f2a33a" stroke-width="0.8"/>
<circle cx="556.5" cy="294.5" r="3.20" fill="#8a8a8a" stroke="#f2a33a" stroke-width="1.1"/>
<circle cx="614.4" cy="294.5" r="3.50" fill="#151515" stroke="#f2a33a" stroke-width="1.2"/>
<ellipse cx="556.5" cy="325.32" rx="3.9" ry="3.4" fill="#151515"/>
<circle cx="614.4" cy="325.3" r="0.60" fill="#bbbbbb"/>
<circle cx="518.5" cy="343.8" r="1.20" fill="#ffffff" stroke="#4e7fba" stroke-width="0.8"/>
<circle cx="537.5" cy="343.8" r="3.80" fill="#858585" stroke="#4e7fba" stroke-width="1.1"/>
<circle cx="614.4" cy="343.8" r="2.40" fill="#8a8a8a" stroke="#4e7fba" stroke-width="0.9"/>
<circle cx="537.5" cy="350.0" r="2.80" fill="#b0b0b0" stroke="#e8765e" stroke-width="0.9"/>
<circle cx="595.1" cy="350.0" r="4.80" fill="#5a5a5a" stroke="#e8765e" stroke-width="1.1"/>
<circle cx="614.4" cy="350.0" r="2.40" fill="#8c8c8c" stroke="#e8765e" stroke-width="0.9"/>
<circle cx="556.5" cy="374.6" r="1.30" fill="#c8c8c8" stroke="#a7c9ea" stroke-width="0.8"/>
<circle cx="518.5" cy="386.9" r="3.80" fill="#666666" stroke="#1eb0e8" stroke-width="1.0"/>
<circle cx="575.8" cy="386.9" r="1.30" fill="#9a9a9a" stroke="#1eb0e8" stroke-width="0.8"/>
<circle cx="614.4" cy="386.9" r="1.30" fill="#ffffff" stroke="#1eb0e8" stroke-width="0.8"/>
<circle cx="518.5" cy="399.2" r="2.00" fill="#ababab"/>
<circle cx="614.4" cy="399.2" r="0.90" fill="#aaaaaa"/>
<circle cx="518.5" cy="411.6" r="0.50" fill="#c8c8c8"/>
<circle cx="537.5" cy="411.6" r="0.80" fill="#bbbbbb"/>
<circle cx="595.1" cy="411.6" r="1.80" fill="#c4c4c4"/>
<circle cx="556.5" cy="430.0" r="1.30" fill="#ffffff" stroke="#d0325f" stroke-width="0.8"/>
<circle cx="595.1" cy="430.0" r="2.30" fill="#b0b0b0" stroke="#d0325f" stroke-width="1.0"/>
<circle cx="518.5" cy="436.2" r="2.70" fill="#aaaaaa" stroke="#1ea5a1" stroke-width="1.0"/>
<circle cx="614.4" cy="436.2" r="1.30" fill="#ffffff" stroke="#1ea5a1" stroke-width="0.8"/>
<circle cx="575.8" cy="399.2" r="0.40" fill="#dddddd"/>
<line x1="420.5" y1="309.0" x2="468.5" y2="294.2" stroke="#1a1a1a" stroke-width="0.9" />
<line x1="420.5" y1="309.0" x2="468.5" y2="343.6" stroke="#1a1a1a" stroke-width="0.9" />
<line x1="420.5" y1="315.6" x2="468.5" y2="349.8" stroke="#1a1a1a" stroke-width="0.9" />
<line x1="420.5" y1="322.3" x2="468.5" y2="343.6" stroke="#1a1a1a" stroke-width="0.9" />
<line x1="420.5" y1="322.3" x2="468.5" y2="349.8" stroke="#1a1a1a" stroke-width="0.9" />
<line x1="420.5" y1="335.5" x2="468.5" y2="349.8" stroke="#1a1a1a" stroke-width="0.9" />
<line x1="420.5" y1="395.2" x2="468.5" y2="374.8" stroke="#1a1a1a" stroke-width="0.9" />
<line x1="420.5" y1="421.8" x2="468.5" y2="374.8" stroke="#1a1a1a" stroke-width="0.9" />
<line x1="420.5" y1="421.8" x2="468.5" y2="387.0" stroke="#1a1a1a" stroke-width="0.9" />
<line x1="420.5" y1="428.4" x2="468.5" y2="387.0" stroke="#1a1a1a" stroke-width="0.9" />
<line x1="420.5" y1="421.8" x2="468.5" y2="436.6" stroke="#1a1a1a" stroke-width="0.9" />
<line x1="420.5" y1="428.4" x2="468.5" y2="436.6" stroke="#1a1a1a" stroke-width="0.9" />
<line x1="420.5" y1="448.3" x2="468.5" y2="436.6" stroke="#1a1a1a" stroke-width="0.9" />
<line x1="420.5" y1="448.3" x2="468.5" y2="430.4" stroke="#1a1a1a" stroke-width="0.9" />
<text x="258.6" y="466.2" font-size="8.8" text-anchor="start" fill="#2b2b2b" >Ligand</text>
<text x="258.6" y="475.4" font-size="8.8" text-anchor="start" fill="#2b2b2b" >expression</text>
<defs><linearGradient id="lig" x1="0" y1="0" x2="1" y2="0"><stop offset="0" stop-color="#cfd1d3"/><stop offset="0.35" stop-color="#6e7375"/><stop offset="0.6" stop-color="#1c2b2b"/><stop offset="1" stop-color="#2e1416"/></linearGradient><linearGradient id="rec" x1="0" y1="1" x2="0" y2="0"><stop offset="0" stop-color="#c6ced6"/><stop offset="0.3" stop-color="#6f7a80"/><stop offset="0.55" stop-color="#1a2a2a"/><stop offset="1" stop-color="#2e1416"/></linearGradient></defs>
<rect x="308.90" y="459.80" width="47.80" height="9.20" fill="url(#lig)" />
<line x1="310.4" y1="459.8" x2="310.4" y2="461.3" stroke="#fff" stroke-width="0.5" />
<line x1="310.4" y1="467.5" x2="310.4" y2="469.0" stroke="#fff" stroke-width="0.5" />
<text x="310.4" y="476.3" font-size="6.6" text-anchor="middle" fill="#333" >0</text>
<line x1="325.1" y1="459.8" x2="325.1" y2="461.3" stroke="#fff" stroke-width="0.5" />
<line x1="325.1" y1="467.5" x2="325.1" y2="469.0" stroke="#fff" stroke-width="0.5" />
<text x="325.1" y="476.3" font-size="6.6" text-anchor="middle" fill="#333" >1</text>
<line x1="339.8" y1="459.8" x2="339.8" y2="461.3" stroke="#fff" stroke-width="0.5" />
<line x1="339.8" y1="467.5" x2="339.8" y2="469.0" stroke="#fff" stroke-width="0.5" />
<text x="339.8" y="476.3" font-size="6.6" text-anchor="middle" fill="#333" >2</text>
<line x1="354.8" y1="459.8" x2="354.8" y2="461.3" stroke="#fff" stroke-width="0.5" />
<line x1="354.8" y1="467.5" x2="354.8" y2="469.0" stroke="#fff" stroke-width="0.5" />
<text x="354.8" y="476.3" font-size="6.6" text-anchor="middle" fill="#333" >3</text>
<text x="372.6" y="466.5" font-size="8.8" text-anchor="start" fill="#2b2b2b" >Percent of</text>
<text x="372.6" y="475.5" font-size="8.8" text-anchor="start" fill="#2b2b2b" >expression</text>
<circle cx="424.1" cy="462.9" r="1.80" fill="#151515"/>
<text x="424.1" y="474.6" font-size="6.6" text-anchor="middle" fill="#333" >25</text>
<circle cx="435.2" cy="462.9" r="2.70" fill="#151515"/>
<text x="435.2" y="474.6" font-size="6.6" text-anchor="middle" fill="#333" >50</text>
<circle cx="447.7" cy="462.9" r="3.70" fill="#151515"/>
<text x="447.7" y="474.6" font-size="6.6" text-anchor="middle" fill="#333" >75</text>
<text x="631.9" y="281.6" font-size="8.6" text-anchor="start" fill="#2b2b2b" >Receptor</text>
<text x="631.9" y="291.5" font-size="8.6" text-anchor="start" fill="#2b2b2b" >expression</text>
<rect x="631.50" y="294.50" width="9.10" height="47.20" fill="url(#rec)" />
<line x1="631.5" y1="301.2" x2="633.0" y2="301.2" stroke="#fff" stroke-width="0.5" />
<line x1="639.1" y1="301.2" x2="640.6" y2="301.2" stroke="#fff" stroke-width="0.5" />
<text x="644.5" y="303.6" font-size="6.6" text-anchor="start" fill="#333" >2</text>
<line x1="631.5" y1="321.6" x2="633.0" y2="321.6" stroke="#fff" stroke-width="0.5" />
<line x1="639.1" y1="321.6" x2="640.6" y2="321.6" stroke="#fff" stroke-width="0.5" />
<text x="644.5" y="324.0" font-size="6.6" text-anchor="start" fill="#333" >1</text>
<line x1="631.5" y1="338.5" x2="633.0" y2="338.5" stroke="#fff" stroke-width="0.5" />
<line x1="639.1" y1="338.5" x2="640.6" y2="338.5" stroke="#fff" stroke-width="0.5" />
<text x="644.5" y="340.9" font-size="6.6" text-anchor="start" fill="#333" >0</text>
<text x="631.9" y="361.9" font-size="8.6" text-anchor="start" fill="#2b2b2b" >Percent of</text>
<text x="631.9" y="372.0" font-size="8.6" text-anchor="start" fill="#2b2b2b" >expression</text>
<circle cx="636.3" cy="378.0" r="1.80" fill="#151515"/>
<text x="643.9" y="380.4" font-size="6.6" text-anchor="start" fill="#333" >25</text>
<circle cx="636.3" cy="387.0" r="2.70" fill="#151515"/>
<text x="643.9" y="389.4" font-size="6.6" text-anchor="start" fill="#333" >50</text>
<circle cx="636.3" cy="396.6" r="3.70" fill="#151515"/>
<text x="643.9" y="399.0" font-size="6.6" text-anchor="start" fill="#333" >75</text>
<text x="247.5" y="516.2" font-size="13" text-anchor="start" fill="#111" font-weight="bold" stroke="#111" stroke-width="0.5">g</text>
<rect x="270.6" y="524" width="181.2" height="170.70000000000005" fill="none" stroke="#9a9a9a" stroke-width="0.9"/>
<line x1="278.2" y1="694.7" x2="278.2" y2="697.5" stroke="#9a9a9a" stroke-width="0.7" />
<text x="278.2" y="706.0" font-size="7.1" text-anchor="middle" fill="#333" >0</text>
<line x1="267.8" y1="686.3" x2="270.6" y2="686.3" stroke="#9a9a9a" stroke-width="0.7" />
<text x="261.6" y="688.8" font-size="7.1" text-anchor="middle" fill="#333" >0</text>
<line x1="310.8" y1="694.7" x2="310.8" y2="697.5" stroke="#9a9a9a" stroke-width="0.7" />
<text x="310.8" y="706.0" font-size="7.1" text-anchor="middle" fill="#333" >1</text>
<line x1="267.8" y1="656.5" x2="270.6" y2="656.5" stroke="#9a9a9a" stroke-width="0.7" />
<text x="261.6" y="659.0" font-size="7.1" text-anchor="middle" fill="#333" >1</text>
<line x1="343.3" y1="694.7" x2="343.3" y2="697.5" stroke="#9a9a9a" stroke-width="0.7" />
<text x="343.3" y="706.0" font-size="7.1" text-anchor="middle" fill="#333" >2</text>
<line x1="267.8" y1="626.7" x2="270.6" y2="626.7" stroke="#9a9a9a" stroke-width="0.7" />
<text x="261.6" y="629.2" font-size="7.1" text-anchor="middle" fill="#333" >2</text>
<line x1="375.8" y1="694.7" x2="375.8" y2="697.5" stroke="#9a9a9a" stroke-width="0.7" />
<text x="375.8" y="706.0" font-size="7.1" text-anchor="middle" fill="#333" >3</text>
<line x1="267.8" y1="596.8" x2="270.6" y2="596.8" stroke="#9a9a9a" stroke-width="0.7" />
<text x="261.6" y="599.3" font-size="7.1" text-anchor="middle" fill="#333" >3</text>
<line x1="408.4" y1="694.7" x2="408.4" y2="697.5" stroke="#9a9a9a" stroke-width="0.7" />
<text x="408.4" y="706.0" font-size="7.1" text-anchor="middle" fill="#333" >4</text>
<line x1="267.8" y1="567.0" x2="270.6" y2="567.0" stroke="#9a9a9a" stroke-width="0.7" />
<text x="261.6" y="569.5" font-size="7.1" text-anchor="middle" fill="#333" >4</text>
<line x1="440.9" y1="694.7" x2="440.9" y2="697.5" stroke="#9a9a9a" stroke-width="0.7" />
<text x="440.9" y="706.0" font-size="7.1" text-anchor="middle" fill="#333" >5</text>
<line x1="267.8" y1="537.2" x2="270.6" y2="537.2" stroke="#9a9a9a" stroke-width="0.7" />
<text x="261.6" y="539.7" font-size="7.1" text-anchor="middle" fill="#333" >5</text>
<text x="360.7" y="718.8" font-size="8.85" text-anchor="middle" fill="#2b2b2b" >Mean expression of resistant</text>
<text x="0" y="0" font-size="8.9" text-anchor="middle" fill="#2b2b2b" transform="translate(252.4,609) rotate(-90)">Mean expression of sensitive</text>
<text x="268.6" y="731.0" font-size="7.6" text-anchor="start" fill="#2b2b2b" >Significant</text>
<circle cx="314.6" cy="728.5" r="3.10" fill="#e31a2b"/>
<text x="320.2" y="731" font-size="7.6" fill="#2b2b2b"><tspan font-style="italic">P</tspan> value &lt; 0.05 and logFC &gt; 0.2</text>
<circle cx="440.8" cy="728.5" r="3.10" fill="#bdbdbd"/>
<text x="447.7" y="731.0" font-size="7.6" text-anchor="start" fill="#2b2b2b" >Not significant</text>
<polygon points="282.7,687.4 287.2,682.5 300.1,670.5 308.4,663.2 312.0,660.6 312.7,661.3 309.9,664.7 301.9,672.3 288.7,684.1 283.5,688.2" fill="#e8281f"/>
<polygon points="277.8,680.9 279.7,679.1 281.6,677.4 283.5,675.6 285.4,673.9 287.3,672.2 289.2,670.4 291.1,668.7 293.0,666.9 294.9,665.2 296.8,663.4 298.7,661.7 300.6,659.9 301.4,660.8 299.5,662.5 297.6,664.2 295.7,666.0 293.8,667.7 291.9,669.4 290.0,671.2 288.1,672.9 286.2,674.6 284.3,676.4 282.4,678.1 280.5,679.8 278.6,681.6" fill="#ee5a50"/>
<polygon points="276.5,685.8 278.7,681.8 286.8,673.1 297.9,662.3 306.3,655.2 311.3,652.0 316.1,649.4 320.2,647.2 320.9,647.9 318.4,651.6 315.5,656.2 311.9,660.8 304.1,668.5 292.4,678.7 282.9,686.0 278.6,687.9" fill="#b1b1b1"/>
<circle cx="294.9" cy="669.6" r="0.75" fill="#b3b3b3"/>
<circle cx="332.1" cy="642.0" r="0.75" fill="#b3b3b3"/>
<circle cx="301.1" cy="663.1" r="0.75" fill="#b3b3b3"/>
<circle cx="288.8" cy="675.5" r="0.75" fill="#b3b3b3"/>
<circle cx="331.1" cy="640.6" r="0.75" fill="#b3b3b3"/>
<circle cx="281.3" cy="685.2" r="0.75" fill="#b3b3b3"/>
<circle cx="288.8" cy="675.2" r="0.75" fill="#b3b3b3"/>
<circle cx="291.4" cy="670.4" r="0.75" fill="#b3b3b3"/>
<circle cx="277.8" cy="685.5" r="0.75" fill="#b3b3b3"/>
<circle cx="319.4" cy="642.7" r="0.75" fill="#b3b3b3"/>
<circle cx="302.0" cy="660.5" r="0.75" fill="#b3b3b3"/>
<circle cx="279.0" cy="682.2" r="0.75" fill="#b3b3b3"/>
<circle cx="294.5" cy="669.7" r="0.75" fill="#b3b3b3"/>
<circle cx="313.6" cy="651.5" r="0.75" fill="#b3b3b3"/>
<circle cx="281.3" cy="681.4" r="0.75" fill="#b3b3b3"/>
<circle cx="307.8" cy="645.9" r="0.75" fill="#b3b3b3"/>
<circle cx="282.6" cy="679.1" r="0.75" fill="#b3b3b3"/>
<circle cx="297.9" cy="667.2" r="0.75" fill="#b3b3b3"/>
<circle cx="280.5" cy="680.9" r="0.75" fill="#b3b3b3"/>
<circle cx="338.7" cy="630.3" r="0.75" fill="#b3b3b3"/>
<circle cx="317.7" cy="648.9" r="0.75" fill="#b3b3b3"/>
<circle cx="280.1" cy="682.1" r="0.75" fill="#b3b3b3"/>
<circle cx="279.8" cy="682.6" r="0.75" fill="#b3b3b3"/>
<circle cx="293.6" cy="670.1" r="0.75" fill="#b3b3b3"/>
<circle cx="278.1" cy="686.1" r="0.75" fill="#b3b3b3"/>
<circle cx="285.0" cy="680.3" r="0.75" fill="#b3b3b3"/>
<circle cx="309.5" cy="659.0" r="0.75" fill="#b3b3b3"/>
<circle cx="289.1" cy="674.8" r="0.75" fill="#b3b3b3"/>
<circle cx="296.2" cy="662.8" r="0.75" fill="#b3b3b3"/>
<circle cx="277.3" cy="684.8" r="0.75" fill="#b3b3b3"/>
<circle cx="301.9" cy="662.6" r="0.75" fill="#b3b3b3"/>
<circle cx="305.1" cy="660.1" r="0.75" fill="#b3b3b3"/>
<circle cx="285.8" cy="678.3" r="0.75" fill="#b3b3b3"/>
<circle cx="278.6" cy="685.1" r="0.75" fill="#b3b3b3"/>
<circle cx="280.7" cy="682.0" r="0.75" fill="#b3b3b3"/>
<circle cx="302.7" cy="662.5" r="0.75" fill="#b3b3b3"/>
<circle cx="322.3" cy="639.6" r="0.75" fill="#b3b3b3"/>
<circle cx="285.7" cy="678.8" r="0.75" fill="#b3b3b3"/>
<circle cx="290.7" cy="673.3" r="0.75" fill="#b3b3b3"/>
<circle cx="302.5" cy="663.3" r="0.75" fill="#b3b3b3"/>
<circle cx="305.5" cy="659.0" r="0.75" fill="#b3b3b3"/>
<circle cx="329.4" cy="637.6" r="0.75" fill="#b3b3b3"/>
<circle cx="280.0" cy="684.8" r="0.75" fill="#b3b3b3"/>
<circle cx="319.0" cy="641.6" r="0.75" fill="#b3b3b3"/>
<circle cx="284.0" cy="678.0" r="0.75" fill="#b3b3b3"/>
<circle cx="284.8" cy="680.1" r="0.75" fill="#b3b3b3"/>
<circle cx="284.2" cy="679.3" r="0.75" fill="#b3b3b3"/>
<circle cx="280.2" cy="682.9" r="0.75" fill="#b3b3b3"/>
<circle cx="297.5" cy="665.7" r="0.75" fill="#b3b3b3"/>
<circle cx="278.6" cy="685.0" r="0.75" fill="#b3b3b3"/>
<circle cx="355.5" cy="615.4" r="0.75" fill="#b3b3b3"/>
<circle cx="282.7" cy="681.5" r="0.75" fill="#b3b3b3"/>
<circle cx="293.0" cy="670.3" r="0.75" fill="#b3b3b3"/>
<circle cx="288.3" cy="677.6" r="0.75" fill="#b3b3b3"/>
<circle cx="278.5" cy="684.7" r="0.75" fill="#b3b3b3"/>
<circle cx="289.8" cy="674.6" r="0.75" fill="#b3b3b3"/>
<circle cx="307.4" cy="653.2" r="0.75" fill="#b3b3b3"/>
<circle cx="327.3" cy="633.2" r="0.75" fill="#b3b3b3"/>
<circle cx="295.1" cy="669.1" r="0.75" fill="#b3b3b3"/>
<circle cx="288.2" cy="676.7" r="0.75" fill="#b3b3b3"/>
<circle cx="280.1" cy="682.8" r="0.75" fill="#b3b3b3"/>
<circle cx="289.0" cy="676.4" r="0.75" fill="#b3b3b3"/>
<circle cx="400.6" cy="560.2" r="0.75" fill="#b3b3b3"/>
<circle cx="290.4" cy="677.7" r="0.75" fill="#b3b3b3"/>
<circle cx="289.6" cy="674.8" r="0.75" fill="#b3b3b3"/>
<circle cx="284.8" cy="681.0" r="0.75" fill="#b3b3b3"/>
<circle cx="286.2" cy="676.7" r="0.75" fill="#b3b3b3"/>
<circle cx="354.3" cy="609.9" r="0.75" fill="#b3b3b3"/>
<circle cx="336.2" cy="634.0" r="0.75" fill="#b3b3b3"/>
<circle cx="285.7" cy="679.7" r="0.75" fill="#b3b3b3"/>
<circle cx="279.6" cy="684.5" r="0.75" fill="#b3b3b3"/>
<circle cx="309.4" cy="648.6" r="0.75" fill="#b3b3b3"/>
<circle cx="285.2" cy="678.0" r="0.75" fill="#b3b3b3"/>
<circle cx="300.4" cy="667.8" r="0.75" fill="#b3b3b3"/>
<circle cx="296.8" cy="667.5" r="0.75" fill="#b3b3b3"/>
<circle cx="300.2" cy="666.5" r="0.75" fill="#b3b3b3"/>
<circle cx="285.0" cy="681.7" r="0.75" fill="#b3b3b3"/>
<circle cx="298.1" cy="666.1" r="0.75" fill="#b3b3b3"/>
<circle cx="282.6" cy="678.9" r="0.75" fill="#b3b3b3"/>
<circle cx="293.5" cy="671.8" r="0.75" fill="#b3b3b3"/>
<circle cx="278.5" cy="686.2" r="0.75" fill="#b3b3b3"/>
<circle cx="297.5" cy="667.4" r="0.75" fill="#b3b3b3"/>
<circle cx="288.0" cy="674.9" r="0.75" fill="#b3b3b3"/>
<circle cx="307.4" cy="660.6" r="0.75" fill="#b3b3b3"/>
<circle cx="286.2" cy="679.6" r="0.75" fill="#b3b3b3"/>
<circle cx="311.3" cy="658.9" r="0.75" fill="#b3b3b3"/>
<circle cx="284.2" cy="677.7" r="0.75" fill="#b3b3b3"/>
<circle cx="300.1" cy="668.1" r="0.75" fill="#b3b3b3"/>
<circle cx="340.2" cy="620.6" r="0.75" fill="#b3b3b3"/>
<circle cx="291.3" cy="673.5" r="0.75" fill="#b3b3b3"/>
<circle cx="279.8" cy="681.8" r="0.75" fill="#b3b3b3"/>
<circle cx="291.1" cy="676.8" r="0.75" fill="#b3b3b3"/>
<circle cx="298.7" cy="666.5" r="0.75" fill="#b3b3b3"/>
<circle cx="282.4" cy="684.0" r="0.75" fill="#b3b3b3"/>
<circle cx="305.9" cy="661.9" r="0.75" fill="#b3b3b3"/>
<circle cx="288.0" cy="677.4" r="0.75" fill="#b3b3b3"/>
<circle cx="294.6" cy="669.3" r="0.75" fill="#b3b3b3"/>
<circle cx="301.7" cy="666.0" r="0.75" fill="#b3b3b3"/>
<circle cx="277.7" cy="684.9" r="0.75" fill="#b3b3b3"/>
<circle cx="295.1" cy="667.4" r="0.75" fill="#b3b3b3"/>
<circle cx="282.5" cy="682.2" r="0.75" fill="#b3b3b3"/>
<circle cx="279.5" cy="686.1" r="0.75" fill="#b3b3b3"/>
<circle cx="288.9" cy="675.1" r="0.75" fill="#b3b3b3"/>
<circle cx="279.9" cy="683.2" r="0.75" fill="#b3b3b3"/>
<circle cx="284.2" cy="679.2" r="0.75" fill="#b3b3b3"/>
<circle cx="277.9" cy="684.8" r="0.75" fill="#b3b3b3"/>
<circle cx="289.7" cy="676.3" r="0.75" fill="#b3b3b3"/>
<circle cx="292.4" cy="670.0" r="0.75" fill="#b3b3b3"/>
<circle cx="282.5" cy="681.3" r="0.75" fill="#b3b3b3"/>
<circle cx="286.9" cy="677.2" r="0.75" fill="#b3b3b3"/>
<circle cx="283.8" cy="680.7" r="0.75" fill="#b3b3b3"/>
<circle cx="308.4" cy="655.6" r="0.75" fill="#b3b3b3"/>
<circle cx="284.7" cy="676.9" r="0.75" fill="#b3b3b3"/>
<circle cx="279.2" cy="683.9" r="0.75" fill="#b3b3b3"/>
<circle cx="292.3" cy="673.3" r="0.75" fill="#b3b3b3"/>
<circle cx="330.7" cy="630.2" r="0.75" fill="#b3b3b3"/>
<circle cx="311.0" cy="660.4" r="0.75" fill="#b3b3b3"/>
<circle cx="294.8" cy="667.8" r="0.75" fill="#b3b3b3"/>
<circle cx="285.0" cy="677.4" r="0.75" fill="#b3b3b3"/>
<circle cx="291.2" cy="671.0" r="0.75" fill="#b3b3b3"/>
<circle cx="329.7" cy="630.1" r="0.75" fill="#b3b3b3"/>
<circle cx="285.6" cy="678.9" r="0.75" fill="#b3b3b3"/>
<circle cx="315.9" cy="647.4" r="0.75" fill="#b3b3b3"/>
<circle cx="292.3" cy="671.9" r="0.75" fill="#b3b3b3"/>
<circle cx="293.5" cy="669.0" r="0.75" fill="#b3b3b3"/>
<circle cx="314.2" cy="646.5" r="0.75" fill="#b3b3b3"/>
<circle cx="286.6" cy="678.5" r="0.75" fill="#b3b3b3"/>
<circle cx="283.5" cy="679.8" r="0.75" fill="#b3b3b3"/>
<circle cx="345.5" cy="630.2" r="0.75" fill="#b3b3b3"/>
<circle cx="316.7" cy="641.2" r="0.75" fill="#b3b3b3"/>
<circle cx="293.8" cy="670.9" r="0.75" fill="#b3b3b3"/>
<circle cx="286.9" cy="671.8" r="0.75" fill="#b3b3b3"/>
<circle cx="288.3" cy="677.9" r="0.75" fill="#b3b3b3"/>
<circle cx="287.0" cy="672.1" r="0.75" fill="#b3b3b3"/>
<circle cx="284.1" cy="680.6" r="0.75" fill="#b3b3b3"/>
<circle cx="294.7" cy="669.5" r="0.75" fill="#b3b3b3"/>
<circle cx="288.4" cy="676.5" r="0.75" fill="#b3b3b3"/>
<circle cx="304.9" cy="653.3" r="0.75" fill="#b3b3b3"/>
<circle cx="278.6" cy="686.2" r="0.75" fill="#b3b3b3"/>
<circle cx="326.1" cy="640.4" r="0.75" fill="#b3b3b3"/>
<circle cx="304.4" cy="660.4" r="0.75" fill="#b3b3b3"/>
<circle cx="280.0" cy="682.4" r="0.75" fill="#b3b3b3"/>
<circle cx="357.3" cy="611.3" r="0.75" fill="#b3b3b3"/>
<circle cx="287.7" cy="673.9" r="0.75" fill="#b3b3b3"/>
<circle cx="297.3" cy="669.8" r="0.75" fill="#b3b3b3"/>
<circle cx="280.8" cy="684.5" r="0.75" fill="#b3b3b3"/>
<circle cx="303.2" cy="662.4" r="0.75" fill="#b3b3b3"/>
<circle cx="283.8" cy="678.0" r="0.75" fill="#b3b3b3"/>
<circle cx="284.9" cy="680.9" r="0.75" fill="#b3b3b3"/>
<circle cx="285.8" cy="678.5" r="0.75" fill="#b3b3b3"/>
<circle cx="302.0" cy="663.2" r="0.75" fill="#b3b3b3"/>
<circle cx="282.9" cy="681.1" r="0.75" fill="#b3b3b3"/>
<circle cx="286.6" cy="674.1" r="0.75" fill="#b3b3b3"/>
<circle cx="292.6" cy="673.6" r="0.75" fill="#b3b3b3"/>
<circle cx="277.8" cy="685.5" r="0.75" fill="#b3b3b3"/>
<circle cx="293.8" cy="672.5" r="0.75" fill="#b3b3b3"/>
<circle cx="300.2" cy="666.1" r="0.75" fill="#b3b3b3"/>
<circle cx="322.2" cy="647.0" r="0.75" fill="#b3b3b3"/>
<circle cx="287.7" cy="679.0" r="0.75" fill="#b3b3b3"/>
<circle cx="280.5" cy="681.2" r="0.75" fill="#b3b3b3"/>
<circle cx="283.7" cy="679.8" r="0.75" fill="#b3b3b3"/>
<circle cx="310.1" cy="656.2" r="0.75" fill="#b3b3b3"/>
<circle cx="299.4" cy="666.8" r="0.75" fill="#b3b3b3"/>
<circle cx="303.9" cy="660.1" r="0.75" fill="#b3b3b3"/>
<circle cx="318.5" cy="644.0" r="0.75" fill="#b3b3b3"/>
<circle cx="290.8" cy="671.7" r="0.75" fill="#b3b3b3"/>
<circle cx="290.1" cy="674.6" r="0.75" fill="#b3b3b3"/>
<circle cx="292.6" cy="670.6" r="0.75" fill="#b3b3b3"/>
<circle cx="305.7" cy="656.7" r="0.75" fill="#b3b3b3"/>
<circle cx="307.1" cy="656.6" r="0.75" fill="#b3b3b3"/>
<circle cx="305.4" cy="659.7" r="0.75" fill="#b3b3b3"/>
<circle cx="300.4" cy="664.6" r="0.75" fill="#b3b3b3"/>
<circle cx="341.1" cy="617.7" r="0.75" fill="#b3b3b3"/>
<circle cx="278.6" cy="685.0" r="0.75" fill="#b3b3b3"/>
<circle cx="309.5" cy="654.4" r="0.75" fill="#b3b3b3"/>
<circle cx="327.6" cy="631.8" r="0.75" fill="#b3b3b3"/>
<circle cx="298.9" cy="664.4" r="0.75" fill="#b3b3b3"/>
<circle cx="320.2" cy="642.7" r="0.75" fill="#b3b3b3"/>
<circle cx="281.2" cy="683.8" r="0.75" fill="#b3b3b3"/>
<circle cx="281.4" cy="683.4" r="0.75" fill="#b3b3b3"/>
<circle cx="294.3" cy="669.1" r="0.75" fill="#b3b3b3"/>
<circle cx="286.0" cy="677.8" r="0.75" fill="#b3b3b3"/>
<circle cx="278.0" cy="683.7" r="0.75" fill="#b3b3b3"/>
<circle cx="301.0" cy="662.7" r="0.75" fill="#b3b3b3"/>
<circle cx="313.1" cy="649.2" r="0.75" fill="#b3b3b3"/>
<circle cx="283.6" cy="678.9" r="0.75" fill="#b3b3b3"/>
<circle cx="296.3" cy="672.8" r="0.75" fill="#b3b3b3"/>
<circle cx="285.8" cy="677.9" r="0.75" fill="#b3b3b3"/>
<circle cx="278.9" cy="685.0" r="0.75" fill="#b3b3b3"/>
<circle cx="295.8" cy="669.7" r="0.75" fill="#b3b3b3"/>
<circle cx="289.0" cy="673.1" r="0.75" fill="#b3b3b3"/>
<circle cx="295.5" cy="670.3" r="0.75" fill="#b3b3b3"/>
<circle cx="283.7" cy="681.3" r="0.75" fill="#b3b3b3"/>
<circle cx="302.4" cy="662.9" r="0.75" fill="#b3b3b3"/>
<circle cx="290.0" cy="673.2" r="0.75" fill="#b3b3b3"/>
<circle cx="285.3" cy="677.6" r="0.75" fill="#b3b3b3"/>
<circle cx="300.3" cy="662.8" r="0.75" fill="#b3b3b3"/>
<circle cx="294.8" cy="666.6" r="0.75" fill="#b3b3b3"/>
<circle cx="279.5" cy="684.5" r="0.75" fill="#b3b3b3"/>
<circle cx="280.4" cy="683.9" r="0.75" fill="#b3b3b3"/>
<circle cx="293.4" cy="670.6" r="0.75" fill="#b3b3b3"/>
<circle cx="287.2" cy="673.0" r="0.75" fill="#b3b3b3"/>
<circle cx="284.5" cy="679.3" r="0.75" fill="#b3b3b3"/>
<circle cx="300.6" cy="664.5" r="0.75" fill="#b3b3b3"/>
<circle cx="277.5" cy="683.8" r="0.75" fill="#b3b3b3"/>
<circle cx="295.5" cy="664.7" r="0.75" fill="#b3b3b3"/>
<circle cx="280.4" cy="680.0" r="0.75" fill="#b3b3b3"/>
<circle cx="294.9" cy="665.7" r="0.75" fill="#b3b3b3"/>
<circle cx="306.0" cy="655.4" r="0.75" fill="#b3b3b3"/>
<circle cx="284.4" cy="677.6" r="0.75" fill="#b3b3b3"/>
<circle cx="283.0" cy="681.9" r="0.75" fill="#b3b3b3"/>
<circle cx="284.1" cy="677.7" r="0.75" fill="#b3b3b3"/>
<circle cx="285.1" cy="676.6" r="0.75" fill="#b3b3b3"/>
<circle cx="294.5" cy="667.0" r="0.75" fill="#b3b3b3"/>
<circle cx="308.6" cy="660.6" r="0.75" fill="#b3b3b3"/>
<circle cx="289.7" cy="672.9" r="0.75" fill="#b3b3b3"/>
<circle cx="295.0" cy="672.3" r="0.75" fill="#b3b3b3"/>
<circle cx="287.2" cy="678.1" r="0.75" fill="#b3b3b3"/>
<circle cx="278.9" cy="683.6" r="0.75" fill="#b3b3b3"/>
<circle cx="278.3" cy="685.1" r="0.75" fill="#b3b3b3"/>
<circle cx="320.0" cy="652.5" r="0.75" fill="#b3b3b3"/>
<circle cx="277.6" cy="685.7" r="0.75" fill="#b3b3b3"/>
<circle cx="287.8" cy="674.3" r="0.75" fill="#b3b3b3"/>
<circle cx="288.4" cy="677.3" r="0.75" fill="#b3b3b3"/>
<circle cx="288.2" cy="674.9" r="0.75" fill="#b3b3b3"/>
<circle cx="280.5" cy="682.7" r="0.75" fill="#b3b3b3"/>
<circle cx="287.4" cy="679.3" r="0.75" fill="#b3b3b3"/>
<circle cx="279.4" cy="682.0" r="0.75" fill="#b3b3b3"/>
<circle cx="282.9" cy="681.0" r="0.75" fill="#b3b3b3"/>
<circle cx="283.1" cy="679.7" r="0.75" fill="#b3b3b3"/>
<circle cx="282.6" cy="681.6" r="0.75" fill="#b3b3b3"/>
<circle cx="323.0" cy="642.6" r="0.75" fill="#b3b3b3"/>
<circle cx="284.5" cy="676.9" r="0.75" fill="#b3b3b3"/>
<circle cx="298.0" cy="667.7" r="0.75" fill="#b3b3b3"/>
<circle cx="288.4" cy="674.8" r="0.75" fill="#b3b3b3"/>
<circle cx="297.3" cy="667.5" r="0.75" fill="#b3b3b3"/>
<circle cx="284.4" cy="680.7" r="0.75" fill="#b3b3b3"/>
<circle cx="282.1" cy="684.0" r="0.75" fill="#b3b3b3"/>
<circle cx="281.0" cy="681.5" r="0.75" fill="#b3b3b3"/>
<circle cx="279.0" cy="684.4" r="0.75" fill="#b3b3b3"/>
<circle cx="285.8" cy="676.5" r="0.75" fill="#b3b3b3"/>
<circle cx="284.4" cy="679.7" r="0.75" fill="#b3b3b3"/>
<circle cx="289.1" cy="675.6" r="0.75" fill="#b3b3b3"/>
<circle cx="298.1" cy="663.0" r="0.75" fill="#b3b3b3"/>
<circle cx="280.8" cy="682.8" r="0.75" fill="#b3b3b3"/>
<circle cx="323.7" cy="635.4" r="0.75" fill="#b3b3b3"/>
<circle cx="298.6" cy="671.0" r="0.75" fill="#b3b3b3"/>
<circle cx="276.9" cy="684.9" r="0.75" fill="#b3b3b3"/>
<circle cx="278.7" cy="684.7" r="0.75" fill="#b3b3b3"/>
<circle cx="279.4" cy="685.8" r="0.75" fill="#b3b3b3"/>
<circle cx="290.4" cy="671.4" r="0.75" fill="#b3b3b3"/>
<circle cx="285.3" cy="678.7" r="0.75" fill="#b3b3b3"/>
<circle cx="277.8" cy="682.7" r="0.75" fill="#b3b3b3"/>
<circle cx="288.6" cy="673.7" r="0.75" fill="#b3b3b3"/>
<circle cx="324.2" cy="638.4" r="0.75" fill="#b3b3b3"/>
<circle cx="278.4" cy="684.8" r="0.75" fill="#b3b3b3"/>
<circle cx="285.9" cy="676.8" r="0.75" fill="#b3b3b3"/>
<circle cx="286.6" cy="676.8" r="0.75" fill="#b3b3b3"/>
<circle cx="283.9" cy="679.5" r="0.75" fill="#b3b3b3"/>
<circle cx="340.0" cy="626.1" r="0.75" fill="#b3b3b3"/>
<circle cx="282.1" cy="683.3" r="0.75" fill="#b3b3b3"/>
<circle cx="291.1" cy="673.2" r="0.75" fill="#b3b3b3"/>
<circle cx="279.4" cy="684.5" r="0.75" fill="#b3b3b3"/>
<circle cx="291.0" cy="672.4" r="0.75" fill="#b3b3b3"/>
<circle cx="326.0" cy="646.7" r="0.75" fill="#b3b3b3"/>
<circle cx="282.9" cy="682.7" r="0.75" fill="#b3b3b3"/>
<circle cx="278.9" cy="686.4" r="0.75" fill="#b3b3b3"/>
<circle cx="292.9" cy="671.9" r="0.75" fill="#b3b3b3"/>
<circle cx="287.1" cy="678.9" r="0.75" fill="#b3b3b3"/>
<circle cx="323.2" cy="647.4" r="0.75" fill="#b3b3b3"/>
<circle cx="285.8" cy="681.2" r="0.75" fill="#b3b3b3"/>
<circle cx="281.6" cy="681.1" r="0.75" fill="#b3b3b3"/>
<circle cx="280.0" cy="683.9" r="0.75" fill="#b3b3b3"/>
<circle cx="303.2" cy="660.7" r="0.75" fill="#b3b3b3"/>
<circle cx="308.2" cy="657.6" r="0.75" fill="#b3b3b3"/>
<circle cx="278.8" cy="684.0" r="0.75" fill="#b3b3b3"/>
<circle cx="281.8" cy="680.4" r="0.75" fill="#b3b3b3"/>
<circle cx="292.2" cy="670.9" r="0.75" fill="#b3b3b3"/>
<circle cx="281.4" cy="680.0" r="0.75" fill="#b3b3b3"/>
<circle cx="278.1" cy="684.6" r="0.75" fill="#b3b3b3"/>
<circle cx="281.8" cy="682.3" r="0.75" fill="#b3b3b3"/>
<circle cx="278.7" cy="683.4" r="0.75" fill="#b3b3b3"/>
<circle cx="287.9" cy="677.3" r="0.75" fill="#b3b3b3"/>
<circle cx="290.4" cy="670.8" r="0.75" fill="#b3b3b3"/>
<circle cx="319.6" cy="649.9" r="0.75" fill="#b3b3b3"/>
<circle cx="294.2" cy="672.9" r="0.75" fill="#b3b3b3"/>
<circle cx="287.4" cy="675.6" r="0.75" fill="#b3b3b3"/>
<circle cx="335.3" cy="637.1" r="0.75" fill="#b3b3b3"/>
<circle cx="300.8" cy="664.3" r="0.75" fill="#b3b3b3"/>
<circle cx="308.6" cy="659.3" r="0.75" fill="#b3b3b3"/>
<circle cx="285.9" cy="677.6" r="0.75" fill="#b3b3b3"/>
<circle cx="280.7" cy="682.5" r="0.75" fill="#b3b3b3"/>
<circle cx="283.4" cy="681.1" r="0.75" fill="#b3b3b3"/>
<circle cx="279.5" cy="685.3" r="0.75" fill="#b3b3b3"/>
<circle cx="303.3" cy="662.0" r="0.75" fill="#b3b3b3"/>
<circle cx="278.7" cy="685.0" r="0.75" fill="#b3b3b3"/>
<circle cx="281.2" cy="684.5" r="0.75" fill="#b3b3b3"/>
<circle cx="326.2" cy="632.5" r="0.75" fill="#b3b3b3"/>
<circle cx="294.2" cy="669.9" r="0.75" fill="#b3b3b3"/>
<circle cx="284.6" cy="677.4" r="0.75" fill="#b3b3b3"/>
<circle cx="283.5" cy="678.0" r="0.75" fill="#b3b3b3"/>
<circle cx="308.3" cy="656.3" r="0.75" fill="#b3b3b3"/>
<circle cx="299.3" cy="663.1" r="0.75" fill="#b3b3b3"/>
<circle cx="280.4" cy="682.2" r="0.75" fill="#b3b3b3"/>
<circle cx="301.9" cy="667.5" r="0.75" fill="#b3b3b3"/>
<circle cx="304.5" cy="658.5" r="0.75" fill="#b3b3b3"/>
<circle cx="280.7" cy="684.5" r="0.75" fill="#b3b3b3"/>
<circle cx="286.6" cy="673.7" r="0.75" fill="#b3b3b3"/>
<circle cx="289.2" cy="677.7" r="0.75" fill="#b3b3b3"/>
<circle cx="324.6" cy="638.5" r="0.75" fill="#b3b3b3"/>
<circle cx="289.7" cy="671.9" r="0.75" fill="#b3b3b3"/>
<circle cx="279.8" cy="684.2" r="0.75" fill="#b3b3b3"/>
<circle cx="307.8" cy="658.2" r="0.75" fill="#b3b3b3"/>
<circle cx="344.3" cy="621.6" r="0.75" fill="#b3b3b3"/>
<circle cx="279.1" cy="686.1" r="0.75" fill="#b3b3b3"/>
<circle cx="316.3" cy="651.2" r="0.75" fill="#b3b3b3"/>
<circle cx="286.3" cy="677.4" r="0.75" fill="#b3b3b3"/>
<circle cx="281.0" cy="681.5" r="0.75" fill="#b3b3b3"/>
<circle cx="293.3" cy="673.0" r="0.75" fill="#b3b3b3"/>
<circle cx="281.4" cy="680.2" r="0.75" fill="#b3b3b3"/>
<circle cx="285.3" cy="678.6" r="0.75" fill="#b3b3b3"/>
<circle cx="303.9" cy="649.7" r="0.75" fill="#b3b3b3"/>
<circle cx="312.6" cy="655.6" r="0.75" fill="#b3b3b3"/>
<circle cx="281.0" cy="683.8" r="0.75" fill="#b3b3b3"/>
<circle cx="309.6" cy="656.6" r="0.75" fill="#b3b3b3"/>
<circle cx="281.0" cy="682.7" r="0.75" fill="#b3b3b3"/>
<circle cx="279.9" cy="684.4" r="0.75" fill="#b3b3b3"/>
<circle cx="283.4" cy="683.8" r="0.75" fill="#b3b3b3"/>
<circle cx="306.5" cy="659.9" r="0.75" fill="#b3b3b3"/>
<circle cx="309.7" cy="649.9" r="0.75" fill="#b3b3b3"/>
<circle cx="294.5" cy="669.2" r="0.75" fill="#b3b3b3"/>
<circle cx="278.6" cy="686.4" r="0.75" fill="#b3b3b3"/>
<circle cx="290.8" cy="674.4" r="0.75" fill="#b3b3b3"/>
<circle cx="286.7" cy="677.9" r="0.75" fill="#b3b3b3"/>
<circle cx="283.6" cy="678.8" r="0.75" fill="#b3b3b3"/>
<circle cx="286.0" cy="677.7" r="0.75" fill="#b3b3b3"/>
<circle cx="289.3" cy="675.3" r="0.75" fill="#b3b3b3"/>
<circle cx="350.4" cy="620.0" r="0.75" fill="#b3b3b3"/>
<circle cx="304.5" cy="655.0" r="0.75" fill="#b3b3b3"/>
<circle cx="298.0" cy="668.0" r="0.75" fill="#b3b3b3"/>
<circle cx="290.9" cy="672.7" r="0.75" fill="#b3b3b3"/>
<circle cx="294.5" cy="671.7" r="0.75" fill="#b3b3b3"/>
<circle cx="298.6" cy="667.6" r="0.75" fill="#b3b3b3"/>
<circle cx="279.2" cy="684.6" r="0.75" fill="#b3b3b3"/>
<circle cx="280.0" cy="684.9" r="0.75" fill="#b3b3b3"/>
<circle cx="301.5" cy="660.9" r="0.75" fill="#b3b3b3"/>
<circle cx="300.6" cy="665.7" r="0.75" fill="#b3b3b3"/>
<circle cx="281.4" cy="678.7" r="0.75" fill="#b3b3b3"/>
<circle cx="298.1" cy="663.2" r="0.75" fill="#b3b3b3"/>
<circle cx="296.3" cy="666.6" r="0.75" fill="#b3b3b3"/>
<circle cx="329.9" cy="630.5" r="0.75" fill="#b3b3b3"/>
<circle cx="311.6" cy="657.2" r="0.75" fill="#b3b3b3"/>
<circle cx="301.9" cy="664.0" r="0.75" fill="#b3b3b3"/>
<circle cx="290.9" cy="674.1" r="0.75" fill="#b3b3b3"/>
<circle cx="317.0" cy="647.6" r="0.75" fill="#b3b3b3"/>
<circle cx="288.7" cy="670.2" r="0.75" fill="#b3b3b3"/>
<circle cx="285.5" cy="676.6" r="0.75" fill="#b3b3b3"/>
<circle cx="281.1" cy="682.6" r="0.75" fill="#b3b3b3"/>
<circle cx="294.3" cy="666.4" r="0.75" fill="#b3b3b3"/>
<circle cx="295.8" cy="671.2" r="0.75" fill="#b3b3b3"/>
<circle cx="285.2" cy="676.6" r="0.75" fill="#b3b3b3"/>
<circle cx="290.9" cy="671.5" r="0.75" fill="#b3b3b3"/>
<circle cx="301.4" cy="666.4" r="0.75" fill="#b3b3b3"/>
<circle cx="280.6" cy="680.7" r="0.75" fill="#b3b3b3"/>
<circle cx="284.3" cy="679.9" r="0.75" fill="#b3b3b3"/>
<circle cx="314.5" cy="644.9" r="0.75" fill="#b3b3b3"/>
<circle cx="281.9" cy="683.7" r="0.75" fill="#b3b3b3"/>
<circle cx="283.3" cy="682.6" r="0.75" fill="#b3b3b3"/>
<circle cx="280.3" cy="686.1" r="0.75" fill="#b3b3b3"/>
<circle cx="316.4" cy="652.1" r="0.75" fill="#b3b3b3"/>
<circle cx="301.6" cy="665.0" r="0.75" fill="#b3b3b3"/>
<circle cx="290.4" cy="672.8" r="0.75" fill="#b3b3b3"/>
<circle cx="319.6" cy="647.1" r="0.75" fill="#b3b3b3"/>
<circle cx="293.2" cy="669.5" r="0.75" fill="#b3b3b3"/>
<circle cx="337.1" cy="628.8" r="0.75" fill="#b3b3b3"/>
<circle cx="279.7" cy="683.6" r="0.75" fill="#b3b3b3"/>
<circle cx="292.7" cy="672.5" r="0.75" fill="#b3b3b3"/>
<circle cx="281.8" cy="682.6" r="0.75" fill="#b3b3b3"/>
<circle cx="294.5" cy="671.6" r="0.75" fill="#b3b3b3"/>
<circle cx="302.0" cy="665.3" r="0.75" fill="#b3b3b3"/>
<circle cx="309.8" cy="650.1" r="0.75" fill="#b3b3b3"/>
<circle cx="342.7" cy="634.2" r="0.75" fill="#b3b3b3"/>
<circle cx="380.6" cy="586.8" r="0.75" fill="#b3b3b3"/>
<circle cx="407.4" cy="554.0" r="0.75" fill="#b3b3b3"/>
<circle cx="316.5" cy="646.8" r="0.75" fill="#b3b3b3"/>
<circle cx="347.7" cy="618.0" r="0.75" fill="#b3b3b3"/>
<circle cx="393.7" cy="572.7" r="0.75" fill="#b3b3b3"/>
<circle cx="430.3" cy="548.9" r="0.75" fill="#b3b3b3"/>
<circle cx="377.2" cy="589.3" r="0.75" fill="#b3b3b3"/>
<circle cx="328.0" cy="636.6" r="0.75" fill="#b3b3b3"/>
<circle cx="354.8" cy="612.5" r="0.75" fill="#b3b3b3"/>
<circle cx="348.6" cy="620.3" r="0.75" fill="#b3b3b3"/>
<circle cx="342.8" cy="628.9" r="0.75" fill="#b3b3b3"/>
<circle cx="357.5" cy="605.7" r="0.75" fill="#b3b3b3"/>
<circle cx="348.7" cy="618.7" r="0.75" fill="#b3b3b3"/>
<circle cx="318.6" cy="650.3" r="0.75" fill="#b3b3b3"/>
<circle cx="339.2" cy="623.1" r="0.75" fill="#b3b3b3"/>
<circle cx="335.2" cy="633.3" r="0.75" fill="#b3b3b3"/>
<circle cx="390.8" cy="581.5" r="0.75" fill="#b3b3b3"/>
<circle cx="340.3" cy="628.0" r="0.75" fill="#b3b3b3"/>
<circle cx="330.8" cy="634.7" r="0.75" fill="#b3b3b3"/>
<circle cx="311.3" cy="647.8" r="0.75" fill="#b3b3b3"/>
<circle cx="359.2" cy="611.8" r="0.75" fill="#b3b3b3"/>
<circle cx="328.4" cy="638.7" r="0.75" fill="#b3b3b3"/>
<circle cx="348.9" cy="618.4" r="0.75" fill="#b3b3b3"/>
<circle cx="329.2" cy="636.1" r="0.75" fill="#b3b3b3"/>
<circle cx="343.2" cy="620.1" r="0.75" fill="#b3b3b3"/>
<circle cx="333.1" cy="631.9" r="0.75" fill="#b3b3b3"/>
<circle cx="359.3" cy="609.8" r="0.75" fill="#b3b3b3"/>
<circle cx="351.4" cy="619.5" r="0.75" fill="#b3b3b3"/>
<circle cx="349.3" cy="613.3" r="0.75" fill="#b3b3b3"/>
<circle cx="312.6" cy="655.9" r="0.75" fill="#b3b3b3"/>
<circle cx="352.2" cy="611.0" r="0.75" fill="#b3b3b3"/>
<circle cx="349.7" cy="627.0" r="0.75" fill="#b3b3b3"/>
<circle cx="395.4" cy="568.4" r="0.75" fill="#b3b3b3"/>
<circle cx="347.3" cy="614.5" r="0.75" fill="#b3b3b3"/>
<circle cx="331.5" cy="635.3" r="0.75" fill="#b3b3b3"/>
<circle cx="330.7" cy="630.1" r="0.75" fill="#b3b3b3"/>
<circle cx="330.8" cy="631.2" r="0.75" fill="#b3b3b3"/>
<circle cx="419.9" cy="547.8" r="0.75" fill="#b3b3b3"/>
<circle cx="349.3" cy="612.8" r="0.75" fill="#b3b3b3"/>
<circle cx="357.2" cy="611.3" r="0.75" fill="#b3b3b3"/>
<circle cx="320.6" cy="647.9" r="0.75" fill="#b3b3b3"/>
<circle cx="348.5" cy="617.1" r="0.75" fill="#b3b3b3"/>
<circle cx="316.3" cy="642.6" r="0.75" fill="#b3b3b3"/>
<circle cx="343.1" cy="624.7" r="0.75" fill="#b3b3b3"/>
<circle cx="339.6" cy="637.4" r="0.75" fill="#b3b3b3"/>
<circle cx="331.6" cy="640.2" r="0.75" fill="#b3b3b3"/>
<circle cx="331.1" cy="635.3" r="0.75" fill="#b3b3b3"/>
<circle cx="358.8" cy="610.5" r="0.75" fill="#b3b3b3"/>
<circle cx="312.0" cy="657.3" r="0.75" fill="#b3b3b3"/>
<circle cx="374.6" cy="590.9" r="0.75" fill="#b3b3b3"/>
<circle cx="310.2" cy="651.0" r="0.75" fill="#b3b3b3"/>
<circle cx="324.3" cy="640.4" r="0.75" fill="#b3b3b3"/>
<circle cx="351.9" cy="612.0" r="0.75" fill="#b3b3b3"/>
<circle cx="365.4" cy="604.0" r="0.75" fill="#b3b3b3"/>
<circle cx="425.4" cy="540.2" r="0.75" fill="#b3b3b3"/>
<circle cx="321.3" cy="644.6" r="0.75" fill="#b3b3b3"/>
<circle cx="349.8" cy="622.0" r="0.75" fill="#b3b3b3"/>
<circle cx="338.2" cy="629.0" r="0.75" fill="#b3b3b3"/>
<circle cx="330.6" cy="641.2" r="0.75" fill="#b3b3b3"/>
<circle cx="324.9" cy="640.6" r="0.75" fill="#b3b3b3"/>
<circle cx="323.2" cy="635.2" r="0.75" fill="#b3b3b3"/>
<circle cx="345.7" cy="613.7" r="0.75" fill="#b3b3b3"/>
<circle cx="353.3" cy="616.3" r="0.75" fill="#b3b3b3"/>
<circle cx="324.7" cy="644.1" r="0.75" fill="#b3b3b3"/>
<circle cx="354.9" cy="611.3" r="0.75" fill="#b3b3b3"/>
<circle cx="310.9" cy="652.2" r="0.75" fill="#b3b3b3"/>
<circle cx="310.7" cy="652.3" r="0.75" fill="#b3b3b3"/>
<circle cx="342.4" cy="629.2" r="0.75" fill="#b3b3b3"/>
<circle cx="319.1" cy="650.7" r="0.75" fill="#b3b3b3"/>
<circle cx="328.6" cy="641.3" r="0.75" fill="#b3b3b3"/>
<circle cx="343.7" cy="621.4" r="0.75" fill="#b3b3b3"/>
<circle cx="354.5" cy="611.8" r="0.75" fill="#b3b3b3"/>
<circle cx="416.4" cy="546.3" r="0.75" fill="#b3b3b3"/>
<circle cx="347.0" cy="617.7" r="0.75" fill="#b3b3b3"/>
<circle cx="309.6" cy="655.2" r="0.75" fill="#b3b3b3"/>
<circle cx="425.6" cy="551.6" r="0.75" fill="#b3b3b3"/>
<circle cx="321.6" cy="641.3" r="0.75" fill="#b3b3b3"/>
<circle cx="314.1" cy="652.0" r="0.75" fill="#b3b3b3"/>
<circle cx="351.0" cy="617.2" r="0.75" fill="#b3b3b3"/>
<circle cx="319.7" cy="647.9" r="0.75" fill="#b3b3b3"/>
<circle cx="337.6" cy="626.4" r="0.75" fill="#b3b3b3"/>
<circle cx="332.2" cy="635.3" r="0.75" fill="#b3b3b3"/>
<circle cx="368.3" cy="605.1" r="0.75" fill="#b3b3b3"/>
<circle cx="350.6" cy="618.2" r="0.75" fill="#b3b3b3"/>
<circle cx="315.2" cy="650.3" r="0.75" fill="#b3b3b3"/>
<circle cx="339.3" cy="622.6" r="0.75" fill="#b3b3b3"/>
<circle cx="377.4" cy="585.1" r="0.75" fill="#b3b3b3"/>
<circle cx="338.9" cy="621.9" r="0.75" fill="#b3b3b3"/>
<circle cx="405.1" cy="550.7" r="0.75" fill="#b3b3b3"/>
<circle cx="342.9" cy="619.6" r="0.75" fill="#b3b3b3"/>
<circle cx="331.0" cy="636.0" r="0.75" fill="#b3b3b3"/>
<circle cx="311.9" cy="651.6" r="0.75" fill="#b3b3b3"/>
<circle cx="347.0" cy="617.0" r="0.75" fill="#b3b3b3"/>
<circle cx="321.6" cy="642.6" r="0.75" fill="#b3b3b3"/>
<circle cx="405.0" cy="566.9" r="0.75" fill="#b3b3b3"/>
<circle cx="311.0" cy="654.2" r="0.75" fill="#b3b3b3"/>
<circle cx="320.2" cy="654.9" r="0.75" fill="#b3b3b3"/>
<circle cx="430.0" cy="541.6" r="0.75" fill="#b3b3b3"/>
<circle cx="313.5" cy="647.8" r="0.75" fill="#b3b3b3"/>
<circle cx="312.4" cy="649.5" r="0.75" fill="#b3b3b3"/>
<circle cx="329.4" cy="647.6" r="0.75" fill="#b3b3b3"/>
<circle cx="338.0" cy="632.3" r="0.75" fill="#b3b3b3"/>
<circle cx="339.9" cy="622.7" r="0.75" fill="#b3b3b3"/>
<circle cx="408.2" cy="563.7" r="0.75" fill="#b3b3b3"/>
<circle cx="359.7" cy="611.7" r="0.75" fill="#b3b3b3"/>
<circle cx="423.9" cy="545.1" r="0.75" fill="#b3b3b3"/>
<circle cx="347.7" cy="619.3" r="0.75" fill="#b3b3b3"/>
<circle cx="395.6" cy="567.9" r="0.75" fill="#b3b3b3"/>
<circle cx="345.2" cy="621.8" r="0.75" fill="#b3b3b3"/>
<circle cx="319.2" cy="648.2" r="0.75" fill="#b3b3b3"/>
<circle cx="340.3" cy="624.4" r="0.75" fill="#b3b3b3"/>
<circle cx="340.4" cy="628.3" r="0.75" fill="#b3b3b3"/>
<circle cx="312.5" cy="653.1" r="0.75" fill="#b3b3b3"/>
<circle cx="341.1" cy="627.8" r="0.75" fill="#b3b3b3"/>
<circle cx="376.5" cy="584.7" r="0.75" fill="#b3b3b3"/>
<circle cx="357.5" cy="615.7" r="0.75" fill="#b3b3b3"/>
<circle cx="329.5" cy="634.1" r="0.75" fill="#b3b3b3"/>
<circle cx="382.8" cy="586.0" r="0.75" fill="#b3b3b3"/>
<circle cx="359.3" cy="610.9" r="0.75" fill="#b3b3b3"/>
<circle cx="348.8" cy="611.4" r="0.75" fill="#b3b3b3"/>
<circle cx="351.2" cy="623.7" r="0.75" fill="#b3b3b3"/>
<circle cx="376.7" cy="591.7" r="0.75" fill="#b3b3b3"/>
<circle cx="316.4" cy="641.4" r="0.75" fill="#b3b3b3"/>
<circle cx="400.6" cy="568.6" r="0.75" fill="#b3b3b3"/>
<circle cx="312.5" cy="654.6" r="0.75" fill="#b3b3b3"/>
<circle cx="324.4" cy="641.0" r="0.75" fill="#b3b3b3"/>
<circle cx="353.0" cy="616.1" r="0.75" fill="#b3b3b3"/>
<circle cx="325.4" cy="643.8" r="0.75" fill="#b3b3b3"/>
<circle cx="312.9" cy="658.0" r="0.75" fill="#b3b3b3"/>
<circle cx="327.2" cy="642.3" r="0.75" fill="#b3b3b3"/>
<circle cx="339.9" cy="626.3" r="0.75" fill="#b3b3b3"/>
<circle cx="325.4" cy="645.1" r="0.75" fill="#b3b3b3"/>
<circle cx="308.8" cy="649.3" r="0.75" fill="#b3b3b3"/>
<circle cx="315.5" cy="649.1" r="0.75" fill="#b3b3b3"/>
<circle cx="354.4" cy="617.1" r="0.75" fill="#b3b3b3"/>
<circle cx="310.1" cy="654.3" r="0.75" fill="#b3b3b3"/>
<circle cx="398.1" cy="567.5" r="0.75" fill="#b3b3b3"/>
<circle cx="395.0" cy="579.8" r="0.75" fill="#b3b3b3"/>
<circle cx="353.4" cy="611.2" r="0.75" fill="#b3b3b3"/>
<circle cx="314.8" cy="650.7" r="0.75" fill="#b3b3b3"/>
<circle cx="318.4" cy="642.5" r="0.75" fill="#b3b3b3"/>
<circle cx="335.0" cy="631.1" r="0.75" fill="#b3b3b3"/>
<circle cx="355.8" cy="606.8" r="0.75" fill="#b3b3b3"/>
<circle cx="335.0" cy="635.6" r="0.75" fill="#b3b3b3"/>
<circle cx="332.4" cy="632.9" r="0.75" fill="#b3b3b3"/>
<circle cx="419.5" cy="559.0" r="0.75" fill="#b3b3b3"/>
<circle cx="395.1" cy="566.2" r="0.75" fill="#b3b3b3"/>
<circle cx="350.8" cy="619.3" r="0.75" fill="#b3b3b3"/>
<circle cx="383.7" cy="585.9" r="0.75" fill="#b3b3b3"/>
<circle cx="324.8" cy="645.5" r="0.75" fill="#b3b3b3"/>
<circle cx="385.6" cy="581.0" r="0.75" fill="#b3b3b3"/>
<circle cx="311.9" cy="648.5" r="0.75" fill="#b3b3b3"/>
<circle cx="317.0" cy="648.5" r="0.75" fill="#b3b3b3"/>
<circle cx="314.7" cy="650.1" r="0.75" fill="#b3b3b3"/>
<circle cx="305.9" cy="651.8" r="0.75" fill="#b3b3b3"/>
<circle cx="339.3" cy="629.5" r="0.75" fill="#b3b3b3"/>
<circle cx="307.3" cy="652.6" r="0.75" fill="#b3b3b3"/>
<circle cx="397.0" cy="569.7" r="0.75" fill="#b3b3b3"/>
<circle cx="402.4" cy="560.7" r="0.75" fill="#b3b3b3"/>
<circle cx="333.0" cy="636.2" r="0.75" fill="#b3b3b3"/>
<circle cx="352.1" cy="614.5" r="0.75" fill="#b3b3b3"/>
<circle cx="334.9" cy="627.4" r="0.75" fill="#b3b3b3"/>
<circle cx="327.2" cy="640.3" r="0.75" fill="#b3b3b3"/>
<circle cx="326.6" cy="640.4" r="0.75" fill="#b3b3b3"/>
<circle cx="416.0" cy="557.0" r="0.75" fill="#b3b3b3"/>
<circle cx="314.2" cy="645.3" r="0.75" fill="#b3b3b3"/>
<circle cx="311.4" cy="648.7" r="0.75" fill="#b3b3b3"/>
<circle cx="312.9" cy="655.2" r="0.75" fill="#b3b3b3"/>
<circle cx="317.8" cy="648.5" r="0.75" fill="#b3b3b3"/>
<circle cx="310.9" cy="649.8" r="0.75" fill="#b3b3b3"/>
<circle cx="315.9" cy="652.5" r="0.75" fill="#b3b3b3"/>
<circle cx="322.0" cy="633.8" r="0.75" fill="#b3b3b3"/>
<circle cx="326.2" cy="637.9" r="0.75" fill="#b3b3b3"/>
<circle cx="350.7" cy="610.8" r="0.75" fill="#b3b3b3"/>
<circle cx="343.3" cy="632.6" r="0.75" fill="#b3b3b3"/>
<circle cx="322.8" cy="640.3" r="0.75" fill="#b3b3b3"/>
<circle cx="333.3" cy="637.1" r="0.75" fill="#b3b3b3"/>
<circle cx="361.3" cy="606.2" r="0.75" fill="#b3b3b3"/>
<circle cx="371.8" cy="599.4" r="0.75" fill="#b3b3b3"/>
<circle cx="318.9" cy="651.4" r="0.75" fill="#b3b3b3"/>
<circle cx="352.8" cy="615.5" r="0.75" fill="#b3b3b3"/>
<circle cx="372.9" cy="591.3" r="0.75" fill="#b3b3b3"/>
<circle cx="345.8" cy="618.6" r="0.75" fill="#b3b3b3"/>
<circle cx="397.7" cy="570.8" r="0.75" fill="#b3b3b3"/>
<circle cx="342.4" cy="625.7" r="0.75" fill="#b3b3b3"/>
<circle cx="307.9" cy="651.3" r="0.75" fill="#b3b3b3"/>
<circle cx="350.2" cy="626.4" r="0.75" fill="#b3b3b3"/>
<circle cx="412.3" cy="558.1" r="0.75" fill="#b3b3b3"/>
<circle cx="335.3" cy="633.7" r="0.75" fill="#b3b3b3"/>
<circle cx="313.5" cy="646.5" r="0.75" fill="#b3b3b3"/>
<circle cx="337.6" cy="617.8" r="0.75" fill="#b3b3b3"/>
<circle cx="348.1" cy="622.9" r="0.75" fill="#b3b3b3"/>
<circle cx="348.2" cy="619.5" r="0.75" fill="#b3b3b3"/>
<circle cx="333.3" cy="637.8" r="0.75" fill="#b3b3b3"/>
<circle cx="324.5" cy="644.7" r="0.75" fill="#b3b3b3"/>
<circle cx="378.1" cy="593.3" r="0.75" fill="#b3b3b3"/>
<circle cx="352.2" cy="616.3" r="0.75" fill="#b3b3b3"/>
<circle cx="361.5" cy="608.4" r="0.75" fill="#b3b3b3"/>
<circle cx="360.5" cy="606.4" r="0.75" fill="#b3b3b3"/>
<circle cx="341.7" cy="628.9" r="0.75" fill="#b3b3b3"/>
<circle cx="318.1" cy="642.5" r="0.75" fill="#b3b3b3"/>
<circle cx="331.2" cy="633.3" r="0.75" fill="#b3b3b3"/>
<circle cx="359.7" cy="607.0" r="0.75" fill="#b3b3b3"/>
<circle cx="317.4" cy="650.9" r="0.75" fill="#b3b3b3"/>
<circle cx="324.2" cy="642.8" r="0.75" fill="#b3b3b3"/>
<circle cx="359.0" cy="605.7" r="0.75" fill="#b3b3b3"/>
<circle cx="393.3" cy="571.2" r="0.75" fill="#b3b3b3"/>
<circle cx="326.9" cy="645.5" r="0.75" fill="#b3b3b3"/>
<circle cx="346.7" cy="620.8" r="0.75" fill="#b3b3b3"/>
<circle cx="335.6" cy="630.7" r="0.75" fill="#b3b3b3"/>
<circle cx="414.2" cy="557.0" r="0.75" fill="#b3b3b3"/>
<circle cx="344.5" cy="632.7" r="0.75" fill="#b3b3b3"/>
<circle cx="324.0" cy="643.8" r="0.75" fill="#b3b3b3"/>
<circle cx="328.1" cy="637.2" r="0.75" fill="#b3b3b3"/>
<circle cx="428.7" cy="536.8" r="0.75" fill="#b3b3b3"/>
<circle cx="333.1" cy="639.5" r="0.75" fill="#b3b3b3"/>
<circle cx="334.3" cy="626.8" r="0.75" fill="#b3b3b3"/>
<circle cx="313.0" cy="657.7" r="0.75" fill="#b3b3b3"/>
<circle cx="310.4" cy="655.6" r="0.75" fill="#b3b3b3"/>
<circle cx="323.2" cy="639.4" r="0.75" fill="#b3b3b3"/>
<circle cx="345.3" cy="618.4" r="0.75" fill="#b3b3b3"/>
<circle cx="312.1" cy="644.1" r="0.75" fill="#b3b3b3"/>
<circle cx="395.3" cy="583.3" r="0.75" fill="#b3b3b3"/>
<circle cx="378.3" cy="589.2" r="0.75" fill="#b3b3b3"/>
<circle cx="334.4" cy="633.7" r="0.75" fill="#b3b3b3"/>
<circle cx="334.2" cy="632.6" r="0.75" fill="#b3b3b3"/>
<circle cx="364.2" cy="605.0" r="0.75" fill="#b3b3b3"/>
<circle cx="372.4" cy="590.3" r="0.75" fill="#b3b3b3"/>
<circle cx="336.5" cy="635.2" r="0.75" fill="#b3b3b3"/>
<circle cx="340.4" cy="630.2" r="0.75" fill="#b3b3b3"/>
<circle cx="354.7" cy="608.1" r="0.75" fill="#b3b3b3"/>
<circle cx="323.0" cy="642.0" r="0.75" fill="#b3b3b3"/>
<circle cx="354.4" cy="609.7" r="0.75" fill="#b3b3b3"/>
<circle cx="387.5" cy="579.0" r="0.75" fill="#b3b3b3"/>
<circle cx="322.0" cy="639.9" r="0.75" fill="#b3b3b3"/>
<circle cx="331.9" cy="637.2" r="0.75" fill="#b3b3b3"/>
<circle cx="344.2" cy="623.5" r="0.75" fill="#b3b3b3"/>
<circle cx="367.9" cy="604.4" r="0.75" fill="#b3b3b3"/>
<circle cx="427.6" cy="536.1" r="0.75" fill="#b3b3b3"/>
<circle cx="343.7" cy="621.3" r="0.75" fill="#b3b3b3"/>
<circle cx="346.0" cy="626.2" r="0.75" fill="#b3b3b3"/>
<circle cx="429.0" cy="547.2" r="0.75" fill="#b3b3b3"/>
<circle cx="390.5" cy="577.6" r="0.75" fill="#b3b3b3"/>
<circle cx="345.5" cy="616.4" r="0.75" fill="#b3b3b3"/>
<circle cx="330.8" cy="642.3" r="0.75" fill="#b3b3b3"/>
<circle cx="400.3" cy="570.2" r="0.75" fill="#b3b3b3"/>
<circle cx="336.3" cy="625.8" r="0.75" fill="#b3b3b3"/>
<circle cx="391.7" cy="577.4" r="0.75" fill="#b3b3b3"/>
<circle cx="315.8" cy="652.5" r="0.75" fill="#b3b3b3"/>
<circle cx="406.3" cy="568.4" r="0.75" fill="#b3b3b3"/>
<circle cx="321.9" cy="648.6" r="0.75" fill="#b3b3b3"/>
<circle cx="434.9" cy="542.1" r="0.75" fill="#b3b3b3"/>
<circle cx="326.3" cy="630.0" r="0.75" fill="#b3b3b3"/>
<circle cx="351.3" cy="620.2" r="0.75" fill="#b3b3b3"/>
<circle cx="367.5" cy="605.5" r="0.75" fill="#b3b3b3"/>
<circle cx="395.5" cy="580.8" r="0.75" fill="#b3b3b3"/>
<circle cx="360.9" cy="609.3" r="0.75" fill="#b3b3b3"/>
<circle cx="314.1" cy="655.4" r="0.75" fill="#b3b3b3"/>
<circle cx="431.8" cy="537.2" r="0.80" fill="#e8281f"/>
<circle cx="434.4" cy="550.6" r="0.80" fill="#e8281f"/>
<circle cx="435.1" cy="556.6" r="0.80" fill="#e8281f"/>
<circle cx="413.6" cy="559.0" r="0.80" fill="#e8281f"/>
<circle cx="410.0" cy="572.7" r="0.80" fill="#e8281f"/>
<circle cx="419.5" cy="569.7" r="0.80" fill="#e8281f"/>
<circle cx="395.4" cy="578.9" r="0.80" fill="#e8281f"/>
<circle cx="384.3" cy="579.5" r="0.80" fill="#e8281f"/>
<circle cx="392.1" cy="584.9" r="0.80" fill="#e8281f"/>
<circle cx="375.2" cy="590.9" r="0.80" fill="#e8281f"/>
<circle cx="371.9" cy="593.9" r="0.80" fill="#e8281f"/>
<circle cx="385.6" cy="601.6" r="0.80" fill="#e8281f"/>
<circle cx="392.1" cy="605.8" r="0.80" fill="#e8281f"/>
<circle cx="371.9" cy="608.8" r="0.80" fill="#e8281f"/>
<circle cx="353.4" cy="596.8" r="0.80" fill="#e8281f"/>
<circle cx="361.9" cy="601.0" r="0.80" fill="#e8281f"/>
<circle cx="364.5" cy="601.6" r="0.80" fill="#e8281f"/>
<circle cx="355.0" cy="608.8" r="0.80" fill="#e8281f"/>
<circle cx="363.5" cy="617.7" r="0.80" fill="#e8281f"/>
<circle cx="347.9" cy="640.1" r="0.80" fill="#e8281f"/>
<circle cx="336.1" cy="640.1" r="0.80" fill="#e8281f"/>
<circle cx="337.8" cy="641.6" r="0.80" fill="#e8281f"/>
<circle cx="331.6" cy="650.5" r="0.80" fill="#e8281f"/>
<circle cx="327.0" cy="646.0" r="0.80" fill="#e8281f"/>
<circle cx="333.5" cy="626.7" r="0.80" fill="#e8281f"/>
<circle cx="323.8" cy="629.6" r="0.80" fill="#e8281f"/>
<circle cx="320.5" cy="633.2" r="0.80" fill="#e8281f"/>
<circle cx="314.0" cy="644.6" r="0.80" fill="#e8281f"/>
<circle cx="310.8" cy="638.6" r="0.80" fill="#e8281f"/>
<circle cx="307.5" cy="647.5" r="0.80" fill="#e8281f"/>
<circle cx="317.3" cy="659.5" r="0.80" fill="#e8281f"/>
<circle cx="322.1" cy="661.0" r="0.80" fill="#e8281f"/>
<circle cx="327.0" cy="664.8" r="0.80" fill="#e8281f"/>
<circle cx="312.4" cy="653.5" r="0.80" fill="#e8281f"/>
<circle cx="304.2" cy="658.0" r="0.80" fill="#e8281f"/>
<circle cx="296.1" cy="655.0" r="0.80" fill="#e8281f"/>
<circle cx="301.0" cy="650.5" r="0.80" fill="#e8281f"/>
<circle cx="309.1" cy="669.9" r="0.80" fill="#e8281f"/>
<circle cx="297.7" cy="677.2" r="0.80" fill="#e8281f"/>
<circle cx="286.8" cy="685.5" r="0.80" fill="#e8281f"/>
<circle cx="318.8" cy="656.6" r="0.80" fill="#e8281f"/>
<circle cx="297.8" cy="678.7" r="0.80" fill="#e8281f"/>
<circle cx="295.4" cy="680.2" r="0.80" fill="#e8281f"/>
<circle cx="307.8" cy="670.1" r="0.80" fill="#e8281f"/>
<circle cx="302.8" cy="671.6" r="0.80" fill="#e8281f"/>
<circle cx="295.1" cy="678.8" r="0.80" fill="#e8281f"/>
<circle cx="285.1" cy="686.7" r="0.80" fill="#e8281f"/>
<circle cx="291.0" cy="682.3" r="0.80" fill="#e8281f"/>
<circle cx="315.0" cy="663.7" r="0.80" fill="#e8281f"/>
<circle cx="298.2" cy="675.4" r="0.80" fill="#e8281f"/>
<circle cx="297.1" cy="678.4" r="0.80" fill="#e8281f"/>
<circle cx="302.3" cy="671.0" r="0.80" fill="#e8281f"/>
<circle cx="304.3" cy="669.9" r="0.80" fill="#e8281f"/>
<circle cx="292.2" cy="683.7" r="0.80" fill="#e8281f"/>
<circle cx="289.8" cy="684.1" r="0.80" fill="#e8281f"/>
<circle cx="313.8" cy="662.7" r="0.80" fill="#e8281f"/>
<circle cx="317.0" cy="658.6" r="0.80" fill="#e8281f"/>
<circle cx="318.8" cy="655.4" r="0.80" fill="#e8281f"/>
<circle cx="318.1" cy="658.1" r="0.80" fill="#e8281f"/>
<circle cx="285.6" cy="687.0" r="0.80" fill="#e8281f"/>
<circle cx="322.3" cy="655.8" r="0.80" fill="#e8281f"/>
<circle cx="313.5" cy="664.4" r="0.80" fill="#e8281f"/>
<circle cx="285.9" cy="687.0" r="0.80" fill="#e8281f"/>
<circle cx="304.1" cy="673.5" r="0.80" fill="#e8281f"/>
<circle cx="317.7" cy="657.0" r="0.80" fill="#e8281f"/>
<circle cx="321.8" cy="655.5" r="0.80" fill="#e8281f"/>
<circle cx="295.9" cy="676.6" r="0.80" fill="#e8281f"/>
<circle cx="301.6" cy="673.8" r="0.80" fill="#e8281f"/>
<circle cx="301.9" cy="672.3" r="0.80" fill="#e8281f"/>
<circle cx="320.1" cy="656.5" r="0.80" fill="#e8281f"/>
<circle cx="298.1" cy="678.4" r="0.80" fill="#e8281f"/>
<circle cx="294.8" cy="679.5" r="0.80" fill="#e8281f"/>
<circle cx="289.2" cy="683.6" r="0.80" fill="#e8281f"/>
<circle cx="322.3" cy="655.3" r="0.80" fill="#e8281f"/>
<circle cx="305.5" cy="671.0" r="0.80" fill="#e8281f"/>
<circle cx="310.4" cy="665.7" r="0.80" fill="#e8281f"/>
<circle cx="298.3" cy="674.7" r="0.80" fill="#e8281f"/>
<circle cx="286.2" cy="685.7" r="0.80" fill="#e8281f"/>
<circle cx="299.3" cy="673.1" r="0.80" fill="#e8281f"/>
<circle cx="309.9" cy="665.1" r="0.80" fill="#e8281f"/>
<circle cx="294.1" cy="679.5" r="0.80" fill="#e8281f"/>
<circle cx="303.0" cy="670.8" r="0.80" fill="#e8281f"/>
<circle cx="316.7" cy="659.7" r="0.80" fill="#e8281f"/>
<circle cx="276.8" cy="681.3" r="0.80" fill="#e8281f"/>
<circle cx="299.0" cy="657.6" r="0.80" fill="#e8281f"/>
<circle cx="281.0" cy="673.2" r="0.80" fill="#e8281f"/>
<circle cx="273.1" cy="679.2" r="0.80" fill="#e8281f"/>
<circle cx="300.0" cy="656.0" r="0.80" fill="#e8281f"/>
<circle cx="275.0" cy="680.6" r="0.80" fill="#e8281f"/>
<circle cx="297.4" cy="659.0" r="0.80" fill="#e8281f"/>
<circle cx="280.3" cy="677.0" r="0.80" fill="#e8281f"/>
<circle cx="275.0" cy="680.0" r="0.80" fill="#e8281f"/>
<circle cx="278.7" cy="677.1" r="0.80" fill="#e8281f"/>
<circle cx="298.0" cy="656.3" r="0.80" fill="#e8281f"/>
<circle cx="286.6" cy="667.6" r="0.80" fill="#e8281f"/>
<circle cx="275.5" cy="676.6" r="0.80" fill="#e8281f"/>
<circle cx="298.6" cy="658.6" r="0.80" fill="#e8281f"/>
<text x="418.5" y="569.1" font-size="6.2" text-anchor="start" fill="#333" >HLA−B</text>
<text x="363.6" y="590.7" font-size="6.2" text-anchor="start" fill="#333" >CCL5</text>
<text x="293.9" y="640.4" font-size="5.8" text-anchor="start" fill="#333" >NCR3JUN</text>
<text x="293.7" y="648.2" font-size="5.8" text-anchor="start" fill="#333" >CCL4</text>
<text x="280.9" y="654.4" font-size="5.8" text-anchor="start" fill="#333" >ZFP36</text>
<text x="277.9" y="663.1" font-size="5.8" text-anchor="start" fill="#333" >DUSP1</text>
<text x="280.9" y="670.5" font-size="5.8" text-anchor="start" fill="#333" >TNF</text>
<text x="270.0" y="675.1" font-size="5.8" text-anchor="start" fill="#333" >FOS</text>
<text x="309.5" y="664.0" font-size="5.8" text-anchor="start" fill="#333" >TGFB1</text>
<text x="327.0" y="666.6" font-size="5.8" text-anchor="start" fill="#333" >KLF2</text>
<text x="324.0" y="671.0" font-size="5.8" text-anchor="start" fill="#333" >BAX</text>
<text x="323.0" y="676.8" font-size="5.8" text-anchor="start" fill="#333" >TRAC</text>
<text x="306.8" y="678.4" font-size="5.8" text-anchor="start" fill="#333" >LAG3</text>
<text x="301.2" y="683.8" font-size="5.8" text-anchor="start" fill="#333" >TGFBR2</text>
<text x="289.3" y="688.5" font-size="5.8" text-anchor="start" fill="#333" >MAPK14</text>
<text x="288.4" y="693.8" font-size="5.8" text-anchor="start" fill="#333" >KLRC1</text>
<line x1="298.0" y1="653.5" x2="302.0" y2="656.0" stroke="#333" stroke-width="0.4" />
<line x1="296.0" y1="661.5" x2="300.0" y2="662.5" stroke="#333" stroke-width="0.4" />
<line x1="291.0" y1="668.5" x2="294.0" y2="668.0" stroke="#333" stroke-width="0.4" />
<line x1="278.5" y1="674.0" x2="280.0" y2="677.0" stroke="#333" stroke-width="0.4" />
<line x1="326.0" y1="662.0" x2="320.0" y2="662.5" stroke="#333" stroke-width="0.4" />
<line x1="324.0" y1="669.0" x2="316.0" y2="666.0" stroke="#333" stroke-width="0.4" />
<line x1="323.0" y1="675.0" x2="314.0" y2="668.0" stroke="#333" stroke-width="0.4" />
<line x1="306.5" y1="677.0" x2="300.0" y2="674.0" stroke="#333" stroke-width="0.4" />
<line x1="288.0" y1="687.0" x2="284.0" y2="684.0" stroke="#333" stroke-width="0.4" />
<line x1="288.0" y1="692.0" x2="284.0" y2="686.0" stroke="#333" stroke-width="0.4" />
<line x1="415.0" y1="566.5" x2="412.0" y2="565.0" stroke="#333" stroke-width="0.4" />
<line x1="380.0" y1="589.0" x2="383.0" y2="591.0" stroke="#333" stroke-width="0.4" />
<rect x="583.80" y="530.20" width="83.00" height="4.20" fill="#509e8a" />
<text x="583.0" y="534.3" font-size="4.2" text-anchor="end" fill="#444" >SRP−dependent cotranslational protein targeting to membrane</text>
<rect x="583.80" y="535.10" width="83.00" height="4.20" fill="#509e8a" />
<text x="583.0" y="539.2" font-size="4.2" text-anchor="end" fill="#444" >Protein targeting to ER</text>
<rect x="583.80" y="540.00" width="83.00" height="4.20" fill="#509e8a" />
<text x="583.0" y="544.1" font-size="4.2" text-anchor="end" fill="#444" >Nuclear-transcribed mRNA catabolic process</text>
<rect x="583.80" y="544.90" width="83.00" height="4.20" fill="#509e8a" />
<text x="583.0" y="549.0" font-size="4.2" text-anchor="end" fill="#444" >Establishment of protein localization to endoplasmic reticulum</text>
<rect x="583.80" y="549.80" width="83.00" height="4.20" fill="#509e8a" />
<text x="583.0" y="553.9" font-size="4.2" text-anchor="end" fill="#444" >Cotranslational protein targeting to membrane</text>
<rect x="583.80" y="554.70" width="78.90" height="4.20" fill="#509e8a" />
<text x="583.0" y="558.8" font-size="4.2" text-anchor="end" fill="#444" >Protein localization to endoplasmic reticulum</text>
<rect x="583.80" y="559.60" width="74.70" height="4.20" fill="#509e8a" />
<text x="583.0" y="563.7" font-size="4.2" text-anchor="end" fill="#444" >Viral transcription</text>
<rect x="583.80" y="564.50" width="73.80" height="4.20" fill="#509e8a" />
<text x="583.0" y="568.6" font-size="4.2" text-anchor="end" fill="#444" >Viral gene expression</text>
<rect x="583.80" y="569.40" width="73.80" height="4.20" fill="#509e8a" />
<text x="583.0" y="573.5" font-size="4.2" text-anchor="end" fill="#444" >Translational initiation</text>
<rect x="583.80" y="574.30" width="73.10" height="4.20" fill="#509e8a" />
<text x="583.0" y="578.4" font-size="4.2" text-anchor="end" fill="#444" >Protein targeting to membrane</text>
<rect x="583.80" y="579.20" width="73.10" height="4.20" fill="#509e8a" />
<text x="583.0" y="583.3" font-size="4.2" text-anchor="end" fill="#444" >Nuclear-transcribed mRNA catabolic process</text>
<rect x="583.80" y="584.10" width="61.10" height="4.20" fill="#509e8a" />
<text x="583.0" y="588.2" font-size="4.2" text-anchor="end" fill="#444" >Establishment of protein localization to membrane</text>
<rect x="583.80" y="589.00" width="59.20" height="4.20" fill="#509e8a" />
<text x="583.0" y="593.1" font-size="4.2" text-anchor="end" fill="#444" >mRNA catabolic process</text>
<rect x="583.80" y="593.90" width="57.00" height="4.20" fill="#509e8a" />
<text x="583.0" y="598.0" font-size="4.2" text-anchor="end" fill="#444" >RNA catabolic process</text>
<rect x="583.80" y="598.80" width="55.20" height="4.20" fill="#509e8a" />
<text x="583.0" y="602.9" font-size="4.2" text-anchor="end" fill="#444" >Protein targeting</text>
<rect x="554.40" y="605.30" width="29.40" height="4.20" fill="#5fb4d0" />
<text x="585.0" y="609.4" font-size="4.2" text-anchor="start" fill="#444" >Regulation of leukocyte mediated cytotoxicity</text>
<rect x="554.40" y="610.24" width="29.40" height="4.20" fill="#5fb4d0" />
<text x="585.0" y="614.3" font-size="4.2" text-anchor="start" fill="#444" >Regulation of cell killing</text>
<rect x="554.40" y="615.18" width="29.40" height="4.20" fill="#5fb4d0" />
<text x="585.0" y="619.3" font-size="4.2" text-anchor="start" fill="#444" >Positive regulation of lymphocyte mediated immunity</text>
<rect x="554.40" y="620.12" width="29.40" height="4.20" fill="#5fb4d0" />
<text x="585.0" y="624.2" font-size="4.2" text-anchor="start" fill="#444" >Positive regulation of leukocyte mediated cytotoxicity</text>
<rect x="554.40" y="625.06" width="29.40" height="4.20" fill="#5fb4d0" />
<text x="585.0" y="629.2" font-size="4.2" text-anchor="start" fill="#444" >Positive regulation of cell killing</text>
<rect x="554.40" y="630.00" width="29.40" height="4.20" fill="#5fb4d0" />
<text x="585.0" y="634.1" font-size="4.2" text-anchor="start" fill="#444" >Leukocyte mediated cytotoxicity</text>
<rect x="555.90" y="634.94" width="27.90" height="4.20" fill="#5fb4d0" />
<text x="585.0" y="639.0" font-size="4.2" text-anchor="start" fill="#444" >Positive regulation of leukocyte mediated immunity</text>
<rect x="556.50" y="639.88" width="27.30" height="4.20" fill="#5fb4d0" />
<text x="585.0" y="644.0" font-size="4.2" text-anchor="start" fill="#444" >Regulation of lymphocyte mediated immunity</text>
<rect x="556.90" y="644.82" width="26.90" height="4.20" fill="#5fb4d0" />
<text x="585.0" y="648.9" font-size="4.2" text-anchor="start" fill="#444" >Cell killing</text>
<rect x="558.60" y="649.76" width="25.20" height="4.20" fill="#5fb4d0" />
<text x="585.0" y="653.9" font-size="4.2" text-anchor="start" fill="#444" >Regulation of leukocyte mediated immunity</text>
<rect x="558.60" y="654.70" width="25.20" height="4.20" fill="#5fb4d0" />
<text x="585.0" y="658.8" font-size="4.2" text-anchor="start" fill="#444" >Positive regulation of immune effector process</text>
<rect x="563.30" y="659.64" width="20.50" height="4.20" fill="#5fb4d0" />
<text x="585.0" y="663.7" font-size="4.2" text-anchor="start" fill="#444" >Positive regulation of receptor binding</text>
<rect x="563.30" y="664.58" width="20.50" height="4.20" fill="#5fb4d0" />
<text x="585.0" y="668.7" font-size="4.2" text-anchor="start" fill="#444" >Lymphocyte-mediated immunity</text>
<rect x="563.30" y="669.52" width="20.50" height="4.20" fill="#5fb4d0" />
<text x="585.0" y="673.6" font-size="4.2" text-anchor="start" fill="#444" >Cellular response to iron ion</text>
<rect x="563.30" y="674.46" width="20.50" height="4.20" fill="#5fb4d0" />
<text x="585.0" y="678.6" font-size="4.2" text-anchor="start" fill="#444" >Regulation of immune effector process</text>
<rect x="563.70" y="679.40" width="20.10" height="4.20" fill="#5fb4d0" />
<text x="585.0" y="683.5" font-size="4.2" text-anchor="start" fill="#444" >Negative regulation of receptor binding</text>
<rect x="563.70" y="684.34" width="20.10" height="4.20" fill="#5fb4d0" />
<text x="585.0" y="688.4" font-size="4.2" text-anchor="start" fill="#444" >Antigen processing and presentation via MHC class Ib</text>
<rect x="563.70" y="689.28" width="20.10" height="4.20" fill="#5fb4d0" />
<text x="585.0" y="693.4" font-size="4.2" text-anchor="start" fill="#444" >Amyloid fibril formation</text>
<line x1="477.8" y1="694.3" x2="670.8" y2="694.3" stroke="#8a8a8a" stroke-width="0.8" />
<line x1="499.7" y1="694.3" x2="499.7" y2="696.6" stroke="#8a8a8a" stroke-width="0.6" />
<text x="498.2" y="706.1" font-size="7.6" text-anchor="middle" fill="#333" >−6</text>
<line x1="528.8" y1="694.3" x2="528.8" y2="696.6" stroke="#8a8a8a" stroke-width="0.6" />
<text x="527.3" y="706.1" font-size="7.6" text-anchor="middle" fill="#333" >−4</text>
<line x1="557.5" y1="694.3" x2="557.5" y2="696.6" stroke="#8a8a8a" stroke-width="0.6" />
<text x="556.0" y="706.1" font-size="7.6" text-anchor="middle" fill="#333" >−2</text>
<line x1="584.0" y1="694.3" x2="584.0" y2="696.6" stroke="#8a8a8a" stroke-width="0.6" />
<text x="584.0" y="706.1" font-size="7.6" text-anchor="middle" fill="#333" >0</text>
<line x1="605.4" y1="694.3" x2="605.4" y2="696.6" stroke="#8a8a8a" stroke-width="0.6" />
<text x="605.4" y="706.1" font-size="7.6" text-anchor="middle" fill="#333" >2</text>
<line x1="632.4" y1="694.3" x2="632.4" y2="696.6" stroke="#8a8a8a" stroke-width="0.6" />
<text x="632.4" y="706.1" font-size="7.6" text-anchor="middle" fill="#333" >4</text>
<line x1="658.2" y1="694.3" x2="658.2" y2="696.6" stroke="#8a8a8a" stroke-width="0.6" />
<text x="658.2" y="706.1" font-size="7.6" text-anchor="middle" fill="#333" >6</text>
<text x="527.4" y="718.6" font-size="8.9" fill="#2b2b2b">−log<tspan font-size="5.8" dy="2">10</tspan><tspan dy="-2">(adjusted </tspan><tspan font-style="italic">P</tspan> value)</text>
<rect x="528.00" y="517.30" width="7.00" height="7.00" fill="#5fb4d0" />
<text x="539.7" y="524.0" font-size="8.85" text-anchor="start" fill="#2b2b2b" >Sensitive</text>
<rect x="588.80" y="517.20" width="7.20" height="7.00" fill="#509e8a" />
<text x="600.5" y="524.0" font-size="8.7" text-anchor="start" fill="#2b2b2b" >Resistant</text></svg>
</body></html>
